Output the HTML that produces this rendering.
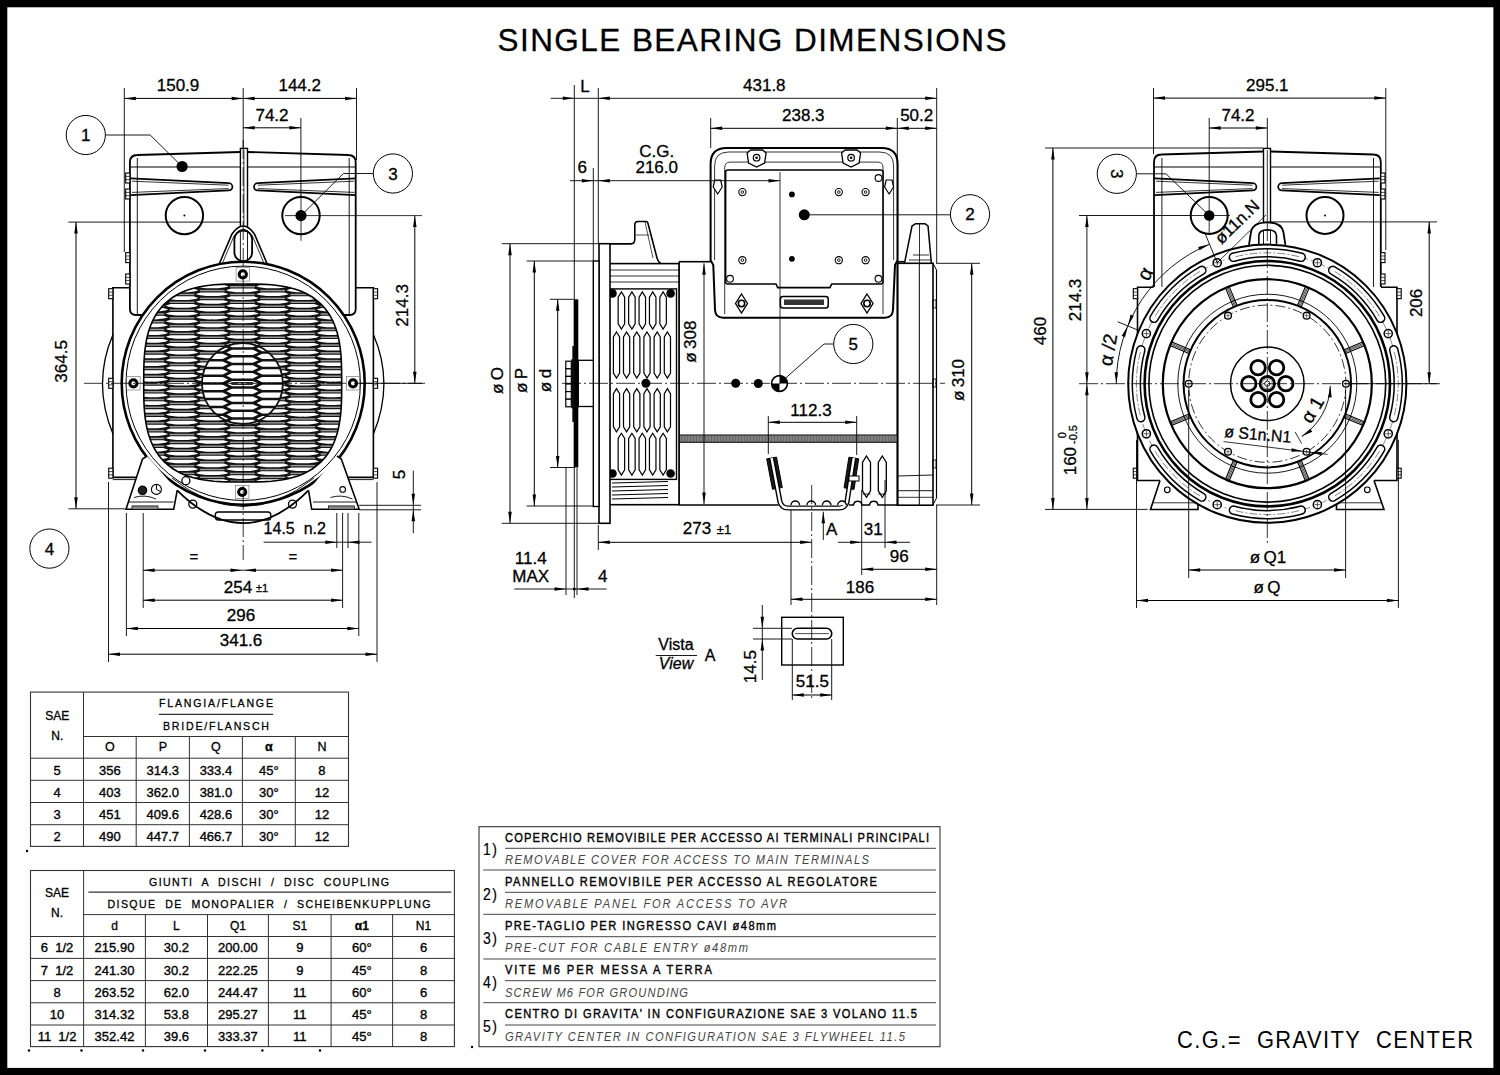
<!DOCTYPE html>
<html><head><meta charset="utf-8"><style>html,body{margin:0;padding:0;background:#000;}svg{display:block}</style></head>
<body><svg width="1500" height="1075" viewBox="0 0 1500 1075" stroke-linecap="butt">
<rect x="0" y="0" width="1500" height="1075" fill="#000"/>
<rect x="7.3" y="7.3" width="1486.1" height="1060.6" fill="#fff"/>
<rect x="30.5" y="692.1" width="318" height="154.3" stroke="#333" stroke-width="1.1" fill="none"/>
<line x1="83.5" y1="692.1" x2="83.5" y2="846.4" stroke="#333" stroke-width="1"/>
<line x1="136.2" y1="736.5" x2="136.2" y2="846.4" stroke="#333" stroke-width="1"/>
<line x1="189.4" y1="736.5" x2="189.4" y2="846.4" stroke="#333" stroke-width="1"/>
<line x1="242.4" y1="736.5" x2="242.4" y2="846.4" stroke="#333" stroke-width="1"/>
<line x1="295.3" y1="736.5" x2="295.3" y2="846.4" stroke="#333" stroke-width="1"/>
<line x1="83.5" y1="736.5" x2="348.5" y2="736.5" stroke="#333" stroke-width="1"/>
<line x1="30.5" y1="758.2" x2="348.5" y2="758.2" stroke="#333" stroke-width="1"/>
<line x1="30.5" y1="780.3" x2="348.5" y2="780.3" stroke="#333" stroke-width="1"/>
<line x1="30.5" y1="802.5" x2="348.5" y2="802.5" stroke="#333" stroke-width="1"/>
<line x1="30.5" y1="824.7" x2="348.5" y2="824.7" stroke="#333" stroke-width="1"/>
<g transform="translate(216,707.3) scale(0.9,1)"><text x="0" y="0" font-family="Liberation Sans" font-size="11.8" text-anchor="middle" fill="#000" stroke="#000" stroke-width="0.3" textLength="126.67" lengthAdjust="spacing" xml:space="preserve">FLANGIA/FLANGE</text></g>
<line x1="158.8" y1="714.3" x2="273.2" y2="714.3" stroke="#000" stroke-width="1"/>
<g transform="translate(216,730.2) scale(0.9,1)"><text x="0" y="0" font-family="Liberation Sans" font-size="11.8" text-anchor="middle" fill="#000" stroke="#000" stroke-width="0.3" textLength="117.78" lengthAdjust="spacing" xml:space="preserve">BRIDE/FLANSCH</text></g>
<text x="57.3" y="720" font-family="Liberation Sans" font-size="12" text-anchor="middle" fill="#000" stroke="#000" stroke-width="0.3">SAE</text>
<text x="57.3" y="739.5" font-family="Liberation Sans" font-size="12" text-anchor="middle" fill="#000" stroke="#000" stroke-width="0.3">N.</text>
<text x="109.85" y="751.2" font-family="Liberation Sans" font-size="12.5" text-anchor="middle" fill="#000" stroke="#000" stroke-width="0.3">O</text>
<text x="162.8" y="751.2" font-family="Liberation Sans" font-size="12.5" text-anchor="middle" fill="#000" stroke="#000" stroke-width="0.3">P</text>
<text x="215.9" y="751.2" font-family="Liberation Sans" font-size="12.5" text-anchor="middle" fill="#000" stroke="#000" stroke-width="0.3">Q</text>
<text x="268.85" y="751.2" font-family="Liberation Sans" font-size="12.5" text-anchor="middle" fill="#000" stroke="#000" stroke-width="0.3" font-weight="bold">α</text>
<text x="321.9" y="751.2" font-family="Liberation Sans" font-size="12.5" text-anchor="middle" fill="#000" stroke="#000" stroke-width="0.3">N</text>
<text x="57" y="774.5" font-family="Liberation Sans" font-size="13" text-anchor="middle" fill="#000" stroke="#000" stroke-width="0.35">5</text>
<text x="109.85" y="774.5" font-family="Liberation Sans" font-size="13" text-anchor="middle" fill="#000" stroke="#000" stroke-width="0.35">356</text>
<text x="162.8" y="774.5" font-family="Liberation Sans" font-size="13" text-anchor="middle" fill="#000" stroke="#000" stroke-width="0.35">314.3</text>
<text x="215.9" y="774.5" font-family="Liberation Sans" font-size="13" text-anchor="middle" fill="#000" stroke="#000" stroke-width="0.35">333.4</text>
<text x="268.85" y="774.5" font-family="Liberation Sans" font-size="13" text-anchor="middle" fill="#000" stroke="#000" stroke-width="0.35">45°</text>
<text x="321.9" y="774.5" font-family="Liberation Sans" font-size="13" text-anchor="middle" fill="#000" stroke="#000" stroke-width="0.35">8</text>
<text x="57" y="796.7" font-family="Liberation Sans" font-size="13" text-anchor="middle" fill="#000" stroke="#000" stroke-width="0.35">4</text>
<text x="109.85" y="796.7" font-family="Liberation Sans" font-size="13" text-anchor="middle" fill="#000" stroke="#000" stroke-width="0.35">403</text>
<text x="162.8" y="796.7" font-family="Liberation Sans" font-size="13" text-anchor="middle" fill="#000" stroke="#000" stroke-width="0.35">362.0</text>
<text x="215.9" y="796.7" font-family="Liberation Sans" font-size="13" text-anchor="middle" fill="#000" stroke="#000" stroke-width="0.35">381.0</text>
<text x="268.85" y="796.7" font-family="Liberation Sans" font-size="13" text-anchor="middle" fill="#000" stroke="#000" stroke-width="0.35">30°</text>
<text x="321.9" y="796.7" font-family="Liberation Sans" font-size="13" text-anchor="middle" fill="#000" stroke="#000" stroke-width="0.35">12</text>
<text x="57" y="818.8" font-family="Liberation Sans" font-size="13" text-anchor="middle" fill="#000" stroke="#000" stroke-width="0.35">3</text>
<text x="109.85" y="818.8" font-family="Liberation Sans" font-size="13" text-anchor="middle" fill="#000" stroke="#000" stroke-width="0.35">451</text>
<text x="162.8" y="818.8" font-family="Liberation Sans" font-size="13" text-anchor="middle" fill="#000" stroke="#000" stroke-width="0.35">409.6</text>
<text x="215.9" y="818.8" font-family="Liberation Sans" font-size="13" text-anchor="middle" fill="#000" stroke="#000" stroke-width="0.35">428.6</text>
<text x="268.85" y="818.8" font-family="Liberation Sans" font-size="13" text-anchor="middle" fill="#000" stroke="#000" stroke-width="0.35">30°</text>
<text x="321.9" y="818.8" font-family="Liberation Sans" font-size="13" text-anchor="middle" fill="#000" stroke="#000" stroke-width="0.35">12</text>
<text x="57" y="841" font-family="Liberation Sans" font-size="13" text-anchor="middle" fill="#000" stroke="#000" stroke-width="0.35">2</text>
<text x="109.85" y="841" font-family="Liberation Sans" font-size="13" text-anchor="middle" fill="#000" stroke="#000" stroke-width="0.35">490</text>
<text x="162.8" y="841" font-family="Liberation Sans" font-size="13" text-anchor="middle" fill="#000" stroke="#000" stroke-width="0.35">447.7</text>
<text x="215.9" y="841" font-family="Liberation Sans" font-size="13" text-anchor="middle" fill="#000" stroke="#000" stroke-width="0.35">466.7</text>
<text x="268.85" y="841" font-family="Liberation Sans" font-size="13" text-anchor="middle" fill="#000" stroke="#000" stroke-width="0.35">30°</text>
<text x="321.9" y="841" font-family="Liberation Sans" font-size="13" text-anchor="middle" fill="#000" stroke="#000" stroke-width="0.35">12</text>
<circle cx="27" cy="851" r="1.2" fill="#000"/>
<rect x="30.5" y="870.5" width="423.9" height="176.1" stroke="#333" stroke-width="1.1" fill="none"/>
<line x1="83.6" y1="870.5" x2="83.6" y2="1046.6" stroke="#333" stroke-width="1"/>
<line x1="145.4" y1="914.6" x2="145.4" y2="1046.6" stroke="#333" stroke-width="1"/>
<line x1="207.5" y1="914.6" x2="207.5" y2="1046.6" stroke="#333" stroke-width="1"/>
<line x1="268.4" y1="914.6" x2="268.4" y2="1046.6" stroke="#333" stroke-width="1"/>
<line x1="331.1" y1="914.6" x2="331.1" y2="1046.6" stroke="#333" stroke-width="1"/>
<line x1="392.6" y1="914.6" x2="392.6" y2="1046.6" stroke="#333" stroke-width="1"/>
<line x1="83.6" y1="914.6" x2="454.4" y2="914.6" stroke="#333" stroke-width="1"/>
<line x1="30.5" y1="936.5" x2="454.4" y2="936.5" stroke="#333" stroke-width="1"/>
<line x1="30.5" y1="958.4" x2="454.4" y2="958.4" stroke="#333" stroke-width="1"/>
<line x1="30.5" y1="980.6" x2="454.4" y2="980.6" stroke="#333" stroke-width="1"/>
<line x1="30.5" y1="1002.8" x2="454.4" y2="1002.8" stroke="#333" stroke-width="1"/>
<line x1="30.5" y1="1025" x2="454.4" y2="1025" stroke="#333" stroke-width="1"/>
<line x1="88.4" y1="892.1" x2="451.4" y2="892.1" stroke="#000" stroke-width="1"/>
<g transform="translate(269,886.1) scale(0.9,1)"><text x="0" y="0" font-family="Liberation Sans" font-size="11.8" text-anchor="middle" fill="#000" stroke="#000" stroke-width="0.3" textLength="266.67" lengthAdjust="spacing" xml:space="preserve">GIUNTI  A  DISCHI  /  DISC  COUPLING</text></g>
<g transform="translate(269,908) scale(0.9,1)"><text x="0" y="0" font-family="Liberation Sans" font-size="11.8" text-anchor="middle" fill="#000" stroke="#000" stroke-width="0.3" textLength="358.89" lengthAdjust="spacing" xml:space="preserve">DISQUE  DE  MONOPALIER  /  SCHEIBENKUPPLUNG</text></g>
<text x="57" y="897" font-family="Liberation Sans" font-size="12" text-anchor="middle" fill="#000" stroke="#000" stroke-width="0.3">SAE</text>
<text x="57" y="917" font-family="Liberation Sans" font-size="12" text-anchor="middle" fill="#000" stroke="#000" stroke-width="0.3">N.</text>
<text x="114.5" y="929.6" font-family="Liberation Sans" font-size="12" text-anchor="middle" fill="#000" stroke="#000" stroke-width="0.3">d</text>
<text x="176.45" y="929.6" font-family="Liberation Sans" font-size="12" text-anchor="middle" fill="#000" stroke="#000" stroke-width="0.3">L</text>
<text x="237.95" y="929.6" font-family="Liberation Sans" font-size="12" text-anchor="middle" fill="#000" stroke="#000" stroke-width="0.3">Q1</text>
<text x="299.75" y="929.6" font-family="Liberation Sans" font-size="12" text-anchor="middle" fill="#000" stroke="#000" stroke-width="0.3">S1</text>
<text x="361.85" y="929.6" font-family="Liberation Sans" font-size="12" text-anchor="middle" fill="#000" stroke="#000" stroke-width="0.3" font-weight="bold">α1</text>
<text x="423.5" y="929.6" font-family="Liberation Sans" font-size="12" text-anchor="middle" fill="#000" stroke="#000" stroke-width="0.3">N1</text>
<text x="57.05" y="952.1" font-family="Liberation Sans" font-size="13" text-anchor="middle" fill="#000" stroke="#000" stroke-width="0.35" xml:space="preserve">6  1/2</text>
<text x="114.5" y="952.1" font-family="Liberation Sans" font-size="13" text-anchor="middle" fill="#000" stroke="#000" stroke-width="0.35" xml:space="preserve">215.90</text>
<text x="176.45" y="952.1" font-family="Liberation Sans" font-size="13" text-anchor="middle" fill="#000" stroke="#000" stroke-width="0.35" xml:space="preserve">30.2</text>
<text x="237.95" y="952.1" font-family="Liberation Sans" font-size="13" text-anchor="middle" fill="#000" stroke="#000" stroke-width="0.35" xml:space="preserve">200.00</text>
<text x="299.75" y="952.1" font-family="Liberation Sans" font-size="13" text-anchor="middle" fill="#000" stroke="#000" stroke-width="0.35" xml:space="preserve">9</text>
<text x="361.85" y="952.1" font-family="Liberation Sans" font-size="13" text-anchor="middle" fill="#000" stroke="#000" stroke-width="0.35" xml:space="preserve">60°</text>
<text x="423.5" y="952.1" font-family="Liberation Sans" font-size="13" text-anchor="middle" fill="#000" stroke="#000" stroke-width="0.35" xml:space="preserve">6</text>
<text x="57.05" y="974.6" font-family="Liberation Sans" font-size="13" text-anchor="middle" fill="#000" stroke="#000" stroke-width="0.35" xml:space="preserve">7  1/2</text>
<text x="114.5" y="974.6" font-family="Liberation Sans" font-size="13" text-anchor="middle" fill="#000" stroke="#000" stroke-width="0.35" xml:space="preserve">241.30</text>
<text x="176.45" y="974.6" font-family="Liberation Sans" font-size="13" text-anchor="middle" fill="#000" stroke="#000" stroke-width="0.35" xml:space="preserve">30.2</text>
<text x="237.95" y="974.6" font-family="Liberation Sans" font-size="13" text-anchor="middle" fill="#000" stroke="#000" stroke-width="0.35" xml:space="preserve">222.25</text>
<text x="299.75" y="974.6" font-family="Liberation Sans" font-size="13" text-anchor="middle" fill="#000" stroke="#000" stroke-width="0.35" xml:space="preserve">9</text>
<text x="361.85" y="974.6" font-family="Liberation Sans" font-size="13" text-anchor="middle" fill="#000" stroke="#000" stroke-width="0.35" xml:space="preserve">45°</text>
<text x="423.5" y="974.6" font-family="Liberation Sans" font-size="13" text-anchor="middle" fill="#000" stroke="#000" stroke-width="0.35" xml:space="preserve">8</text>
<text x="57.05" y="996.5" font-family="Liberation Sans" font-size="13" text-anchor="middle" fill="#000" stroke="#000" stroke-width="0.35" xml:space="preserve">8</text>
<text x="114.5" y="996.5" font-family="Liberation Sans" font-size="13" text-anchor="middle" fill="#000" stroke="#000" stroke-width="0.35" xml:space="preserve">263.52</text>
<text x="176.45" y="996.5" font-family="Liberation Sans" font-size="13" text-anchor="middle" fill="#000" stroke="#000" stroke-width="0.35" xml:space="preserve">62.0</text>
<text x="237.95" y="996.5" font-family="Liberation Sans" font-size="13" text-anchor="middle" fill="#000" stroke="#000" stroke-width="0.35" xml:space="preserve">244.47</text>
<text x="299.75" y="996.5" font-family="Liberation Sans" font-size="13" text-anchor="middle" fill="#000" stroke="#000" stroke-width="0.35" xml:space="preserve">11</text>
<text x="361.85" y="996.5" font-family="Liberation Sans" font-size="13" text-anchor="middle" fill="#000" stroke="#000" stroke-width="0.35" xml:space="preserve">60°</text>
<text x="423.5" y="996.5" font-family="Liberation Sans" font-size="13" text-anchor="middle" fill="#000" stroke="#000" stroke-width="0.35" xml:space="preserve">6</text>
<text x="57.05" y="1019" font-family="Liberation Sans" font-size="13" text-anchor="middle" fill="#000" stroke="#000" stroke-width="0.35" xml:space="preserve">10</text>
<text x="114.5" y="1019" font-family="Liberation Sans" font-size="13" text-anchor="middle" fill="#000" stroke="#000" stroke-width="0.35" xml:space="preserve">314.32</text>
<text x="176.45" y="1019" font-family="Liberation Sans" font-size="13" text-anchor="middle" fill="#000" stroke="#000" stroke-width="0.35" xml:space="preserve">53.8</text>
<text x="237.95" y="1019" font-family="Liberation Sans" font-size="13" text-anchor="middle" fill="#000" stroke="#000" stroke-width="0.35" xml:space="preserve">295.27</text>
<text x="299.75" y="1019" font-family="Liberation Sans" font-size="13" text-anchor="middle" fill="#000" stroke="#000" stroke-width="0.35" xml:space="preserve">11</text>
<text x="361.85" y="1019" font-family="Liberation Sans" font-size="13" text-anchor="middle" fill="#000" stroke="#000" stroke-width="0.35" xml:space="preserve">45°</text>
<text x="423.5" y="1019" font-family="Liberation Sans" font-size="13" text-anchor="middle" fill="#000" stroke="#000" stroke-width="0.35" xml:space="preserve">8</text>
<text x="57.05" y="1040.6" font-family="Liberation Sans" font-size="13" text-anchor="middle" fill="#000" stroke="#000" stroke-width="0.35" xml:space="preserve">11  1/2</text>
<text x="114.5" y="1040.6" font-family="Liberation Sans" font-size="13" text-anchor="middle" fill="#000" stroke="#000" stroke-width="0.35" xml:space="preserve">352.42</text>
<text x="176.45" y="1040.6" font-family="Liberation Sans" font-size="13" text-anchor="middle" fill="#000" stroke="#000" stroke-width="0.35" xml:space="preserve">39.6</text>
<text x="237.95" y="1040.6" font-family="Liberation Sans" font-size="13" text-anchor="middle" fill="#000" stroke="#000" stroke-width="0.35" xml:space="preserve">333.37</text>
<text x="299.75" y="1040.6" font-family="Liberation Sans" font-size="13" text-anchor="middle" fill="#000" stroke="#000" stroke-width="0.35" xml:space="preserve">11</text>
<text x="361.85" y="1040.6" font-family="Liberation Sans" font-size="13" text-anchor="middle" fill="#000" stroke="#000" stroke-width="0.35" xml:space="preserve">45°</text>
<text x="423.5" y="1040.6" font-family="Liberation Sans" font-size="13" text-anchor="middle" fill="#000" stroke="#000" stroke-width="0.35" xml:space="preserve">8</text>
<circle cx="29" cy="1050.5" r="1.2" fill="#000"/>
<circle cx="81.5" cy="1050.5" r="1.2" fill="#000"/>
<circle cx="143" cy="1050.5" r="1.2" fill="#000"/>
<circle cx="205" cy="1050.5" r="1.2" fill="#000"/>
<circle cx="262.4" cy="1050.5" r="1.2" fill="#000"/>
<circle cx="320" cy="1050.5" r="1.2" fill="#000"/>
<rect x="479" y="826.7" width="461" height="220" stroke="#333" stroke-width="1.1" fill="none"/>
<line x1="483.3" y1="870" x2="936" y2="870" stroke="#444" stroke-width="1"/>
<line x1="483.3" y1="914.3" x2="936" y2="914.3" stroke="#444" stroke-width="1"/>
<line x1="483.3" y1="959" x2="936" y2="959" stroke="#444" stroke-width="1"/>
<line x1="483.3" y1="1002.7" x2="936" y2="1002.7" stroke="#444" stroke-width="1"/>
<line x1="505" y1="848.3" x2="936" y2="848.3" stroke="#444" stroke-width="1"/>
<line x1="505" y1="892.3" x2="936" y2="892.3" stroke="#444" stroke-width="1"/>
<line x1="505" y1="936.7" x2="936" y2="936.7" stroke="#444" stroke-width="1"/>
<line x1="505" y1="980.7" x2="936" y2="980.7" stroke="#444" stroke-width="1"/>
<line x1="505" y1="1025" x2="936" y2="1025" stroke="#444" stroke-width="1"/>
<g transform="translate(505,841.7) scale(0.85,1)"><text x="0" y="0" font-family="Liberation Sans" font-size="13.1" text-anchor="start" fill="#000" stroke="#000" stroke-width="0.4" textLength="498.82" lengthAdjust="spacing" xml:space="preserve">COPERCHIO REMOVIBILE PER ACCESSO AI TERMINALI PRINCIPALI</text></g>
<g transform="translate(505,864) scale(0.85,1)"><text x="0" y="0" font-family="Liberation Sans" font-size="13.1" text-anchor="start" fill="#444" font-style="italic" textLength="428.24" lengthAdjust="spacing" xml:space="preserve">REMOVABLE COVER FOR ACCESS TO MAIN TERMINALS</text></g>
<g transform="translate(483,855.2) scale(0.85,1)"><text x="0" y="0" font-family="Liberation Sans" font-size="16.5" text-anchor="start" fill="#000" stroke="#000" stroke-width="0.2" textLength="16.47" lengthAdjust="spacing" xml:space="preserve">1)</text></g>
<g transform="translate(505,886) scale(0.85,1)"><text x="0" y="0" font-family="Liberation Sans" font-size="13.1" text-anchor="start" fill="#000" stroke="#000" stroke-width="0.4" textLength="437.65" lengthAdjust="spacing" xml:space="preserve">PANNELLO REMOVIBILE PER ACCESSO AL REGOLATORE</text></g>
<g transform="translate(505,908.3) scale(0.85,1)"><text x="0" y="0" font-family="Liberation Sans" font-size="13.1" text-anchor="start" fill="#444" font-style="italic" textLength="331.76" lengthAdjust="spacing" xml:space="preserve">REMOVABLE PANEL FOR ACCESS TO AVR</text></g>
<g transform="translate(483,899.5) scale(0.85,1)"><text x="0" y="0" font-family="Liberation Sans" font-size="16.5" text-anchor="start" fill="#000" stroke="#000" stroke-width="0.2" textLength="16.47" lengthAdjust="spacing" xml:space="preserve">2)</text></g>
<g transform="translate(505,930) scale(0.85,1)"><text x="0" y="0" font-family="Liberation Sans" font-size="13.1" text-anchor="start" fill="#000" stroke="#000" stroke-width="0.4" textLength="318.82" lengthAdjust="spacing" xml:space="preserve">PRE-TAGLIO PER INGRESSO CAVI ø48mm</text></g>
<g transform="translate(505,952.3) scale(0.85,1)"><text x="0" y="0" font-family="Liberation Sans" font-size="13.1" text-anchor="start" fill="#444" font-style="italic" textLength="285.88" lengthAdjust="spacing" xml:space="preserve">PRE-CUT FOR CABLE ENTRY ø48mm</text></g>
<g transform="translate(483,943.5) scale(0.85,1)"><text x="0" y="0" font-family="Liberation Sans" font-size="16.5" text-anchor="start" fill="#000" stroke="#000" stroke-width="0.2" textLength="16.47" lengthAdjust="spacing" xml:space="preserve">3)</text></g>
<g transform="translate(505,974.3) scale(0.85,1)"><text x="0" y="0" font-family="Liberation Sans" font-size="13.1" text-anchor="start" fill="#000" stroke="#000" stroke-width="0.4" textLength="243.53" lengthAdjust="spacing" xml:space="preserve">VITE M6 PER MESSA A TERRA</text></g>
<g transform="translate(505,996.7) scale(0.85,1)"><text x="0" y="0" font-family="Liberation Sans" font-size="13.1" text-anchor="start" fill="#444" font-style="italic" textLength="215.29" lengthAdjust="spacing" xml:space="preserve">SCREW M6 FOR GROUNDING</text></g>
<g transform="translate(483,987.8) scale(0.85,1)"><text x="0" y="0" font-family="Liberation Sans" font-size="16.5" text-anchor="start" fill="#000" stroke="#000" stroke-width="0.2" textLength="16.47" lengthAdjust="spacing" xml:space="preserve">4)</text></g>
<g transform="translate(505,1018.3) scale(0.85,1)"><text x="0" y="0" font-family="Liberation Sans" font-size="13.1" text-anchor="start" fill="#000" stroke="#000" stroke-width="0.4" textLength="484.71" lengthAdjust="spacing" xml:space="preserve">CENTRO DI GRAVITA' IN CONFIGURAZIONE SAE 3 VOLANO 11.5</text></g>
<g transform="translate(505,1040.7) scale(0.85,1)"><text x="0" y="0" font-family="Liberation Sans" font-size="13.1" text-anchor="start" fill="#444" font-style="italic" textLength="470.59" lengthAdjust="spacing" xml:space="preserve">GRAVITY CENTER IN CONFIGURATION SAE 3 FLYWHEEL 11.5</text></g>
<g transform="translate(483,1031.8) scale(0.85,1)"><text x="0" y="0" font-family="Liberation Sans" font-size="16.5" text-anchor="start" fill="#000" stroke="#000" stroke-width="0.2" textLength="16.47" lengthAdjust="spacing" xml:space="preserve">5)</text></g>
<circle cx="472" cy="1047" r="1.2" fill="#000"/>
<g transform="translate(1177,1048) scale(0.9,1)"><text x="0" y="0" font-family="Liberation Sans" font-size="24.3" text-anchor="start" fill="#000" textLength="328.89" lengthAdjust="spacing" xml:space="preserve">C.G.=  GRAVITY  CENTER</text></g>
<clipPath id="grL"><path d="M341.7,383 L341.61,396.85 L341.34,404.97 L340.89,411.74 L340.25,417.74 L339.44,423.21 L338.44,428.25 L337.27,432.95 L335.91,437.35 L334.37,441.48 L332.65,445.37 L330.74,449.02 L328.66,452.47 L326.38,455.7 L323.92,458.74 L321.28,461.58 L318.44,464.22 L315.4,466.68 L312.17,468.96 L308.72,471.04 L305.07,472.95 L301.18,474.67 L297.05,476.21 L292.65,477.57 L287.95,478.74 L282.91,479.74 L277.44,480.55 L271.44,481.19 L264.67,481.64 L256.55,481.91 L242.7,482 L228.85,481.91 L220.73,481.64 L213.96,481.19 L207.96,480.55 L202.49,479.74 L197.45,478.74 L192.75,477.57 L188.35,476.21 L184.22,474.67 L180.33,472.95 L176.68,471.04 L173.23,468.96 L170,466.68 L166.96,464.22 L164.12,461.58 L161.48,458.74 L159.02,455.7 L156.74,452.47 L154.66,449.02 L152.75,445.37 L151.03,441.48 L149.49,437.35 L148.13,432.95 L146.96,428.25 L145.96,423.21 L145.15,417.74 L144.51,411.74 L144.06,404.97 L143.79,396.85 L143.7,383 L143.79,369.15 L144.06,361.03 L144.51,354.26 L145.15,348.26 L145.96,342.79 L146.96,337.75 L148.13,333.05 L149.49,328.65 L151.03,324.52 L152.75,320.63 L154.66,316.98 L156.74,313.53 L159.02,310.3 L161.48,307.26 L164.12,304.42 L166.96,301.78 L170,299.32 L173.23,297.04 L176.68,294.96 L180.33,293.05 L184.22,291.33 L188.35,289.79 L192.75,288.43 L197.45,287.26 L202.49,286.26 L207.96,285.45 L213.96,284.81 L220.73,284.36 L228.85,284.09 L242.7,284 L256.55,284.09 L264.67,284.36 L271.44,284.81 L277.44,285.45 L282.91,286.26 L287.95,287.26 L292.65,288.43 L297.05,289.79 L301.18,291.33 L305.07,293.05 L308.72,294.96 L312.17,297.04 L315.4,299.32 L318.44,301.78 L321.28,304.42 L323.92,307.26 L326.38,310.3 L328.66,313.53 L330.74,316.98 L332.65,320.63 L334.37,324.52 L335.91,328.65 L337.27,333.05 L338.44,337.75 L339.44,342.79 L340.25,348.26 L340.89,354.26 L341.34,361.03 L341.61,369.15Z"/></clipPath>
<g clip-path="url(#grL)">
<rect x="143.2" y="283.3" width="200" height="200" stroke="#000" stroke-width="0" fill="#111"/>
<path d="M105.2,266.8 L110.2,265.2 L133,265.2 L138,266.8 Q132,269 121.6,268.8 Q111.2,269 105.2,266.8 Z" stroke="#000" stroke-width="0" fill="#fff" stroke="none"/>
<rect x="109.2" y="270.39" width="24.8" height="1.5" stroke="#000" stroke-width="0" fill="#9a9a9a" stroke="none"/>
<path d="M105.2,274.58 L110.2,272.98 L133,272.98 L138,274.58 Q132,276.78 121.6,276.58 Q111.2,276.78 105.2,274.58 Z" stroke="#000" stroke-width="0" fill="#fff" stroke="none"/>
<rect x="109.2" y="278.17" width="24.8" height="1.5" stroke="#000" stroke-width="0" fill="#9a9a9a" stroke="none"/>
<path d="M105.2,282.36 L110.2,280.76 L133,280.76 L138,282.36 Q132,284.56 121.6,284.36 Q111.2,284.56 105.2,282.36 Z" stroke="#000" stroke-width="0" fill="#fff" stroke="none"/>
<rect x="109.2" y="285.95" width="24.8" height="1.5" stroke="#000" stroke-width="0" fill="#9a9a9a" stroke="none"/>
<path d="M105.2,290.14 L110.2,288.54 L133,288.54 L138,290.14 Q132,292.34 121.6,292.14 Q111.2,292.34 105.2,290.14 Z" stroke="#000" stroke-width="0" fill="#fff" stroke="none"/>
<rect x="109.2" y="293.73" width="24.8" height="1.5" stroke="#000" stroke-width="0" fill="#9a9a9a" stroke="none"/>
<path d="M105.2,297.92 L110.2,296.32 L133,296.32 L138,297.92 Q132,300.12 121.6,299.92 Q111.2,300.12 105.2,297.92 Z" stroke="#000" stroke-width="0" fill="#fff" stroke="none"/>
<rect x="109.2" y="301.51" width="24.8" height="1.5" stroke="#000" stroke-width="0" fill="#9a9a9a" stroke="none"/>
<path d="M105.2,305.7 L110.2,304.1 L133,304.1 L138,305.7 Q132,307.9 121.6,307.7 Q111.2,307.9 105.2,305.7 Z" stroke="#000" stroke-width="0" fill="#fff" stroke="none"/>
<rect x="109.2" y="309.29" width="24.8" height="1.5" stroke="#000" stroke-width="0" fill="#9a9a9a" stroke="none"/>
<path d="M105.2,313.48 L110.2,311.88 L133,311.88 L138,313.48 Q132,315.68 121.6,315.48 Q111.2,315.68 105.2,313.48 Z" stroke="#000" stroke-width="0" fill="#fff" stroke="none"/>
<rect x="109.2" y="317.07" width="24.8" height="1.5" stroke="#000" stroke-width="0" fill="#9a9a9a" stroke="none"/>
<path d="M105.2,321.26 L110.2,319.66 L133,319.66 L138,321.26 Q132,323.46 121.6,323.26 Q111.2,323.46 105.2,321.26 Z" stroke="#000" stroke-width="0" fill="#fff" stroke="none"/>
<rect x="109.2" y="324.85" width="24.8" height="1.5" stroke="#000" stroke-width="0" fill="#9a9a9a" stroke="none"/>
<path d="M105.2,329.04 L110.2,327.44 L133,327.44 L138,329.04 Q132,331.24 121.6,331.04 Q111.2,331.24 105.2,329.04 Z" stroke="#000" stroke-width="0" fill="#fff" stroke="none"/>
<rect x="109.2" y="332.63" width="24.8" height="1.5" stroke="#000" stroke-width="0" fill="#9a9a9a" stroke="none"/>
<path d="M105.2,336.82 L110.2,335.22 L133,335.22 L138,336.82 Q132,339.02 121.6,338.82 Q111.2,339.02 105.2,336.82 Z" stroke="#000" stroke-width="0" fill="#fff" stroke="none"/>
<rect x="109.2" y="340.41" width="24.8" height="1.5" stroke="#000" stroke-width="0" fill="#9a9a9a" stroke="none"/>
<path d="M105.2,344.6 L110.2,343 L133,343 L138,344.6 Q132,346.8 121.6,346.6 Q111.2,346.8 105.2,344.6 Z" stroke="#000" stroke-width="0" fill="#fff" stroke="none"/>
<rect x="109.2" y="348.19" width="24.8" height="1.5" stroke="#000" stroke-width="0" fill="#9a9a9a" stroke="none"/>
<path d="M105.2,352.38 L110.2,350.78 L133,350.78 L138,352.38 Q132,354.58 121.6,354.38 Q111.2,354.58 105.2,352.38 Z" stroke="#000" stroke-width="0" fill="#fff" stroke="none"/>
<rect x="109.2" y="355.97" width="24.8" height="1.5" stroke="#000" stroke-width="0" fill="#9a9a9a" stroke="none"/>
<path d="M105.2,360.16 L110.2,358.56 L133,358.56 L138,360.16 Q132,362.36 121.6,362.16 Q111.2,362.36 105.2,360.16 Z" stroke="#000" stroke-width="0" fill="#fff" stroke="none"/>
<rect x="109.2" y="363.75" width="24.8" height="1.5" stroke="#000" stroke-width="0" fill="#9a9a9a" stroke="none"/>
<path d="M105.2,367.94 L110.2,366.34 L133,366.34 L138,367.94 Q132,370.14 121.6,369.94 Q111.2,370.14 105.2,367.94 Z" stroke="#000" stroke-width="0" fill="#fff" stroke="none"/>
<rect x="109.2" y="371.53" width="24.8" height="1.5" stroke="#000" stroke-width="0" fill="#9a9a9a" stroke="none"/>
<path d="M105.2,375.72 L110.2,374.12 L133,374.12 L138,375.72 Q132,377.92 121.6,377.72 Q111.2,377.92 105.2,375.72 Z" stroke="#000" stroke-width="0" fill="#fff" stroke="none"/>
<rect x="109.2" y="379.31" width="24.8" height="1.5" stroke="#000" stroke-width="0" fill="#9a9a9a" stroke="none"/>
<path d="M105.2,383.5 L110.2,381.9 L133,381.9 L138,383.5 Q132,385.7 121.6,385.5 Q111.2,385.7 105.2,383.5 Z" stroke="#000" stroke-width="0" fill="#fff" stroke="none"/>
<rect x="109.2" y="387.09" width="24.8" height="1.5" stroke="#000" stroke-width="0" fill="#9a9a9a" stroke="none"/>
<path d="M105.2,391.28 L110.2,389.68 L133,389.68 L138,391.28 Q132,393.48 121.6,393.28 Q111.2,393.48 105.2,391.28 Z" stroke="#000" stroke-width="0" fill="#fff" stroke="none"/>
<rect x="109.2" y="394.87" width="24.8" height="1.5" stroke="#000" stroke-width="0" fill="#9a9a9a" stroke="none"/>
<path d="M105.2,399.06 L110.2,397.46 L133,397.46 L138,399.06 Q132,401.26 121.6,401.06 Q111.2,401.26 105.2,399.06 Z" stroke="#000" stroke-width="0" fill="#fff" stroke="none"/>
<rect x="109.2" y="402.65" width="24.8" height="1.5" stroke="#000" stroke-width="0" fill="#9a9a9a" stroke="none"/>
<path d="M105.2,406.84 L110.2,405.24 L133,405.24 L138,406.84 Q132,409.04 121.6,408.84 Q111.2,409.04 105.2,406.84 Z" stroke="#000" stroke-width="0" fill="#fff" stroke="none"/>
<rect x="109.2" y="410.43" width="24.8" height="1.5" stroke="#000" stroke-width="0" fill="#9a9a9a" stroke="none"/>
<path d="M105.2,414.62 L110.2,413.02 L133,413.02 L138,414.62 Q132,416.82 121.6,416.62 Q111.2,416.82 105.2,414.62 Z" stroke="#000" stroke-width="0" fill="#fff" stroke="none"/>
<rect x="109.2" y="418.21" width="24.8" height="1.5" stroke="#000" stroke-width="0" fill="#9a9a9a" stroke="none"/>
<path d="M105.2,422.4 L110.2,420.8 L133,420.8 L138,422.4 Q132,424.6 121.6,424.4 Q111.2,424.6 105.2,422.4 Z" stroke="#000" stroke-width="0" fill="#fff" stroke="none"/>
<rect x="109.2" y="425.99" width="24.8" height="1.5" stroke="#000" stroke-width="0" fill="#9a9a9a" stroke="none"/>
<path d="M105.2,430.18 L110.2,428.58 L133,428.58 L138,430.18 Q132,432.38 121.6,432.18 Q111.2,432.38 105.2,430.18 Z" stroke="#000" stroke-width="0" fill="#fff" stroke="none"/>
<rect x="109.2" y="433.77" width="24.8" height="1.5" stroke="#000" stroke-width="0" fill="#9a9a9a" stroke="none"/>
<path d="M105.2,437.96 L110.2,436.36 L133,436.36 L138,437.96 Q132,440.16 121.6,439.96 Q111.2,440.16 105.2,437.96 Z" stroke="#000" stroke-width="0" fill="#fff" stroke="none"/>
<rect x="109.2" y="441.55" width="24.8" height="1.5" stroke="#000" stroke-width="0" fill="#9a9a9a" stroke="none"/>
<path d="M105.2,445.74 L110.2,444.14 L133,444.14 L138,445.74 Q132,447.94 121.6,447.74 Q111.2,447.94 105.2,445.74 Z" stroke="#000" stroke-width="0" fill="#fff" stroke="none"/>
<rect x="109.2" y="449.33" width="24.8" height="1.5" stroke="#000" stroke-width="0" fill="#9a9a9a" stroke="none"/>
<path d="M105.2,453.52 L110.2,451.92 L133,451.92 L138,453.52 Q132,455.72 121.6,455.52 Q111.2,455.72 105.2,453.52 Z" stroke="#000" stroke-width="0" fill="#fff" stroke="none"/>
<rect x="109.2" y="457.11" width="24.8" height="1.5" stroke="#000" stroke-width="0" fill="#9a9a9a" stroke="none"/>
<path d="M105.2,461.3 L110.2,459.7 L133,459.7 L138,461.3 Q132,463.5 121.6,463.3 Q111.2,463.5 105.2,461.3 Z" stroke="#000" stroke-width="0" fill="#fff" stroke="none"/>
<rect x="109.2" y="464.89" width="24.8" height="1.5" stroke="#000" stroke-width="0" fill="#9a9a9a" stroke="none"/>
<path d="M105.2,469.08 L110.2,467.48 L133,467.48 L138,469.08 Q132,471.28 121.6,471.08 Q111.2,471.28 105.2,469.08 Z" stroke="#000" stroke-width="0" fill="#fff" stroke="none"/>
<rect x="109.2" y="472.67" width="24.8" height="1.5" stroke="#000" stroke-width="0" fill="#9a9a9a" stroke="none"/>
<path d="M105.2,476.86 L110.2,475.26 L133,475.26 L138,476.86 Q132,479.06 121.6,478.86 Q111.2,479.06 105.2,476.86 Z" stroke="#000" stroke-width="0" fill="#fff" stroke="none"/>
<rect x="109.2" y="480.45" width="24.8" height="1.5" stroke="#000" stroke-width="0" fill="#9a9a9a" stroke="none"/>
<path d="M105.2,484.64 L110.2,483.04 L133,483.04 L138,484.64 Q132,486.84 121.6,486.64 Q111.2,486.84 105.2,484.64 Z" stroke="#000" stroke-width="0" fill="#fff" stroke="none"/>
<rect x="109.2" y="488.23" width="24.8" height="1.5" stroke="#000" stroke-width="0" fill="#9a9a9a" stroke="none"/>
<path d="M105.2,492.42 L110.2,490.82 L133,490.82 L138,492.42 Q132,494.62 121.6,494.42 Q111.2,494.62 105.2,492.42 Z" stroke="#000" stroke-width="0" fill="#fff" stroke="none"/>
<rect x="109.2" y="496.01" width="24.8" height="1.5" stroke="#000" stroke-width="0" fill="#9a9a9a" stroke="none"/>
<path d="M105.2,500.2 L110.2,498.6 L133,498.6 L138,500.2 Q132,502.4 121.6,502.2 Q111.2,502.4 105.2,500.2 Z" stroke="#000" stroke-width="0" fill="#fff" stroke="none"/>
<rect x="109.2" y="503.79" width="24.8" height="1.5" stroke="#000" stroke-width="0" fill="#9a9a9a" stroke="none"/>
<path d="M135.4,270.69 L140.4,269.09 L163.2,269.09 L168.2,270.69 Q162.2,272.89 151.8,272.69 Q141.4,272.89 135.4,270.69 Z" stroke="#000" stroke-width="0" fill="#fff" stroke="none"/>
<rect x="139.4" y="274.28" width="24.8" height="1.5" stroke="#000" stroke-width="0" fill="#9a9a9a" stroke="none"/>
<path d="M135.4,278.47 L140.4,276.87 L163.2,276.87 L168.2,278.47 Q162.2,280.67 151.8,280.47 Q141.4,280.67 135.4,278.47 Z" stroke="#000" stroke-width="0" fill="#fff" stroke="none"/>
<rect x="139.4" y="282.06" width="24.8" height="1.5" stroke="#000" stroke-width="0" fill="#9a9a9a" stroke="none"/>
<path d="M135.4,286.25 L140.4,284.65 L163.2,284.65 L168.2,286.25 Q162.2,288.45 151.8,288.25 Q141.4,288.45 135.4,286.25 Z" stroke="#000" stroke-width="0" fill="#fff" stroke="none"/>
<rect x="139.4" y="289.84" width="24.8" height="1.5" stroke="#000" stroke-width="0" fill="#9a9a9a" stroke="none"/>
<path d="M135.4,294.03 L140.4,292.43 L163.2,292.43 L168.2,294.03 Q162.2,296.23 151.8,296.03 Q141.4,296.23 135.4,294.03 Z" stroke="#000" stroke-width="0" fill="#fff" stroke="none"/>
<rect x="139.4" y="297.62" width="24.8" height="1.5" stroke="#000" stroke-width="0" fill="#9a9a9a" stroke="none"/>
<path d="M135.4,301.81 L140.4,300.21 L163.2,300.21 L168.2,301.81 Q162.2,304.01 151.8,303.81 Q141.4,304.01 135.4,301.81 Z" stroke="#000" stroke-width="0" fill="#fff" stroke="none"/>
<rect x="139.4" y="305.4" width="24.8" height="1.5" stroke="#000" stroke-width="0" fill="#9a9a9a" stroke="none"/>
<path d="M135.4,309.59 L140.4,307.99 L163.2,307.99 L168.2,309.59 Q162.2,311.79 151.8,311.59 Q141.4,311.79 135.4,309.59 Z" stroke="#000" stroke-width="0" fill="#fff" stroke="none"/>
<rect x="139.4" y="313.18" width="24.8" height="1.5" stroke="#000" stroke-width="0" fill="#9a9a9a" stroke="none"/>
<path d="M135.4,317.37 L140.4,315.77 L163.2,315.77 L168.2,317.37 Q162.2,319.57 151.8,319.37 Q141.4,319.57 135.4,317.37 Z" stroke="#000" stroke-width="0" fill="#fff" stroke="none"/>
<rect x="139.4" y="320.96" width="24.8" height="1.5" stroke="#000" stroke-width="0" fill="#9a9a9a" stroke="none"/>
<path d="M135.4,325.15 L140.4,323.55 L163.2,323.55 L168.2,325.15 Q162.2,327.35 151.8,327.15 Q141.4,327.35 135.4,325.15 Z" stroke="#000" stroke-width="0" fill="#fff" stroke="none"/>
<rect x="139.4" y="328.74" width="24.8" height="1.5" stroke="#000" stroke-width="0" fill="#9a9a9a" stroke="none"/>
<path d="M135.4,332.93 L140.4,331.33 L163.2,331.33 L168.2,332.93 Q162.2,335.13 151.8,334.93 Q141.4,335.13 135.4,332.93 Z" stroke="#000" stroke-width="0" fill="#fff" stroke="none"/>
<rect x="139.4" y="336.52" width="24.8" height="1.5" stroke="#000" stroke-width="0" fill="#9a9a9a" stroke="none"/>
<path d="M135.4,340.71 L140.4,339.11 L163.2,339.11 L168.2,340.71 Q162.2,342.91 151.8,342.71 Q141.4,342.91 135.4,340.71 Z" stroke="#000" stroke-width="0" fill="#fff" stroke="none"/>
<rect x="139.4" y="344.3" width="24.8" height="1.5" stroke="#000" stroke-width="0" fill="#9a9a9a" stroke="none"/>
<path d="M135.4,348.49 L140.4,346.89 L163.2,346.89 L168.2,348.49 Q162.2,350.69 151.8,350.49 Q141.4,350.69 135.4,348.49 Z" stroke="#000" stroke-width="0" fill="#fff" stroke="none"/>
<rect x="139.4" y="352.08" width="24.8" height="1.5" stroke="#000" stroke-width="0" fill="#9a9a9a" stroke="none"/>
<path d="M135.4,356.27 L140.4,354.67 L163.2,354.67 L168.2,356.27 Q162.2,358.47 151.8,358.27 Q141.4,358.47 135.4,356.27 Z" stroke="#000" stroke-width="0" fill="#fff" stroke="none"/>
<rect x="139.4" y="359.86" width="24.8" height="1.5" stroke="#000" stroke-width="0" fill="#9a9a9a" stroke="none"/>
<path d="M135.4,364.05 L140.4,362.45 L163.2,362.45 L168.2,364.05 Q162.2,366.25 151.8,366.05 Q141.4,366.25 135.4,364.05 Z" stroke="#000" stroke-width="0" fill="#fff" stroke="none"/>
<rect x="139.4" y="367.64" width="24.8" height="1.5" stroke="#000" stroke-width="0" fill="#9a9a9a" stroke="none"/>
<path d="M135.4,371.83 L140.4,370.23 L163.2,370.23 L168.2,371.83 Q162.2,374.03 151.8,373.83 Q141.4,374.03 135.4,371.83 Z" stroke="#000" stroke-width="0" fill="#fff" stroke="none"/>
<rect x="139.4" y="375.42" width="24.8" height="1.5" stroke="#000" stroke-width="0" fill="#9a9a9a" stroke="none"/>
<path d="M135.4,379.61 L140.4,378.01 L163.2,378.01 L168.2,379.61 Q162.2,381.81 151.8,381.61 Q141.4,381.81 135.4,379.61 Z" stroke="#000" stroke-width="0" fill="#fff" stroke="none"/>
<rect x="139.4" y="383.2" width="24.8" height="1.5" stroke="#000" stroke-width="0" fill="#9a9a9a" stroke="none"/>
<path d="M135.4,387.39 L140.4,385.79 L163.2,385.79 L168.2,387.39 Q162.2,389.59 151.8,389.39 Q141.4,389.59 135.4,387.39 Z" stroke="#000" stroke-width="0" fill="#fff" stroke="none"/>
<rect x="139.4" y="390.98" width="24.8" height="1.5" stroke="#000" stroke-width="0" fill="#9a9a9a" stroke="none"/>
<path d="M135.4,395.17 L140.4,393.57 L163.2,393.57 L168.2,395.17 Q162.2,397.37 151.8,397.17 Q141.4,397.37 135.4,395.17 Z" stroke="#000" stroke-width="0" fill="#fff" stroke="none"/>
<rect x="139.4" y="398.76" width="24.8" height="1.5" stroke="#000" stroke-width="0" fill="#9a9a9a" stroke="none"/>
<path d="M135.4,402.95 L140.4,401.35 L163.2,401.35 L168.2,402.95 Q162.2,405.15 151.8,404.95 Q141.4,405.15 135.4,402.95 Z" stroke="#000" stroke-width="0" fill="#fff" stroke="none"/>
<rect x="139.4" y="406.54" width="24.8" height="1.5" stroke="#000" stroke-width="0" fill="#9a9a9a" stroke="none"/>
<path d="M135.4,410.73 L140.4,409.13 L163.2,409.13 L168.2,410.73 Q162.2,412.93 151.8,412.73 Q141.4,412.93 135.4,410.73 Z" stroke="#000" stroke-width="0" fill="#fff" stroke="none"/>
<rect x="139.4" y="414.32" width="24.8" height="1.5" stroke="#000" stroke-width="0" fill="#9a9a9a" stroke="none"/>
<path d="M135.4,418.51 L140.4,416.91 L163.2,416.91 L168.2,418.51 Q162.2,420.71 151.8,420.51 Q141.4,420.71 135.4,418.51 Z" stroke="#000" stroke-width="0" fill="#fff" stroke="none"/>
<rect x="139.4" y="422.1" width="24.8" height="1.5" stroke="#000" stroke-width="0" fill="#9a9a9a" stroke="none"/>
<path d="M135.4,426.29 L140.4,424.69 L163.2,424.69 L168.2,426.29 Q162.2,428.49 151.8,428.29 Q141.4,428.49 135.4,426.29 Z" stroke="#000" stroke-width="0" fill="#fff" stroke="none"/>
<rect x="139.4" y="429.88" width="24.8" height="1.5" stroke="#000" stroke-width="0" fill="#9a9a9a" stroke="none"/>
<path d="M135.4,434.07 L140.4,432.47 L163.2,432.47 L168.2,434.07 Q162.2,436.27 151.8,436.07 Q141.4,436.27 135.4,434.07 Z" stroke="#000" stroke-width="0" fill="#fff" stroke="none"/>
<rect x="139.4" y="437.66" width="24.8" height="1.5" stroke="#000" stroke-width="0" fill="#9a9a9a" stroke="none"/>
<path d="M135.4,441.85 L140.4,440.25 L163.2,440.25 L168.2,441.85 Q162.2,444.05 151.8,443.85 Q141.4,444.05 135.4,441.85 Z" stroke="#000" stroke-width="0" fill="#fff" stroke="none"/>
<rect x="139.4" y="445.44" width="24.8" height="1.5" stroke="#000" stroke-width="0" fill="#9a9a9a" stroke="none"/>
<path d="M135.4,449.63 L140.4,448.03 L163.2,448.03 L168.2,449.63 Q162.2,451.83 151.8,451.63 Q141.4,451.83 135.4,449.63 Z" stroke="#000" stroke-width="0" fill="#fff" stroke="none"/>
<rect x="139.4" y="453.22" width="24.8" height="1.5" stroke="#000" stroke-width="0" fill="#9a9a9a" stroke="none"/>
<path d="M135.4,457.41 L140.4,455.81 L163.2,455.81 L168.2,457.41 Q162.2,459.61 151.8,459.41 Q141.4,459.61 135.4,457.41 Z" stroke="#000" stroke-width="0" fill="#fff" stroke="none"/>
<rect x="139.4" y="461" width="24.8" height="1.5" stroke="#000" stroke-width="0" fill="#9a9a9a" stroke="none"/>
<path d="M135.4,465.19 L140.4,463.59 L163.2,463.59 L168.2,465.19 Q162.2,467.39 151.8,467.19 Q141.4,467.39 135.4,465.19 Z" stroke="#000" stroke-width="0" fill="#fff" stroke="none"/>
<rect x="139.4" y="468.78" width="24.8" height="1.5" stroke="#000" stroke-width="0" fill="#9a9a9a" stroke="none"/>
<path d="M135.4,472.97 L140.4,471.37 L163.2,471.37 L168.2,472.97 Q162.2,475.17 151.8,474.97 Q141.4,475.17 135.4,472.97 Z" stroke="#000" stroke-width="0" fill="#fff" stroke="none"/>
<rect x="139.4" y="476.56" width="24.8" height="1.5" stroke="#000" stroke-width="0" fill="#9a9a9a" stroke="none"/>
<path d="M135.4,480.75 L140.4,479.15 L163.2,479.15 L168.2,480.75 Q162.2,482.95 151.8,482.75 Q141.4,482.95 135.4,480.75 Z" stroke="#000" stroke-width="0" fill="#fff" stroke="none"/>
<rect x="139.4" y="484.34" width="24.8" height="1.5" stroke="#000" stroke-width="0" fill="#9a9a9a" stroke="none"/>
<path d="M135.4,488.53 L140.4,486.93 L163.2,486.93 L168.2,488.53 Q162.2,490.73 151.8,490.53 Q141.4,490.73 135.4,488.53 Z" stroke="#000" stroke-width="0" fill="#fff" stroke="none"/>
<rect x="139.4" y="492.12" width="24.8" height="1.5" stroke="#000" stroke-width="0" fill="#9a9a9a" stroke="none"/>
<path d="M135.4,496.31 L140.4,494.71 L163.2,494.71 L168.2,496.31 Q162.2,498.51 151.8,498.31 Q141.4,498.51 135.4,496.31 Z" stroke="#000" stroke-width="0" fill="#fff" stroke="none"/>
<rect x="139.4" y="499.9" width="24.8" height="1.5" stroke="#000" stroke-width="0" fill="#9a9a9a" stroke="none"/>
<path d="M135.4,504.09 L140.4,502.49 L163.2,502.49 L168.2,504.09 Q162.2,506.29 151.8,506.09 Q141.4,506.29 135.4,504.09 Z" stroke="#000" stroke-width="0" fill="#fff" stroke="none"/>
<rect x="139.4" y="507.68" width="24.8" height="1.5" stroke="#000" stroke-width="0" fill="#9a9a9a" stroke="none"/>
<path d="M165.6,266.8 L170.6,265.2 L193.4,265.2 L198.4,266.8 Q192.4,269 182,268.8 Q171.6,269 165.6,266.8 Z" stroke="#000" stroke-width="0" fill="#fff" stroke="none"/>
<rect x="169.6" y="270.39" width="24.8" height="1.5" stroke="#000" stroke-width="0" fill="#9a9a9a" stroke="none"/>
<path d="M165.6,274.58 L170.6,272.98 L193.4,272.98 L198.4,274.58 Q192.4,276.78 182,276.58 Q171.6,276.78 165.6,274.58 Z" stroke="#000" stroke-width="0" fill="#fff" stroke="none"/>
<rect x="169.6" y="278.17" width="24.8" height="1.5" stroke="#000" stroke-width="0" fill="#9a9a9a" stroke="none"/>
<path d="M165.6,282.36 L170.6,280.76 L193.4,280.76 L198.4,282.36 Q192.4,284.56 182,284.36 Q171.6,284.56 165.6,282.36 Z" stroke="#000" stroke-width="0" fill="#fff" stroke="none"/>
<rect x="169.6" y="285.95" width="24.8" height="1.5" stroke="#000" stroke-width="0" fill="#9a9a9a" stroke="none"/>
<path d="M165.6,290.14 L170.6,288.54 L193.4,288.54 L198.4,290.14 Q192.4,292.34 182,292.14 Q171.6,292.34 165.6,290.14 Z" stroke="#000" stroke-width="0" fill="#fff" stroke="none"/>
<rect x="169.6" y="293.73" width="24.8" height="1.5" stroke="#000" stroke-width="0" fill="#9a9a9a" stroke="none"/>
<path d="M165.6,297.92 L170.6,296.32 L193.4,296.32 L198.4,297.92 Q192.4,300.12 182,299.92 Q171.6,300.12 165.6,297.92 Z" stroke="#000" stroke-width="0" fill="#fff" stroke="none"/>
<rect x="169.6" y="301.51" width="24.8" height="1.5" stroke="#000" stroke-width="0" fill="#9a9a9a" stroke="none"/>
<path d="M165.6,305.7 L170.6,304.1 L193.4,304.1 L198.4,305.7 Q192.4,307.9 182,307.7 Q171.6,307.9 165.6,305.7 Z" stroke="#000" stroke-width="0" fill="#fff" stroke="none"/>
<rect x="169.6" y="309.29" width="24.8" height="1.5" stroke="#000" stroke-width="0" fill="#9a9a9a" stroke="none"/>
<path d="M165.6,313.48 L170.6,311.88 L193.4,311.88 L198.4,313.48 Q192.4,315.68 182,315.48 Q171.6,315.68 165.6,313.48 Z" stroke="#000" stroke-width="0" fill="#fff" stroke="none"/>
<rect x="169.6" y="317.07" width="24.8" height="1.5" stroke="#000" stroke-width="0" fill="#9a9a9a" stroke="none"/>
<path d="M165.6,321.26 L170.6,319.66 L193.4,319.66 L198.4,321.26 Q192.4,323.46 182,323.26 Q171.6,323.46 165.6,321.26 Z" stroke="#000" stroke-width="0" fill="#fff" stroke="none"/>
<rect x="169.6" y="324.85" width="24.8" height="1.5" stroke="#000" stroke-width="0" fill="#9a9a9a" stroke="none"/>
<path d="M165.6,329.04 L170.6,327.44 L193.4,327.44 L198.4,329.04 Q192.4,331.24 182,331.04 Q171.6,331.24 165.6,329.04 Z" stroke="#000" stroke-width="0" fill="#fff" stroke="none"/>
<rect x="169.6" y="332.63" width="24.8" height="1.5" stroke="#000" stroke-width="0" fill="#9a9a9a" stroke="none"/>
<path d="M165.6,336.82 L170.6,335.22 L193.4,335.22 L198.4,336.82 Q192.4,339.02 182,338.82 Q171.6,339.02 165.6,336.82 Z" stroke="#000" stroke-width="0" fill="#fff" stroke="none"/>
<rect x="169.6" y="340.41" width="24.8" height="1.5" stroke="#000" stroke-width="0" fill="#9a9a9a" stroke="none"/>
<path d="M165.6,344.6 L170.6,343 L193.4,343 L198.4,344.6 Q192.4,346.8 182,346.6 Q171.6,346.8 165.6,344.6 Z" stroke="#000" stroke-width="0" fill="#fff" stroke="none"/>
<rect x="169.6" y="348.19" width="24.8" height="1.5" stroke="#000" stroke-width="0" fill="#9a9a9a" stroke="none"/>
<path d="M165.6,352.38 L170.6,350.78 L193.4,350.78 L198.4,352.38 Q192.4,354.58 182,354.38 Q171.6,354.58 165.6,352.38 Z" stroke="#000" stroke-width="0" fill="#fff" stroke="none"/>
<rect x="169.6" y="355.97" width="24.8" height="1.5" stroke="#000" stroke-width="0" fill="#9a9a9a" stroke="none"/>
<path d="M165.6,360.16 L170.6,358.56 L193.4,358.56 L198.4,360.16 Q192.4,362.36 182,362.16 Q171.6,362.36 165.6,360.16 Z" stroke="#000" stroke-width="0" fill="#fff" stroke="none"/>
<rect x="169.6" y="363.75" width="24.8" height="1.5" stroke="#000" stroke-width="0" fill="#9a9a9a" stroke="none"/>
<path d="M165.6,367.94 L170.6,366.34 L193.4,366.34 L198.4,367.94 Q192.4,370.14 182,369.94 Q171.6,370.14 165.6,367.94 Z" stroke="#000" stroke-width="0" fill="#fff" stroke="none"/>
<rect x="169.6" y="371.53" width="24.8" height="1.5" stroke="#000" stroke-width="0" fill="#9a9a9a" stroke="none"/>
<path d="M165.6,375.72 L170.6,374.12 L193.4,374.12 L198.4,375.72 Q192.4,377.92 182,377.72 Q171.6,377.92 165.6,375.72 Z" stroke="#000" stroke-width="0" fill="#fff" stroke="none"/>
<rect x="169.6" y="379.31" width="24.8" height="1.5" stroke="#000" stroke-width="0" fill="#9a9a9a" stroke="none"/>
<path d="M165.6,383.5 L170.6,381.9 L193.4,381.9 L198.4,383.5 Q192.4,385.7 182,385.5 Q171.6,385.7 165.6,383.5 Z" stroke="#000" stroke-width="0" fill="#fff" stroke="none"/>
<rect x="169.6" y="387.09" width="24.8" height="1.5" stroke="#000" stroke-width="0" fill="#9a9a9a" stroke="none"/>
<path d="M165.6,391.28 L170.6,389.68 L193.4,389.68 L198.4,391.28 Q192.4,393.48 182,393.28 Q171.6,393.48 165.6,391.28 Z" stroke="#000" stroke-width="0" fill="#fff" stroke="none"/>
<rect x="169.6" y="394.87" width="24.8" height="1.5" stroke="#000" stroke-width="0" fill="#9a9a9a" stroke="none"/>
<path d="M165.6,399.06 L170.6,397.46 L193.4,397.46 L198.4,399.06 Q192.4,401.26 182,401.06 Q171.6,401.26 165.6,399.06 Z" stroke="#000" stroke-width="0" fill="#fff" stroke="none"/>
<rect x="169.6" y="402.65" width="24.8" height="1.5" stroke="#000" stroke-width="0" fill="#9a9a9a" stroke="none"/>
<path d="M165.6,406.84 L170.6,405.24 L193.4,405.24 L198.4,406.84 Q192.4,409.04 182,408.84 Q171.6,409.04 165.6,406.84 Z" stroke="#000" stroke-width="0" fill="#fff" stroke="none"/>
<rect x="169.6" y="410.43" width="24.8" height="1.5" stroke="#000" stroke-width="0" fill="#9a9a9a" stroke="none"/>
<path d="M165.6,414.62 L170.6,413.02 L193.4,413.02 L198.4,414.62 Q192.4,416.82 182,416.62 Q171.6,416.82 165.6,414.62 Z" stroke="#000" stroke-width="0" fill="#fff" stroke="none"/>
<rect x="169.6" y="418.21" width="24.8" height="1.5" stroke="#000" stroke-width="0" fill="#9a9a9a" stroke="none"/>
<path d="M165.6,422.4 L170.6,420.8 L193.4,420.8 L198.4,422.4 Q192.4,424.6 182,424.4 Q171.6,424.6 165.6,422.4 Z" stroke="#000" stroke-width="0" fill="#fff" stroke="none"/>
<rect x="169.6" y="425.99" width="24.8" height="1.5" stroke="#000" stroke-width="0" fill="#9a9a9a" stroke="none"/>
<path d="M165.6,430.18 L170.6,428.58 L193.4,428.58 L198.4,430.18 Q192.4,432.38 182,432.18 Q171.6,432.38 165.6,430.18 Z" stroke="#000" stroke-width="0" fill="#fff" stroke="none"/>
<rect x="169.6" y="433.77" width="24.8" height="1.5" stroke="#000" stroke-width="0" fill="#9a9a9a" stroke="none"/>
<path d="M165.6,437.96 L170.6,436.36 L193.4,436.36 L198.4,437.96 Q192.4,440.16 182,439.96 Q171.6,440.16 165.6,437.96 Z" stroke="#000" stroke-width="0" fill="#fff" stroke="none"/>
<rect x="169.6" y="441.55" width="24.8" height="1.5" stroke="#000" stroke-width="0" fill="#9a9a9a" stroke="none"/>
<path d="M165.6,445.74 L170.6,444.14 L193.4,444.14 L198.4,445.74 Q192.4,447.94 182,447.74 Q171.6,447.94 165.6,445.74 Z" stroke="#000" stroke-width="0" fill="#fff" stroke="none"/>
<rect x="169.6" y="449.33" width="24.8" height="1.5" stroke="#000" stroke-width="0" fill="#9a9a9a" stroke="none"/>
<path d="M165.6,453.52 L170.6,451.92 L193.4,451.92 L198.4,453.52 Q192.4,455.72 182,455.52 Q171.6,455.72 165.6,453.52 Z" stroke="#000" stroke-width="0" fill="#fff" stroke="none"/>
<rect x="169.6" y="457.11" width="24.8" height="1.5" stroke="#000" stroke-width="0" fill="#9a9a9a" stroke="none"/>
<path d="M165.6,461.3 L170.6,459.7 L193.4,459.7 L198.4,461.3 Q192.4,463.5 182,463.3 Q171.6,463.5 165.6,461.3 Z" stroke="#000" stroke-width="0" fill="#fff" stroke="none"/>
<rect x="169.6" y="464.89" width="24.8" height="1.5" stroke="#000" stroke-width="0" fill="#9a9a9a" stroke="none"/>
<path d="M165.6,469.08 L170.6,467.48 L193.4,467.48 L198.4,469.08 Q192.4,471.28 182,471.08 Q171.6,471.28 165.6,469.08 Z" stroke="#000" stroke-width="0" fill="#fff" stroke="none"/>
<rect x="169.6" y="472.67" width="24.8" height="1.5" stroke="#000" stroke-width="0" fill="#9a9a9a" stroke="none"/>
<path d="M165.6,476.86 L170.6,475.26 L193.4,475.26 L198.4,476.86 Q192.4,479.06 182,478.86 Q171.6,479.06 165.6,476.86 Z" stroke="#000" stroke-width="0" fill="#fff" stroke="none"/>
<rect x="169.6" y="480.45" width="24.8" height="1.5" stroke="#000" stroke-width="0" fill="#9a9a9a" stroke="none"/>
<path d="M165.6,484.64 L170.6,483.04 L193.4,483.04 L198.4,484.64 Q192.4,486.84 182,486.64 Q171.6,486.84 165.6,484.64 Z" stroke="#000" stroke-width="0" fill="#fff" stroke="none"/>
<rect x="169.6" y="488.23" width="24.8" height="1.5" stroke="#000" stroke-width="0" fill="#9a9a9a" stroke="none"/>
<path d="M165.6,492.42 L170.6,490.82 L193.4,490.82 L198.4,492.42 Q192.4,494.62 182,494.42 Q171.6,494.62 165.6,492.42 Z" stroke="#000" stroke-width="0" fill="#fff" stroke="none"/>
<rect x="169.6" y="496.01" width="24.8" height="1.5" stroke="#000" stroke-width="0" fill="#9a9a9a" stroke="none"/>
<path d="M165.6,500.2 L170.6,498.6 L193.4,498.6 L198.4,500.2 Q192.4,502.4 182,502.2 Q171.6,502.4 165.6,500.2 Z" stroke="#000" stroke-width="0" fill="#fff" stroke="none"/>
<rect x="169.6" y="503.79" width="24.8" height="1.5" stroke="#000" stroke-width="0" fill="#9a9a9a" stroke="none"/>
<path d="M195.8,270.69 L200.8,269.09 L223.6,269.09 L228.6,270.69 Q222.6,272.89 212.2,272.69 Q201.8,272.89 195.8,270.69 Z" stroke="#000" stroke-width="0" fill="#fff" stroke="none"/>
<rect x="199.8" y="274.28" width="24.8" height="1.5" stroke="#000" stroke-width="0" fill="#9a9a9a" stroke="none"/>
<path d="M195.8,278.47 L200.8,276.87 L223.6,276.87 L228.6,278.47 Q222.6,280.67 212.2,280.47 Q201.8,280.67 195.8,278.47 Z" stroke="#000" stroke-width="0" fill="#fff" stroke="none"/>
<rect x="199.8" y="282.06" width="24.8" height="1.5" stroke="#000" stroke-width="0" fill="#9a9a9a" stroke="none"/>
<path d="M195.8,286.25 L200.8,284.65 L223.6,284.65 L228.6,286.25 Q222.6,288.45 212.2,288.25 Q201.8,288.45 195.8,286.25 Z" stroke="#000" stroke-width="0" fill="#fff" stroke="none"/>
<rect x="199.8" y="289.84" width="24.8" height="1.5" stroke="#000" stroke-width="0" fill="#9a9a9a" stroke="none"/>
<path d="M195.8,294.03 L200.8,292.43 L223.6,292.43 L228.6,294.03 Q222.6,296.23 212.2,296.03 Q201.8,296.23 195.8,294.03 Z" stroke="#000" stroke-width="0" fill="#fff" stroke="none"/>
<rect x="199.8" y="297.62" width="24.8" height="1.5" stroke="#000" stroke-width="0" fill="#9a9a9a" stroke="none"/>
<path d="M195.8,301.81 L200.8,300.21 L223.6,300.21 L228.6,301.81 Q222.6,304.01 212.2,303.81 Q201.8,304.01 195.8,301.81 Z" stroke="#000" stroke-width="0" fill="#fff" stroke="none"/>
<rect x="199.8" y="305.4" width="24.8" height="1.5" stroke="#000" stroke-width="0" fill="#9a9a9a" stroke="none"/>
<path d="M195.8,309.59 L200.8,307.99 L223.6,307.99 L228.6,309.59 Q222.6,311.79 212.2,311.59 Q201.8,311.79 195.8,309.59 Z" stroke="#000" stroke-width="0" fill="#fff" stroke="none"/>
<rect x="199.8" y="313.18" width="24.8" height="1.5" stroke="#000" stroke-width="0" fill="#9a9a9a" stroke="none"/>
<path d="M195.8,317.37 L200.8,315.77 L223.6,315.77 L228.6,317.37 Q222.6,319.57 212.2,319.37 Q201.8,319.57 195.8,317.37 Z" stroke="#000" stroke-width="0" fill="#fff" stroke="none"/>
<rect x="199.8" y="320.96" width="24.8" height="1.5" stroke="#000" stroke-width="0" fill="#9a9a9a" stroke="none"/>
<path d="M195.8,325.15 L200.8,323.55 L223.6,323.55 L228.6,325.15 Q222.6,327.35 212.2,327.15 Q201.8,327.35 195.8,325.15 Z" stroke="#000" stroke-width="0" fill="#fff" stroke="none"/>
<rect x="199.8" y="328.74" width="24.8" height="1.5" stroke="#000" stroke-width="0" fill="#9a9a9a" stroke="none"/>
<path d="M195.8,332.93 L200.8,331.33 L223.6,331.33 L228.6,332.93 Q222.6,335.13 212.2,334.93 Q201.8,335.13 195.8,332.93 Z" stroke="#000" stroke-width="0" fill="#fff" stroke="none"/>
<rect x="199.8" y="336.52" width="24.8" height="1.5" stroke="#000" stroke-width="0" fill="#9a9a9a" stroke="none"/>
<path d="M195.8,340.71 L200.8,339.11 L223.6,339.11 L228.6,340.71 Q222.6,342.91 212.2,342.71 Q201.8,342.91 195.8,340.71 Z" stroke="#000" stroke-width="0" fill="#fff" stroke="none"/>
<rect x="199.8" y="344.3" width="24.8" height="1.5" stroke="#000" stroke-width="0" fill="#9a9a9a" stroke="none"/>
<path d="M195.8,348.49 L200.8,346.89 L223.6,346.89 L228.6,348.49 Q222.6,350.69 212.2,350.49 Q201.8,350.69 195.8,348.49 Z" stroke="#000" stroke-width="0" fill="#fff" stroke="none"/>
<rect x="199.8" y="352.08" width="24.8" height="1.5" stroke="#000" stroke-width="0" fill="#9a9a9a" stroke="none"/>
<path d="M195.8,356.27 L200.8,354.67 L223.6,354.67 L228.6,356.27 Q222.6,358.47 212.2,358.27 Q201.8,358.47 195.8,356.27 Z" stroke="#000" stroke-width="0" fill="#fff" stroke="none"/>
<rect x="199.8" y="359.86" width="24.8" height="1.5" stroke="#000" stroke-width="0" fill="#9a9a9a" stroke="none"/>
<path d="M195.8,364.05 L200.8,362.45 L223.6,362.45 L228.6,364.05 Q222.6,366.25 212.2,366.05 Q201.8,366.25 195.8,364.05 Z" stroke="#000" stroke-width="0" fill="#fff" stroke="none"/>
<rect x="199.8" y="367.64" width="24.8" height="1.5" stroke="#000" stroke-width="0" fill="#9a9a9a" stroke="none"/>
<path d="M195.8,371.83 L200.8,370.23 L223.6,370.23 L228.6,371.83 Q222.6,374.03 212.2,373.83 Q201.8,374.03 195.8,371.83 Z" stroke="#000" stroke-width="0" fill="#fff" stroke="none"/>
<rect x="199.8" y="375.42" width="24.8" height="1.5" stroke="#000" stroke-width="0" fill="#9a9a9a" stroke="none"/>
<path d="M195.8,379.61 L200.8,378.01 L223.6,378.01 L228.6,379.61 Q222.6,381.81 212.2,381.61 Q201.8,381.81 195.8,379.61 Z" stroke="#000" stroke-width="0" fill="#fff" stroke="none"/>
<rect x="199.8" y="383.2" width="24.8" height="1.5" stroke="#000" stroke-width="0" fill="#9a9a9a" stroke="none"/>
<path d="M195.8,387.39 L200.8,385.79 L223.6,385.79 L228.6,387.39 Q222.6,389.59 212.2,389.39 Q201.8,389.59 195.8,387.39 Z" stroke="#000" stroke-width="0" fill="#fff" stroke="none"/>
<rect x="199.8" y="390.98" width="24.8" height="1.5" stroke="#000" stroke-width="0" fill="#9a9a9a" stroke="none"/>
<path d="M195.8,395.17 L200.8,393.57 L223.6,393.57 L228.6,395.17 Q222.6,397.37 212.2,397.17 Q201.8,397.37 195.8,395.17 Z" stroke="#000" stroke-width="0" fill="#fff" stroke="none"/>
<rect x="199.8" y="398.76" width="24.8" height="1.5" stroke="#000" stroke-width="0" fill="#9a9a9a" stroke="none"/>
<path d="M195.8,402.95 L200.8,401.35 L223.6,401.35 L228.6,402.95 Q222.6,405.15 212.2,404.95 Q201.8,405.15 195.8,402.95 Z" stroke="#000" stroke-width="0" fill="#fff" stroke="none"/>
<rect x="199.8" y="406.54" width="24.8" height="1.5" stroke="#000" stroke-width="0" fill="#9a9a9a" stroke="none"/>
<path d="M195.8,410.73 L200.8,409.13 L223.6,409.13 L228.6,410.73 Q222.6,412.93 212.2,412.73 Q201.8,412.93 195.8,410.73 Z" stroke="#000" stroke-width="0" fill="#fff" stroke="none"/>
<rect x="199.8" y="414.32" width="24.8" height="1.5" stroke="#000" stroke-width="0" fill="#9a9a9a" stroke="none"/>
<path d="M195.8,418.51 L200.8,416.91 L223.6,416.91 L228.6,418.51 Q222.6,420.71 212.2,420.51 Q201.8,420.71 195.8,418.51 Z" stroke="#000" stroke-width="0" fill="#fff" stroke="none"/>
<rect x="199.8" y="422.1" width="24.8" height="1.5" stroke="#000" stroke-width="0" fill="#9a9a9a" stroke="none"/>
<path d="M195.8,426.29 L200.8,424.69 L223.6,424.69 L228.6,426.29 Q222.6,428.49 212.2,428.29 Q201.8,428.49 195.8,426.29 Z" stroke="#000" stroke-width="0" fill="#fff" stroke="none"/>
<rect x="199.8" y="429.88" width="24.8" height="1.5" stroke="#000" stroke-width="0" fill="#9a9a9a" stroke="none"/>
<path d="M195.8,434.07 L200.8,432.47 L223.6,432.47 L228.6,434.07 Q222.6,436.27 212.2,436.07 Q201.8,436.27 195.8,434.07 Z" stroke="#000" stroke-width="0" fill="#fff" stroke="none"/>
<rect x="199.8" y="437.66" width="24.8" height="1.5" stroke="#000" stroke-width="0" fill="#9a9a9a" stroke="none"/>
<path d="M195.8,441.85 L200.8,440.25 L223.6,440.25 L228.6,441.85 Q222.6,444.05 212.2,443.85 Q201.8,444.05 195.8,441.85 Z" stroke="#000" stroke-width="0" fill="#fff" stroke="none"/>
<rect x="199.8" y="445.44" width="24.8" height="1.5" stroke="#000" stroke-width="0" fill="#9a9a9a" stroke="none"/>
<path d="M195.8,449.63 L200.8,448.03 L223.6,448.03 L228.6,449.63 Q222.6,451.83 212.2,451.63 Q201.8,451.83 195.8,449.63 Z" stroke="#000" stroke-width="0" fill="#fff" stroke="none"/>
<rect x="199.8" y="453.22" width="24.8" height="1.5" stroke="#000" stroke-width="0" fill="#9a9a9a" stroke="none"/>
<path d="M195.8,457.41 L200.8,455.81 L223.6,455.81 L228.6,457.41 Q222.6,459.61 212.2,459.41 Q201.8,459.61 195.8,457.41 Z" stroke="#000" stroke-width="0" fill="#fff" stroke="none"/>
<rect x="199.8" y="461" width="24.8" height="1.5" stroke="#000" stroke-width="0" fill="#9a9a9a" stroke="none"/>
<path d="M195.8,465.19 L200.8,463.59 L223.6,463.59 L228.6,465.19 Q222.6,467.39 212.2,467.19 Q201.8,467.39 195.8,465.19 Z" stroke="#000" stroke-width="0" fill="#fff" stroke="none"/>
<rect x="199.8" y="468.78" width="24.8" height="1.5" stroke="#000" stroke-width="0" fill="#9a9a9a" stroke="none"/>
<path d="M195.8,472.97 L200.8,471.37 L223.6,471.37 L228.6,472.97 Q222.6,475.17 212.2,474.97 Q201.8,475.17 195.8,472.97 Z" stroke="#000" stroke-width="0" fill="#fff" stroke="none"/>
<rect x="199.8" y="476.56" width="24.8" height="1.5" stroke="#000" stroke-width="0" fill="#9a9a9a" stroke="none"/>
<path d="M195.8,480.75 L200.8,479.15 L223.6,479.15 L228.6,480.75 Q222.6,482.95 212.2,482.75 Q201.8,482.95 195.8,480.75 Z" stroke="#000" stroke-width="0" fill="#fff" stroke="none"/>
<rect x="199.8" y="484.34" width="24.8" height="1.5" stroke="#000" stroke-width="0" fill="#9a9a9a" stroke="none"/>
<path d="M195.8,488.53 L200.8,486.93 L223.6,486.93 L228.6,488.53 Q222.6,490.73 212.2,490.53 Q201.8,490.73 195.8,488.53 Z" stroke="#000" stroke-width="0" fill="#fff" stroke="none"/>
<rect x="199.8" y="492.12" width="24.8" height="1.5" stroke="#000" stroke-width="0" fill="#9a9a9a" stroke="none"/>
<path d="M195.8,496.31 L200.8,494.71 L223.6,494.71 L228.6,496.31 Q222.6,498.51 212.2,498.31 Q201.8,498.51 195.8,496.31 Z" stroke="#000" stroke-width="0" fill="#fff" stroke="none"/>
<rect x="199.8" y="499.9" width="24.8" height="1.5" stroke="#000" stroke-width="0" fill="#9a9a9a" stroke="none"/>
<path d="M195.8,504.09 L200.8,502.49 L223.6,502.49 L228.6,504.09 Q222.6,506.29 212.2,506.09 Q201.8,506.29 195.8,504.09 Z" stroke="#000" stroke-width="0" fill="#fff" stroke="none"/>
<rect x="199.8" y="507.68" width="24.8" height="1.5" stroke="#000" stroke-width="0" fill="#9a9a9a" stroke="none"/>
<path d="M226,266.8 L231,265.2 L253.8,265.2 L258.8,266.8 Q252.8,269 242.4,268.8 Q232,269 226,266.8 Z" stroke="#000" stroke-width="0" fill="#fff" stroke="none"/>
<rect x="230" y="270.39" width="24.8" height="1.5" stroke="#000" stroke-width="0" fill="#9a9a9a" stroke="none"/>
<path d="M226,274.58 L231,272.98 L253.8,272.98 L258.8,274.58 Q252.8,276.78 242.4,276.58 Q232,276.78 226,274.58 Z" stroke="#000" stroke-width="0" fill="#fff" stroke="none"/>
<rect x="230" y="278.17" width="24.8" height="1.5" stroke="#000" stroke-width="0" fill="#9a9a9a" stroke="none"/>
<path d="M226,282.36 L231,280.76 L253.8,280.76 L258.8,282.36 Q252.8,284.56 242.4,284.36 Q232,284.56 226,282.36 Z" stroke="#000" stroke-width="0" fill="#fff" stroke="none"/>
<rect x="230" y="285.95" width="24.8" height="1.5" stroke="#000" stroke-width="0" fill="#9a9a9a" stroke="none"/>
<path d="M226,290.14 L231,288.54 L253.8,288.54 L258.8,290.14 Q252.8,292.34 242.4,292.14 Q232,292.34 226,290.14 Z" stroke="#000" stroke-width="0" fill="#fff" stroke="none"/>
<rect x="230" y="293.73" width="24.8" height="1.5" stroke="#000" stroke-width="0" fill="#9a9a9a" stroke="none"/>
<path d="M226,297.92 L231,296.32 L253.8,296.32 L258.8,297.92 Q252.8,300.12 242.4,299.92 Q232,300.12 226,297.92 Z" stroke="#000" stroke-width="0" fill="#fff" stroke="none"/>
<rect x="230" y="301.51" width="24.8" height="1.5" stroke="#000" stroke-width="0" fill="#9a9a9a" stroke="none"/>
<path d="M226,305.7 L231,304.1 L253.8,304.1 L258.8,305.7 Q252.8,307.9 242.4,307.7 Q232,307.9 226,305.7 Z" stroke="#000" stroke-width="0" fill="#fff" stroke="none"/>
<rect x="230" y="309.29" width="24.8" height="1.5" stroke="#000" stroke-width="0" fill="#9a9a9a" stroke="none"/>
<path d="M226,313.48 L231,311.88 L253.8,311.88 L258.8,313.48 Q252.8,315.68 242.4,315.48 Q232,315.68 226,313.48 Z" stroke="#000" stroke-width="0" fill="#fff" stroke="none"/>
<rect x="230" y="317.07" width="24.8" height="1.5" stroke="#000" stroke-width="0" fill="#9a9a9a" stroke="none"/>
<path d="M226,321.26 L231,319.66 L253.8,319.66 L258.8,321.26 Q252.8,323.46 242.4,323.26 Q232,323.46 226,321.26 Z" stroke="#000" stroke-width="0" fill="#fff" stroke="none"/>
<rect x="230" y="324.85" width="24.8" height="1.5" stroke="#000" stroke-width="0" fill="#9a9a9a" stroke="none"/>
<path d="M226,329.04 L231,327.44 L253.8,327.44 L258.8,329.04 Q252.8,331.24 242.4,331.04 Q232,331.24 226,329.04 Z" stroke="#000" stroke-width="0" fill="#fff" stroke="none"/>
<rect x="230" y="332.63" width="24.8" height="1.5" stroke="#000" stroke-width="0" fill="#9a9a9a" stroke="none"/>
<path d="M226,336.82 L231,335.22 L253.8,335.22 L258.8,336.82 Q252.8,339.02 242.4,338.82 Q232,339.02 226,336.82 Z" stroke="#000" stroke-width="0" fill="#fff" stroke="none"/>
<rect x="230" y="340.41" width="24.8" height="1.5" stroke="#000" stroke-width="0" fill="#9a9a9a" stroke="none"/>
<path d="M226,344.6 L231,343 L253.8,343 L258.8,344.6 Q252.8,346.8 242.4,346.6 Q232,346.8 226,344.6 Z" stroke="#000" stroke-width="0" fill="#fff" stroke="none"/>
<rect x="230" y="348.19" width="24.8" height="1.5" stroke="#000" stroke-width="0" fill="#9a9a9a" stroke="none"/>
<path d="M226,352.38 L231,350.78 L253.8,350.78 L258.8,352.38 Q252.8,354.58 242.4,354.38 Q232,354.58 226,352.38 Z" stroke="#000" stroke-width="0" fill="#fff" stroke="none"/>
<rect x="230" y="355.97" width="24.8" height="1.5" stroke="#000" stroke-width="0" fill="#9a9a9a" stroke="none"/>
<path d="M226,360.16 L231,358.56 L253.8,358.56 L258.8,360.16 Q252.8,362.36 242.4,362.16 Q232,362.36 226,360.16 Z" stroke="#000" stroke-width="0" fill="#fff" stroke="none"/>
<rect x="230" y="363.75" width="24.8" height="1.5" stroke="#000" stroke-width="0" fill="#9a9a9a" stroke="none"/>
<path d="M226,367.94 L231,366.34 L253.8,366.34 L258.8,367.94 Q252.8,370.14 242.4,369.94 Q232,370.14 226,367.94 Z" stroke="#000" stroke-width="0" fill="#fff" stroke="none"/>
<rect x="230" y="371.53" width="24.8" height="1.5" stroke="#000" stroke-width="0" fill="#9a9a9a" stroke="none"/>
<path d="M226,375.72 L231,374.12 L253.8,374.12 L258.8,375.72 Q252.8,377.92 242.4,377.72 Q232,377.92 226,375.72 Z" stroke="#000" stroke-width="0" fill="#fff" stroke="none"/>
<rect x="230" y="379.31" width="24.8" height="1.5" stroke="#000" stroke-width="0" fill="#9a9a9a" stroke="none"/>
<path d="M226,383.5 L231,381.9 L253.8,381.9 L258.8,383.5 Q252.8,385.7 242.4,385.5 Q232,385.7 226,383.5 Z" stroke="#000" stroke-width="0" fill="#fff" stroke="none"/>
<rect x="230" y="387.09" width="24.8" height="1.5" stroke="#000" stroke-width="0" fill="#9a9a9a" stroke="none"/>
<path d="M226,391.28 L231,389.68 L253.8,389.68 L258.8,391.28 Q252.8,393.48 242.4,393.28 Q232,393.48 226,391.28 Z" stroke="#000" stroke-width="0" fill="#fff" stroke="none"/>
<rect x="230" y="394.87" width="24.8" height="1.5" stroke="#000" stroke-width="0" fill="#9a9a9a" stroke="none"/>
<path d="M226,399.06 L231,397.46 L253.8,397.46 L258.8,399.06 Q252.8,401.26 242.4,401.06 Q232,401.26 226,399.06 Z" stroke="#000" stroke-width="0" fill="#fff" stroke="none"/>
<rect x="230" y="402.65" width="24.8" height="1.5" stroke="#000" stroke-width="0" fill="#9a9a9a" stroke="none"/>
<path d="M226,406.84 L231,405.24 L253.8,405.24 L258.8,406.84 Q252.8,409.04 242.4,408.84 Q232,409.04 226,406.84 Z" stroke="#000" stroke-width="0" fill="#fff" stroke="none"/>
<rect x="230" y="410.43" width="24.8" height="1.5" stroke="#000" stroke-width="0" fill="#9a9a9a" stroke="none"/>
<path d="M226,414.62 L231,413.02 L253.8,413.02 L258.8,414.62 Q252.8,416.82 242.4,416.62 Q232,416.82 226,414.62 Z" stroke="#000" stroke-width="0" fill="#fff" stroke="none"/>
<rect x="230" y="418.21" width="24.8" height="1.5" stroke="#000" stroke-width="0" fill="#9a9a9a" stroke="none"/>
<path d="M226,422.4 L231,420.8 L253.8,420.8 L258.8,422.4 Q252.8,424.6 242.4,424.4 Q232,424.6 226,422.4 Z" stroke="#000" stroke-width="0" fill="#fff" stroke="none"/>
<rect x="230" y="425.99" width="24.8" height="1.5" stroke="#000" stroke-width="0" fill="#9a9a9a" stroke="none"/>
<path d="M226,430.18 L231,428.58 L253.8,428.58 L258.8,430.18 Q252.8,432.38 242.4,432.18 Q232,432.38 226,430.18 Z" stroke="#000" stroke-width="0" fill="#fff" stroke="none"/>
<rect x="230" y="433.77" width="24.8" height="1.5" stroke="#000" stroke-width="0" fill="#9a9a9a" stroke="none"/>
<path d="M226,437.96 L231,436.36 L253.8,436.36 L258.8,437.96 Q252.8,440.16 242.4,439.96 Q232,440.16 226,437.96 Z" stroke="#000" stroke-width="0" fill="#fff" stroke="none"/>
<rect x="230" y="441.55" width="24.8" height="1.5" stroke="#000" stroke-width="0" fill="#9a9a9a" stroke="none"/>
<path d="M226,445.74 L231,444.14 L253.8,444.14 L258.8,445.74 Q252.8,447.94 242.4,447.74 Q232,447.94 226,445.74 Z" stroke="#000" stroke-width="0" fill="#fff" stroke="none"/>
<rect x="230" y="449.33" width="24.8" height="1.5" stroke="#000" stroke-width="0" fill="#9a9a9a" stroke="none"/>
<path d="M226,453.52 L231,451.92 L253.8,451.92 L258.8,453.52 Q252.8,455.72 242.4,455.52 Q232,455.72 226,453.52 Z" stroke="#000" stroke-width="0" fill="#fff" stroke="none"/>
<rect x="230" y="457.11" width="24.8" height="1.5" stroke="#000" stroke-width="0" fill="#9a9a9a" stroke="none"/>
<path d="M226,461.3 L231,459.7 L253.8,459.7 L258.8,461.3 Q252.8,463.5 242.4,463.3 Q232,463.5 226,461.3 Z" stroke="#000" stroke-width="0" fill="#fff" stroke="none"/>
<rect x="230" y="464.89" width="24.8" height="1.5" stroke="#000" stroke-width="0" fill="#9a9a9a" stroke="none"/>
<path d="M226,469.08 L231,467.48 L253.8,467.48 L258.8,469.08 Q252.8,471.28 242.4,471.08 Q232,471.28 226,469.08 Z" stroke="#000" stroke-width="0" fill="#fff" stroke="none"/>
<rect x="230" y="472.67" width="24.8" height="1.5" stroke="#000" stroke-width="0" fill="#9a9a9a" stroke="none"/>
<path d="M226,476.86 L231,475.26 L253.8,475.26 L258.8,476.86 Q252.8,479.06 242.4,478.86 Q232,479.06 226,476.86 Z" stroke="#000" stroke-width="0" fill="#fff" stroke="none"/>
<rect x="230" y="480.45" width="24.8" height="1.5" stroke="#000" stroke-width="0" fill="#9a9a9a" stroke="none"/>
<path d="M226,484.64 L231,483.04 L253.8,483.04 L258.8,484.64 Q252.8,486.84 242.4,486.64 Q232,486.84 226,484.64 Z" stroke="#000" stroke-width="0" fill="#fff" stroke="none"/>
<rect x="230" y="488.23" width="24.8" height="1.5" stroke="#000" stroke-width="0" fill="#9a9a9a" stroke="none"/>
<path d="M226,492.42 L231,490.82 L253.8,490.82 L258.8,492.42 Q252.8,494.62 242.4,494.42 Q232,494.62 226,492.42 Z" stroke="#000" stroke-width="0" fill="#fff" stroke="none"/>
<rect x="230" y="496.01" width="24.8" height="1.5" stroke="#000" stroke-width="0" fill="#9a9a9a" stroke="none"/>
<path d="M226,500.2 L231,498.6 L253.8,498.6 L258.8,500.2 Q252.8,502.4 242.4,502.2 Q232,502.4 226,500.2 Z" stroke="#000" stroke-width="0" fill="#fff" stroke="none"/>
<rect x="230" y="503.79" width="24.8" height="1.5" stroke="#000" stroke-width="0" fill="#9a9a9a" stroke="none"/>
<path d="M256.2,270.69 L261.2,269.09 L284,269.09 L289,270.69 Q283,272.89 272.6,272.69 Q262.2,272.89 256.2,270.69 Z" stroke="#000" stroke-width="0" fill="#fff" stroke="none"/>
<rect x="260.2" y="274.28" width="24.8" height="1.5" stroke="#000" stroke-width="0" fill="#9a9a9a" stroke="none"/>
<path d="M256.2,278.47 L261.2,276.87 L284,276.87 L289,278.47 Q283,280.67 272.6,280.47 Q262.2,280.67 256.2,278.47 Z" stroke="#000" stroke-width="0" fill="#fff" stroke="none"/>
<rect x="260.2" y="282.06" width="24.8" height="1.5" stroke="#000" stroke-width="0" fill="#9a9a9a" stroke="none"/>
<path d="M256.2,286.25 L261.2,284.65 L284,284.65 L289,286.25 Q283,288.45 272.6,288.25 Q262.2,288.45 256.2,286.25 Z" stroke="#000" stroke-width="0" fill="#fff" stroke="none"/>
<rect x="260.2" y="289.84" width="24.8" height="1.5" stroke="#000" stroke-width="0" fill="#9a9a9a" stroke="none"/>
<path d="M256.2,294.03 L261.2,292.43 L284,292.43 L289,294.03 Q283,296.23 272.6,296.03 Q262.2,296.23 256.2,294.03 Z" stroke="#000" stroke-width="0" fill="#fff" stroke="none"/>
<rect x="260.2" y="297.62" width="24.8" height="1.5" stroke="#000" stroke-width="0" fill="#9a9a9a" stroke="none"/>
<path d="M256.2,301.81 L261.2,300.21 L284,300.21 L289,301.81 Q283,304.01 272.6,303.81 Q262.2,304.01 256.2,301.81 Z" stroke="#000" stroke-width="0" fill="#fff" stroke="none"/>
<rect x="260.2" y="305.4" width="24.8" height="1.5" stroke="#000" stroke-width="0" fill="#9a9a9a" stroke="none"/>
<path d="M256.2,309.59 L261.2,307.99 L284,307.99 L289,309.59 Q283,311.79 272.6,311.59 Q262.2,311.79 256.2,309.59 Z" stroke="#000" stroke-width="0" fill="#fff" stroke="none"/>
<rect x="260.2" y="313.18" width="24.8" height="1.5" stroke="#000" stroke-width="0" fill="#9a9a9a" stroke="none"/>
<path d="M256.2,317.37 L261.2,315.77 L284,315.77 L289,317.37 Q283,319.57 272.6,319.37 Q262.2,319.57 256.2,317.37 Z" stroke="#000" stroke-width="0" fill="#fff" stroke="none"/>
<rect x="260.2" y="320.96" width="24.8" height="1.5" stroke="#000" stroke-width="0" fill="#9a9a9a" stroke="none"/>
<path d="M256.2,325.15 L261.2,323.55 L284,323.55 L289,325.15 Q283,327.35 272.6,327.15 Q262.2,327.35 256.2,325.15 Z" stroke="#000" stroke-width="0" fill="#fff" stroke="none"/>
<rect x="260.2" y="328.74" width="24.8" height="1.5" stroke="#000" stroke-width="0" fill="#9a9a9a" stroke="none"/>
<path d="M256.2,332.93 L261.2,331.33 L284,331.33 L289,332.93 Q283,335.13 272.6,334.93 Q262.2,335.13 256.2,332.93 Z" stroke="#000" stroke-width="0" fill="#fff" stroke="none"/>
<rect x="260.2" y="336.52" width="24.8" height="1.5" stroke="#000" stroke-width="0" fill="#9a9a9a" stroke="none"/>
<path d="M256.2,340.71 L261.2,339.11 L284,339.11 L289,340.71 Q283,342.91 272.6,342.71 Q262.2,342.91 256.2,340.71 Z" stroke="#000" stroke-width="0" fill="#fff" stroke="none"/>
<rect x="260.2" y="344.3" width="24.8" height="1.5" stroke="#000" stroke-width="0" fill="#9a9a9a" stroke="none"/>
<path d="M256.2,348.49 L261.2,346.89 L284,346.89 L289,348.49 Q283,350.69 272.6,350.49 Q262.2,350.69 256.2,348.49 Z" stroke="#000" stroke-width="0" fill="#fff" stroke="none"/>
<rect x="260.2" y="352.08" width="24.8" height="1.5" stroke="#000" stroke-width="0" fill="#9a9a9a" stroke="none"/>
<path d="M256.2,356.27 L261.2,354.67 L284,354.67 L289,356.27 Q283,358.47 272.6,358.27 Q262.2,358.47 256.2,356.27 Z" stroke="#000" stroke-width="0" fill="#fff" stroke="none"/>
<rect x="260.2" y="359.86" width="24.8" height="1.5" stroke="#000" stroke-width="0" fill="#9a9a9a" stroke="none"/>
<path d="M256.2,364.05 L261.2,362.45 L284,362.45 L289,364.05 Q283,366.25 272.6,366.05 Q262.2,366.25 256.2,364.05 Z" stroke="#000" stroke-width="0" fill="#fff" stroke="none"/>
<rect x="260.2" y="367.64" width="24.8" height="1.5" stroke="#000" stroke-width="0" fill="#9a9a9a" stroke="none"/>
<path d="M256.2,371.83 L261.2,370.23 L284,370.23 L289,371.83 Q283,374.03 272.6,373.83 Q262.2,374.03 256.2,371.83 Z" stroke="#000" stroke-width="0" fill="#fff" stroke="none"/>
<rect x="260.2" y="375.42" width="24.8" height="1.5" stroke="#000" stroke-width="0" fill="#9a9a9a" stroke="none"/>
<path d="M256.2,379.61 L261.2,378.01 L284,378.01 L289,379.61 Q283,381.81 272.6,381.61 Q262.2,381.81 256.2,379.61 Z" stroke="#000" stroke-width="0" fill="#fff" stroke="none"/>
<rect x="260.2" y="383.2" width="24.8" height="1.5" stroke="#000" stroke-width="0" fill="#9a9a9a" stroke="none"/>
<path d="M256.2,387.39 L261.2,385.79 L284,385.79 L289,387.39 Q283,389.59 272.6,389.39 Q262.2,389.59 256.2,387.39 Z" stroke="#000" stroke-width="0" fill="#fff" stroke="none"/>
<rect x="260.2" y="390.98" width="24.8" height="1.5" stroke="#000" stroke-width="0" fill="#9a9a9a" stroke="none"/>
<path d="M256.2,395.17 L261.2,393.57 L284,393.57 L289,395.17 Q283,397.37 272.6,397.17 Q262.2,397.37 256.2,395.17 Z" stroke="#000" stroke-width="0" fill="#fff" stroke="none"/>
<rect x="260.2" y="398.76" width="24.8" height="1.5" stroke="#000" stroke-width="0" fill="#9a9a9a" stroke="none"/>
<path d="M256.2,402.95 L261.2,401.35 L284,401.35 L289,402.95 Q283,405.15 272.6,404.95 Q262.2,405.15 256.2,402.95 Z" stroke="#000" stroke-width="0" fill="#fff" stroke="none"/>
<rect x="260.2" y="406.54" width="24.8" height="1.5" stroke="#000" stroke-width="0" fill="#9a9a9a" stroke="none"/>
<path d="M256.2,410.73 L261.2,409.13 L284,409.13 L289,410.73 Q283,412.93 272.6,412.73 Q262.2,412.93 256.2,410.73 Z" stroke="#000" stroke-width="0" fill="#fff" stroke="none"/>
<rect x="260.2" y="414.32" width="24.8" height="1.5" stroke="#000" stroke-width="0" fill="#9a9a9a" stroke="none"/>
<path d="M256.2,418.51 L261.2,416.91 L284,416.91 L289,418.51 Q283,420.71 272.6,420.51 Q262.2,420.71 256.2,418.51 Z" stroke="#000" stroke-width="0" fill="#fff" stroke="none"/>
<rect x="260.2" y="422.1" width="24.8" height="1.5" stroke="#000" stroke-width="0" fill="#9a9a9a" stroke="none"/>
<path d="M256.2,426.29 L261.2,424.69 L284,424.69 L289,426.29 Q283,428.49 272.6,428.29 Q262.2,428.49 256.2,426.29 Z" stroke="#000" stroke-width="0" fill="#fff" stroke="none"/>
<rect x="260.2" y="429.88" width="24.8" height="1.5" stroke="#000" stroke-width="0" fill="#9a9a9a" stroke="none"/>
<path d="M256.2,434.07 L261.2,432.47 L284,432.47 L289,434.07 Q283,436.27 272.6,436.07 Q262.2,436.27 256.2,434.07 Z" stroke="#000" stroke-width="0" fill="#fff" stroke="none"/>
<rect x="260.2" y="437.66" width="24.8" height="1.5" stroke="#000" stroke-width="0" fill="#9a9a9a" stroke="none"/>
<path d="M256.2,441.85 L261.2,440.25 L284,440.25 L289,441.85 Q283,444.05 272.6,443.85 Q262.2,444.05 256.2,441.85 Z" stroke="#000" stroke-width="0" fill="#fff" stroke="none"/>
<rect x="260.2" y="445.44" width="24.8" height="1.5" stroke="#000" stroke-width="0" fill="#9a9a9a" stroke="none"/>
<path d="M256.2,449.63 L261.2,448.03 L284,448.03 L289,449.63 Q283,451.83 272.6,451.63 Q262.2,451.83 256.2,449.63 Z" stroke="#000" stroke-width="0" fill="#fff" stroke="none"/>
<rect x="260.2" y="453.22" width="24.8" height="1.5" stroke="#000" stroke-width="0" fill="#9a9a9a" stroke="none"/>
<path d="M256.2,457.41 L261.2,455.81 L284,455.81 L289,457.41 Q283,459.61 272.6,459.41 Q262.2,459.61 256.2,457.41 Z" stroke="#000" stroke-width="0" fill="#fff" stroke="none"/>
<rect x="260.2" y="461" width="24.8" height="1.5" stroke="#000" stroke-width="0" fill="#9a9a9a" stroke="none"/>
<path d="M256.2,465.19 L261.2,463.59 L284,463.59 L289,465.19 Q283,467.39 272.6,467.19 Q262.2,467.39 256.2,465.19 Z" stroke="#000" stroke-width="0" fill="#fff" stroke="none"/>
<rect x="260.2" y="468.78" width="24.8" height="1.5" stroke="#000" stroke-width="0" fill="#9a9a9a" stroke="none"/>
<path d="M256.2,472.97 L261.2,471.37 L284,471.37 L289,472.97 Q283,475.17 272.6,474.97 Q262.2,475.17 256.2,472.97 Z" stroke="#000" stroke-width="0" fill="#fff" stroke="none"/>
<rect x="260.2" y="476.56" width="24.8" height="1.5" stroke="#000" stroke-width="0" fill="#9a9a9a" stroke="none"/>
<path d="M256.2,480.75 L261.2,479.15 L284,479.15 L289,480.75 Q283,482.95 272.6,482.75 Q262.2,482.95 256.2,480.75 Z" stroke="#000" stroke-width="0" fill="#fff" stroke="none"/>
<rect x="260.2" y="484.34" width="24.8" height="1.5" stroke="#000" stroke-width="0" fill="#9a9a9a" stroke="none"/>
<path d="M256.2,488.53 L261.2,486.93 L284,486.93 L289,488.53 Q283,490.73 272.6,490.53 Q262.2,490.73 256.2,488.53 Z" stroke="#000" stroke-width="0" fill="#fff" stroke="none"/>
<rect x="260.2" y="492.12" width="24.8" height="1.5" stroke="#000" stroke-width="0" fill="#9a9a9a" stroke="none"/>
<path d="M256.2,496.31 L261.2,494.71 L284,494.71 L289,496.31 Q283,498.51 272.6,498.31 Q262.2,498.51 256.2,496.31 Z" stroke="#000" stroke-width="0" fill="#fff" stroke="none"/>
<rect x="260.2" y="499.9" width="24.8" height="1.5" stroke="#000" stroke-width="0" fill="#9a9a9a" stroke="none"/>
<path d="M256.2,504.09 L261.2,502.49 L284,502.49 L289,504.09 Q283,506.29 272.6,506.09 Q262.2,506.29 256.2,504.09 Z" stroke="#000" stroke-width="0" fill="#fff" stroke="none"/>
<rect x="260.2" y="507.68" width="24.8" height="1.5" stroke="#000" stroke-width="0" fill="#9a9a9a" stroke="none"/>
<path d="M286.4,266.8 L291.4,265.2 L314.2,265.2 L319.2,266.8 Q313.2,269 302.8,268.8 Q292.4,269 286.4,266.8 Z" stroke="#000" stroke-width="0" fill="#fff" stroke="none"/>
<rect x="290.4" y="270.39" width="24.8" height="1.5" stroke="#000" stroke-width="0" fill="#9a9a9a" stroke="none"/>
<path d="M286.4,274.58 L291.4,272.98 L314.2,272.98 L319.2,274.58 Q313.2,276.78 302.8,276.58 Q292.4,276.78 286.4,274.58 Z" stroke="#000" stroke-width="0" fill="#fff" stroke="none"/>
<rect x="290.4" y="278.17" width="24.8" height="1.5" stroke="#000" stroke-width="0" fill="#9a9a9a" stroke="none"/>
<path d="M286.4,282.36 L291.4,280.76 L314.2,280.76 L319.2,282.36 Q313.2,284.56 302.8,284.36 Q292.4,284.56 286.4,282.36 Z" stroke="#000" stroke-width="0" fill="#fff" stroke="none"/>
<rect x="290.4" y="285.95" width="24.8" height="1.5" stroke="#000" stroke-width="0" fill="#9a9a9a" stroke="none"/>
<path d="M286.4,290.14 L291.4,288.54 L314.2,288.54 L319.2,290.14 Q313.2,292.34 302.8,292.14 Q292.4,292.34 286.4,290.14 Z" stroke="#000" stroke-width="0" fill="#fff" stroke="none"/>
<rect x="290.4" y="293.73" width="24.8" height="1.5" stroke="#000" stroke-width="0" fill="#9a9a9a" stroke="none"/>
<path d="M286.4,297.92 L291.4,296.32 L314.2,296.32 L319.2,297.92 Q313.2,300.12 302.8,299.92 Q292.4,300.12 286.4,297.92 Z" stroke="#000" stroke-width="0" fill="#fff" stroke="none"/>
<rect x="290.4" y="301.51" width="24.8" height="1.5" stroke="#000" stroke-width="0" fill="#9a9a9a" stroke="none"/>
<path d="M286.4,305.7 L291.4,304.1 L314.2,304.1 L319.2,305.7 Q313.2,307.9 302.8,307.7 Q292.4,307.9 286.4,305.7 Z" stroke="#000" stroke-width="0" fill="#fff" stroke="none"/>
<rect x="290.4" y="309.29" width="24.8" height="1.5" stroke="#000" stroke-width="0" fill="#9a9a9a" stroke="none"/>
<path d="M286.4,313.48 L291.4,311.88 L314.2,311.88 L319.2,313.48 Q313.2,315.68 302.8,315.48 Q292.4,315.68 286.4,313.48 Z" stroke="#000" stroke-width="0" fill="#fff" stroke="none"/>
<rect x="290.4" y="317.07" width="24.8" height="1.5" stroke="#000" stroke-width="0" fill="#9a9a9a" stroke="none"/>
<path d="M286.4,321.26 L291.4,319.66 L314.2,319.66 L319.2,321.26 Q313.2,323.46 302.8,323.26 Q292.4,323.46 286.4,321.26 Z" stroke="#000" stroke-width="0" fill="#fff" stroke="none"/>
<rect x="290.4" y="324.85" width="24.8" height="1.5" stroke="#000" stroke-width="0" fill="#9a9a9a" stroke="none"/>
<path d="M286.4,329.04 L291.4,327.44 L314.2,327.44 L319.2,329.04 Q313.2,331.24 302.8,331.04 Q292.4,331.24 286.4,329.04 Z" stroke="#000" stroke-width="0" fill="#fff" stroke="none"/>
<rect x="290.4" y="332.63" width="24.8" height="1.5" stroke="#000" stroke-width="0" fill="#9a9a9a" stroke="none"/>
<path d="M286.4,336.82 L291.4,335.22 L314.2,335.22 L319.2,336.82 Q313.2,339.02 302.8,338.82 Q292.4,339.02 286.4,336.82 Z" stroke="#000" stroke-width="0" fill="#fff" stroke="none"/>
<rect x="290.4" y="340.41" width="24.8" height="1.5" stroke="#000" stroke-width="0" fill="#9a9a9a" stroke="none"/>
<path d="M286.4,344.6 L291.4,343 L314.2,343 L319.2,344.6 Q313.2,346.8 302.8,346.6 Q292.4,346.8 286.4,344.6 Z" stroke="#000" stroke-width="0" fill="#fff" stroke="none"/>
<rect x="290.4" y="348.19" width="24.8" height="1.5" stroke="#000" stroke-width="0" fill="#9a9a9a" stroke="none"/>
<path d="M286.4,352.38 L291.4,350.78 L314.2,350.78 L319.2,352.38 Q313.2,354.58 302.8,354.38 Q292.4,354.58 286.4,352.38 Z" stroke="#000" stroke-width="0" fill="#fff" stroke="none"/>
<rect x="290.4" y="355.97" width="24.8" height="1.5" stroke="#000" stroke-width="0" fill="#9a9a9a" stroke="none"/>
<path d="M286.4,360.16 L291.4,358.56 L314.2,358.56 L319.2,360.16 Q313.2,362.36 302.8,362.16 Q292.4,362.36 286.4,360.16 Z" stroke="#000" stroke-width="0" fill="#fff" stroke="none"/>
<rect x="290.4" y="363.75" width="24.8" height="1.5" stroke="#000" stroke-width="0" fill="#9a9a9a" stroke="none"/>
<path d="M286.4,367.94 L291.4,366.34 L314.2,366.34 L319.2,367.94 Q313.2,370.14 302.8,369.94 Q292.4,370.14 286.4,367.94 Z" stroke="#000" stroke-width="0" fill="#fff" stroke="none"/>
<rect x="290.4" y="371.53" width="24.8" height="1.5" stroke="#000" stroke-width="0" fill="#9a9a9a" stroke="none"/>
<path d="M286.4,375.72 L291.4,374.12 L314.2,374.12 L319.2,375.72 Q313.2,377.92 302.8,377.72 Q292.4,377.92 286.4,375.72 Z" stroke="#000" stroke-width="0" fill="#fff" stroke="none"/>
<rect x="290.4" y="379.31" width="24.8" height="1.5" stroke="#000" stroke-width="0" fill="#9a9a9a" stroke="none"/>
<path d="M286.4,383.5 L291.4,381.9 L314.2,381.9 L319.2,383.5 Q313.2,385.7 302.8,385.5 Q292.4,385.7 286.4,383.5 Z" stroke="#000" stroke-width="0" fill="#fff" stroke="none"/>
<rect x="290.4" y="387.09" width="24.8" height="1.5" stroke="#000" stroke-width="0" fill="#9a9a9a" stroke="none"/>
<path d="M286.4,391.28 L291.4,389.68 L314.2,389.68 L319.2,391.28 Q313.2,393.48 302.8,393.28 Q292.4,393.48 286.4,391.28 Z" stroke="#000" stroke-width="0" fill="#fff" stroke="none"/>
<rect x="290.4" y="394.87" width="24.8" height="1.5" stroke="#000" stroke-width="0" fill="#9a9a9a" stroke="none"/>
<path d="M286.4,399.06 L291.4,397.46 L314.2,397.46 L319.2,399.06 Q313.2,401.26 302.8,401.06 Q292.4,401.26 286.4,399.06 Z" stroke="#000" stroke-width="0" fill="#fff" stroke="none"/>
<rect x="290.4" y="402.65" width="24.8" height="1.5" stroke="#000" stroke-width="0" fill="#9a9a9a" stroke="none"/>
<path d="M286.4,406.84 L291.4,405.24 L314.2,405.24 L319.2,406.84 Q313.2,409.04 302.8,408.84 Q292.4,409.04 286.4,406.84 Z" stroke="#000" stroke-width="0" fill="#fff" stroke="none"/>
<rect x="290.4" y="410.43" width="24.8" height="1.5" stroke="#000" stroke-width="0" fill="#9a9a9a" stroke="none"/>
<path d="M286.4,414.62 L291.4,413.02 L314.2,413.02 L319.2,414.62 Q313.2,416.82 302.8,416.62 Q292.4,416.82 286.4,414.62 Z" stroke="#000" stroke-width="0" fill="#fff" stroke="none"/>
<rect x="290.4" y="418.21" width="24.8" height="1.5" stroke="#000" stroke-width="0" fill="#9a9a9a" stroke="none"/>
<path d="M286.4,422.4 L291.4,420.8 L314.2,420.8 L319.2,422.4 Q313.2,424.6 302.8,424.4 Q292.4,424.6 286.4,422.4 Z" stroke="#000" stroke-width="0" fill="#fff" stroke="none"/>
<rect x="290.4" y="425.99" width="24.8" height="1.5" stroke="#000" stroke-width="0" fill="#9a9a9a" stroke="none"/>
<path d="M286.4,430.18 L291.4,428.58 L314.2,428.58 L319.2,430.18 Q313.2,432.38 302.8,432.18 Q292.4,432.38 286.4,430.18 Z" stroke="#000" stroke-width="0" fill="#fff" stroke="none"/>
<rect x="290.4" y="433.77" width="24.8" height="1.5" stroke="#000" stroke-width="0" fill="#9a9a9a" stroke="none"/>
<path d="M286.4,437.96 L291.4,436.36 L314.2,436.36 L319.2,437.96 Q313.2,440.16 302.8,439.96 Q292.4,440.16 286.4,437.96 Z" stroke="#000" stroke-width="0" fill="#fff" stroke="none"/>
<rect x="290.4" y="441.55" width="24.8" height="1.5" stroke="#000" stroke-width="0" fill="#9a9a9a" stroke="none"/>
<path d="M286.4,445.74 L291.4,444.14 L314.2,444.14 L319.2,445.74 Q313.2,447.94 302.8,447.74 Q292.4,447.94 286.4,445.74 Z" stroke="#000" stroke-width="0" fill="#fff" stroke="none"/>
<rect x="290.4" y="449.33" width="24.8" height="1.5" stroke="#000" stroke-width="0" fill="#9a9a9a" stroke="none"/>
<path d="M286.4,453.52 L291.4,451.92 L314.2,451.92 L319.2,453.52 Q313.2,455.72 302.8,455.52 Q292.4,455.72 286.4,453.52 Z" stroke="#000" stroke-width="0" fill="#fff" stroke="none"/>
<rect x="290.4" y="457.11" width="24.8" height="1.5" stroke="#000" stroke-width="0" fill="#9a9a9a" stroke="none"/>
<path d="M286.4,461.3 L291.4,459.7 L314.2,459.7 L319.2,461.3 Q313.2,463.5 302.8,463.3 Q292.4,463.5 286.4,461.3 Z" stroke="#000" stroke-width="0" fill="#fff" stroke="none"/>
<rect x="290.4" y="464.89" width="24.8" height="1.5" stroke="#000" stroke-width="0" fill="#9a9a9a" stroke="none"/>
<path d="M286.4,469.08 L291.4,467.48 L314.2,467.48 L319.2,469.08 Q313.2,471.28 302.8,471.08 Q292.4,471.28 286.4,469.08 Z" stroke="#000" stroke-width="0" fill="#fff" stroke="none"/>
<rect x="290.4" y="472.67" width="24.8" height="1.5" stroke="#000" stroke-width="0" fill="#9a9a9a" stroke="none"/>
<path d="M286.4,476.86 L291.4,475.26 L314.2,475.26 L319.2,476.86 Q313.2,479.06 302.8,478.86 Q292.4,479.06 286.4,476.86 Z" stroke="#000" stroke-width="0" fill="#fff" stroke="none"/>
<rect x="290.4" y="480.45" width="24.8" height="1.5" stroke="#000" stroke-width="0" fill="#9a9a9a" stroke="none"/>
<path d="M286.4,484.64 L291.4,483.04 L314.2,483.04 L319.2,484.64 Q313.2,486.84 302.8,486.64 Q292.4,486.84 286.4,484.64 Z" stroke="#000" stroke-width="0" fill="#fff" stroke="none"/>
<rect x="290.4" y="488.23" width="24.8" height="1.5" stroke="#000" stroke-width="0" fill="#9a9a9a" stroke="none"/>
<path d="M286.4,492.42 L291.4,490.82 L314.2,490.82 L319.2,492.42 Q313.2,494.62 302.8,494.42 Q292.4,494.62 286.4,492.42 Z" stroke="#000" stroke-width="0" fill="#fff" stroke="none"/>
<rect x="290.4" y="496.01" width="24.8" height="1.5" stroke="#000" stroke-width="0" fill="#9a9a9a" stroke="none"/>
<path d="M286.4,500.2 L291.4,498.6 L314.2,498.6 L319.2,500.2 Q313.2,502.4 302.8,502.2 Q292.4,502.4 286.4,500.2 Z" stroke="#000" stroke-width="0" fill="#fff" stroke="none"/>
<rect x="290.4" y="503.79" width="24.8" height="1.5" stroke="#000" stroke-width="0" fill="#9a9a9a" stroke="none"/>
<path d="M316.6,270.69 L321.6,269.09 L344.4,269.09 L349.4,270.69 Q343.4,272.89 333,272.69 Q322.6,272.89 316.6,270.69 Z" stroke="#000" stroke-width="0" fill="#fff" stroke="none"/>
<rect x="320.6" y="274.28" width="24.8" height="1.5" stroke="#000" stroke-width="0" fill="#9a9a9a" stroke="none"/>
<path d="M316.6,278.47 L321.6,276.87 L344.4,276.87 L349.4,278.47 Q343.4,280.67 333,280.47 Q322.6,280.67 316.6,278.47 Z" stroke="#000" stroke-width="0" fill="#fff" stroke="none"/>
<rect x="320.6" y="282.06" width="24.8" height="1.5" stroke="#000" stroke-width="0" fill="#9a9a9a" stroke="none"/>
<path d="M316.6,286.25 L321.6,284.65 L344.4,284.65 L349.4,286.25 Q343.4,288.45 333,288.25 Q322.6,288.45 316.6,286.25 Z" stroke="#000" stroke-width="0" fill="#fff" stroke="none"/>
<rect x="320.6" y="289.84" width="24.8" height="1.5" stroke="#000" stroke-width="0" fill="#9a9a9a" stroke="none"/>
<path d="M316.6,294.03 L321.6,292.43 L344.4,292.43 L349.4,294.03 Q343.4,296.23 333,296.03 Q322.6,296.23 316.6,294.03 Z" stroke="#000" stroke-width="0" fill="#fff" stroke="none"/>
<rect x="320.6" y="297.62" width="24.8" height="1.5" stroke="#000" stroke-width="0" fill="#9a9a9a" stroke="none"/>
<path d="M316.6,301.81 L321.6,300.21 L344.4,300.21 L349.4,301.81 Q343.4,304.01 333,303.81 Q322.6,304.01 316.6,301.81 Z" stroke="#000" stroke-width="0" fill="#fff" stroke="none"/>
<rect x="320.6" y="305.4" width="24.8" height="1.5" stroke="#000" stroke-width="0" fill="#9a9a9a" stroke="none"/>
<path d="M316.6,309.59 L321.6,307.99 L344.4,307.99 L349.4,309.59 Q343.4,311.79 333,311.59 Q322.6,311.79 316.6,309.59 Z" stroke="#000" stroke-width="0" fill="#fff" stroke="none"/>
<rect x="320.6" y="313.18" width="24.8" height="1.5" stroke="#000" stroke-width="0" fill="#9a9a9a" stroke="none"/>
<path d="M316.6,317.37 L321.6,315.77 L344.4,315.77 L349.4,317.37 Q343.4,319.57 333,319.37 Q322.6,319.57 316.6,317.37 Z" stroke="#000" stroke-width="0" fill="#fff" stroke="none"/>
<rect x="320.6" y="320.96" width="24.8" height="1.5" stroke="#000" stroke-width="0" fill="#9a9a9a" stroke="none"/>
<path d="M316.6,325.15 L321.6,323.55 L344.4,323.55 L349.4,325.15 Q343.4,327.35 333,327.15 Q322.6,327.35 316.6,325.15 Z" stroke="#000" stroke-width="0" fill="#fff" stroke="none"/>
<rect x="320.6" y="328.74" width="24.8" height="1.5" stroke="#000" stroke-width="0" fill="#9a9a9a" stroke="none"/>
<path d="M316.6,332.93 L321.6,331.33 L344.4,331.33 L349.4,332.93 Q343.4,335.13 333,334.93 Q322.6,335.13 316.6,332.93 Z" stroke="#000" stroke-width="0" fill="#fff" stroke="none"/>
<rect x="320.6" y="336.52" width="24.8" height="1.5" stroke="#000" stroke-width="0" fill="#9a9a9a" stroke="none"/>
<path d="M316.6,340.71 L321.6,339.11 L344.4,339.11 L349.4,340.71 Q343.4,342.91 333,342.71 Q322.6,342.91 316.6,340.71 Z" stroke="#000" stroke-width="0" fill="#fff" stroke="none"/>
<rect x="320.6" y="344.3" width="24.8" height="1.5" stroke="#000" stroke-width="0" fill="#9a9a9a" stroke="none"/>
<path d="M316.6,348.49 L321.6,346.89 L344.4,346.89 L349.4,348.49 Q343.4,350.69 333,350.49 Q322.6,350.69 316.6,348.49 Z" stroke="#000" stroke-width="0" fill="#fff" stroke="none"/>
<rect x="320.6" y="352.08" width="24.8" height="1.5" stroke="#000" stroke-width="0" fill="#9a9a9a" stroke="none"/>
<path d="M316.6,356.27 L321.6,354.67 L344.4,354.67 L349.4,356.27 Q343.4,358.47 333,358.27 Q322.6,358.47 316.6,356.27 Z" stroke="#000" stroke-width="0" fill="#fff" stroke="none"/>
<rect x="320.6" y="359.86" width="24.8" height="1.5" stroke="#000" stroke-width="0" fill="#9a9a9a" stroke="none"/>
<path d="M316.6,364.05 L321.6,362.45 L344.4,362.45 L349.4,364.05 Q343.4,366.25 333,366.05 Q322.6,366.25 316.6,364.05 Z" stroke="#000" stroke-width="0" fill="#fff" stroke="none"/>
<rect x="320.6" y="367.64" width="24.8" height="1.5" stroke="#000" stroke-width="0" fill="#9a9a9a" stroke="none"/>
<path d="M316.6,371.83 L321.6,370.23 L344.4,370.23 L349.4,371.83 Q343.4,374.03 333,373.83 Q322.6,374.03 316.6,371.83 Z" stroke="#000" stroke-width="0" fill="#fff" stroke="none"/>
<rect x="320.6" y="375.42" width="24.8" height="1.5" stroke="#000" stroke-width="0" fill="#9a9a9a" stroke="none"/>
<path d="M316.6,379.61 L321.6,378.01 L344.4,378.01 L349.4,379.61 Q343.4,381.81 333,381.61 Q322.6,381.81 316.6,379.61 Z" stroke="#000" stroke-width="0" fill="#fff" stroke="none"/>
<rect x="320.6" y="383.2" width="24.8" height="1.5" stroke="#000" stroke-width="0" fill="#9a9a9a" stroke="none"/>
<path d="M316.6,387.39 L321.6,385.79 L344.4,385.79 L349.4,387.39 Q343.4,389.59 333,389.39 Q322.6,389.59 316.6,387.39 Z" stroke="#000" stroke-width="0" fill="#fff" stroke="none"/>
<rect x="320.6" y="390.98" width="24.8" height="1.5" stroke="#000" stroke-width="0" fill="#9a9a9a" stroke="none"/>
<path d="M316.6,395.17 L321.6,393.57 L344.4,393.57 L349.4,395.17 Q343.4,397.37 333,397.17 Q322.6,397.37 316.6,395.17 Z" stroke="#000" stroke-width="0" fill="#fff" stroke="none"/>
<rect x="320.6" y="398.76" width="24.8" height="1.5" stroke="#000" stroke-width="0" fill="#9a9a9a" stroke="none"/>
<path d="M316.6,402.95 L321.6,401.35 L344.4,401.35 L349.4,402.95 Q343.4,405.15 333,404.95 Q322.6,405.15 316.6,402.95 Z" stroke="#000" stroke-width="0" fill="#fff" stroke="none"/>
<rect x="320.6" y="406.54" width="24.8" height="1.5" stroke="#000" stroke-width="0" fill="#9a9a9a" stroke="none"/>
<path d="M316.6,410.73 L321.6,409.13 L344.4,409.13 L349.4,410.73 Q343.4,412.93 333,412.73 Q322.6,412.93 316.6,410.73 Z" stroke="#000" stroke-width="0" fill="#fff" stroke="none"/>
<rect x="320.6" y="414.32" width="24.8" height="1.5" stroke="#000" stroke-width="0" fill="#9a9a9a" stroke="none"/>
<path d="M316.6,418.51 L321.6,416.91 L344.4,416.91 L349.4,418.51 Q343.4,420.71 333,420.51 Q322.6,420.71 316.6,418.51 Z" stroke="#000" stroke-width="0" fill="#fff" stroke="none"/>
<rect x="320.6" y="422.1" width="24.8" height="1.5" stroke="#000" stroke-width="0" fill="#9a9a9a" stroke="none"/>
<path d="M316.6,426.29 L321.6,424.69 L344.4,424.69 L349.4,426.29 Q343.4,428.49 333,428.29 Q322.6,428.49 316.6,426.29 Z" stroke="#000" stroke-width="0" fill="#fff" stroke="none"/>
<rect x="320.6" y="429.88" width="24.8" height="1.5" stroke="#000" stroke-width="0" fill="#9a9a9a" stroke="none"/>
<path d="M316.6,434.07 L321.6,432.47 L344.4,432.47 L349.4,434.07 Q343.4,436.27 333,436.07 Q322.6,436.27 316.6,434.07 Z" stroke="#000" stroke-width="0" fill="#fff" stroke="none"/>
<rect x="320.6" y="437.66" width="24.8" height="1.5" stroke="#000" stroke-width="0" fill="#9a9a9a" stroke="none"/>
<path d="M316.6,441.85 L321.6,440.25 L344.4,440.25 L349.4,441.85 Q343.4,444.05 333,443.85 Q322.6,444.05 316.6,441.85 Z" stroke="#000" stroke-width="0" fill="#fff" stroke="none"/>
<rect x="320.6" y="445.44" width="24.8" height="1.5" stroke="#000" stroke-width="0" fill="#9a9a9a" stroke="none"/>
<path d="M316.6,449.63 L321.6,448.03 L344.4,448.03 L349.4,449.63 Q343.4,451.83 333,451.63 Q322.6,451.83 316.6,449.63 Z" stroke="#000" stroke-width="0" fill="#fff" stroke="none"/>
<rect x="320.6" y="453.22" width="24.8" height="1.5" stroke="#000" stroke-width="0" fill="#9a9a9a" stroke="none"/>
<path d="M316.6,457.41 L321.6,455.81 L344.4,455.81 L349.4,457.41 Q343.4,459.61 333,459.41 Q322.6,459.61 316.6,457.41 Z" stroke="#000" stroke-width="0" fill="#fff" stroke="none"/>
<rect x="320.6" y="461" width="24.8" height="1.5" stroke="#000" stroke-width="0" fill="#9a9a9a" stroke="none"/>
<path d="M316.6,465.19 L321.6,463.59 L344.4,463.59 L349.4,465.19 Q343.4,467.39 333,467.19 Q322.6,467.39 316.6,465.19 Z" stroke="#000" stroke-width="0" fill="#fff" stroke="none"/>
<rect x="320.6" y="468.78" width="24.8" height="1.5" stroke="#000" stroke-width="0" fill="#9a9a9a" stroke="none"/>
<path d="M316.6,472.97 L321.6,471.37 L344.4,471.37 L349.4,472.97 Q343.4,475.17 333,474.97 Q322.6,475.17 316.6,472.97 Z" stroke="#000" stroke-width="0" fill="#fff" stroke="none"/>
<rect x="320.6" y="476.56" width="24.8" height="1.5" stroke="#000" stroke-width="0" fill="#9a9a9a" stroke="none"/>
<path d="M316.6,480.75 L321.6,479.15 L344.4,479.15 L349.4,480.75 Q343.4,482.95 333,482.75 Q322.6,482.95 316.6,480.75 Z" stroke="#000" stroke-width="0" fill="#fff" stroke="none"/>
<rect x="320.6" y="484.34" width="24.8" height="1.5" stroke="#000" stroke-width="0" fill="#9a9a9a" stroke="none"/>
<path d="M316.6,488.53 L321.6,486.93 L344.4,486.93 L349.4,488.53 Q343.4,490.73 333,490.53 Q322.6,490.73 316.6,488.53 Z" stroke="#000" stroke-width="0" fill="#fff" stroke="none"/>
<rect x="320.6" y="492.12" width="24.8" height="1.5" stroke="#000" stroke-width="0" fill="#9a9a9a" stroke="none"/>
<path d="M316.6,496.31 L321.6,494.71 L344.4,494.71 L349.4,496.31 Q343.4,498.51 333,498.31 Q322.6,498.51 316.6,496.31 Z" stroke="#000" stroke-width="0" fill="#fff" stroke="none"/>
<rect x="320.6" y="499.9" width="24.8" height="1.5" stroke="#000" stroke-width="0" fill="#9a9a9a" stroke="none"/>
<path d="M316.6,504.09 L321.6,502.49 L344.4,502.49 L349.4,504.09 Q343.4,506.29 333,506.09 Q322.6,506.29 316.6,504.09 Z" stroke="#000" stroke-width="0" fill="#fff" stroke="none"/>
<rect x="320.6" y="507.68" width="24.8" height="1.5" stroke="#000" stroke-width="0" fill="#9a9a9a" stroke="none"/>
<path d="M346.8,266.8 L351.8,265.2 L374.6,265.2 L379.6,266.8 Q373.6,269 363.2,268.8 Q352.8,269 346.8,266.8 Z" stroke="#000" stroke-width="0" fill="#fff" stroke="none"/>
<rect x="350.8" y="270.39" width="24.8" height="1.5" stroke="#000" stroke-width="0" fill="#9a9a9a" stroke="none"/>
<path d="M346.8,274.58 L351.8,272.98 L374.6,272.98 L379.6,274.58 Q373.6,276.78 363.2,276.58 Q352.8,276.78 346.8,274.58 Z" stroke="#000" stroke-width="0" fill="#fff" stroke="none"/>
<rect x="350.8" y="278.17" width="24.8" height="1.5" stroke="#000" stroke-width="0" fill="#9a9a9a" stroke="none"/>
<path d="M346.8,282.36 L351.8,280.76 L374.6,280.76 L379.6,282.36 Q373.6,284.56 363.2,284.36 Q352.8,284.56 346.8,282.36 Z" stroke="#000" stroke-width="0" fill="#fff" stroke="none"/>
<rect x="350.8" y="285.95" width="24.8" height="1.5" stroke="#000" stroke-width="0" fill="#9a9a9a" stroke="none"/>
<path d="M346.8,290.14 L351.8,288.54 L374.6,288.54 L379.6,290.14 Q373.6,292.34 363.2,292.14 Q352.8,292.34 346.8,290.14 Z" stroke="#000" stroke-width="0" fill="#fff" stroke="none"/>
<rect x="350.8" y="293.73" width="24.8" height="1.5" stroke="#000" stroke-width="0" fill="#9a9a9a" stroke="none"/>
<path d="M346.8,297.92 L351.8,296.32 L374.6,296.32 L379.6,297.92 Q373.6,300.12 363.2,299.92 Q352.8,300.12 346.8,297.92 Z" stroke="#000" stroke-width="0" fill="#fff" stroke="none"/>
<rect x="350.8" y="301.51" width="24.8" height="1.5" stroke="#000" stroke-width="0" fill="#9a9a9a" stroke="none"/>
<path d="M346.8,305.7 L351.8,304.1 L374.6,304.1 L379.6,305.7 Q373.6,307.9 363.2,307.7 Q352.8,307.9 346.8,305.7 Z" stroke="#000" stroke-width="0" fill="#fff" stroke="none"/>
<rect x="350.8" y="309.29" width="24.8" height="1.5" stroke="#000" stroke-width="0" fill="#9a9a9a" stroke="none"/>
<path d="M346.8,313.48 L351.8,311.88 L374.6,311.88 L379.6,313.48 Q373.6,315.68 363.2,315.48 Q352.8,315.68 346.8,313.48 Z" stroke="#000" stroke-width="0" fill="#fff" stroke="none"/>
<rect x="350.8" y="317.07" width="24.8" height="1.5" stroke="#000" stroke-width="0" fill="#9a9a9a" stroke="none"/>
<path d="M346.8,321.26 L351.8,319.66 L374.6,319.66 L379.6,321.26 Q373.6,323.46 363.2,323.26 Q352.8,323.46 346.8,321.26 Z" stroke="#000" stroke-width="0" fill="#fff" stroke="none"/>
<rect x="350.8" y="324.85" width="24.8" height="1.5" stroke="#000" stroke-width="0" fill="#9a9a9a" stroke="none"/>
<path d="M346.8,329.04 L351.8,327.44 L374.6,327.44 L379.6,329.04 Q373.6,331.24 363.2,331.04 Q352.8,331.24 346.8,329.04 Z" stroke="#000" stroke-width="0" fill="#fff" stroke="none"/>
<rect x="350.8" y="332.63" width="24.8" height="1.5" stroke="#000" stroke-width="0" fill="#9a9a9a" stroke="none"/>
<path d="M346.8,336.82 L351.8,335.22 L374.6,335.22 L379.6,336.82 Q373.6,339.02 363.2,338.82 Q352.8,339.02 346.8,336.82 Z" stroke="#000" stroke-width="0" fill="#fff" stroke="none"/>
<rect x="350.8" y="340.41" width="24.8" height="1.5" stroke="#000" stroke-width="0" fill="#9a9a9a" stroke="none"/>
<path d="M346.8,344.6 L351.8,343 L374.6,343 L379.6,344.6 Q373.6,346.8 363.2,346.6 Q352.8,346.8 346.8,344.6 Z" stroke="#000" stroke-width="0" fill="#fff" stroke="none"/>
<rect x="350.8" y="348.19" width="24.8" height="1.5" stroke="#000" stroke-width="0" fill="#9a9a9a" stroke="none"/>
<path d="M346.8,352.38 L351.8,350.78 L374.6,350.78 L379.6,352.38 Q373.6,354.58 363.2,354.38 Q352.8,354.58 346.8,352.38 Z" stroke="#000" stroke-width="0" fill="#fff" stroke="none"/>
<rect x="350.8" y="355.97" width="24.8" height="1.5" stroke="#000" stroke-width="0" fill="#9a9a9a" stroke="none"/>
<path d="M346.8,360.16 L351.8,358.56 L374.6,358.56 L379.6,360.16 Q373.6,362.36 363.2,362.16 Q352.8,362.36 346.8,360.16 Z" stroke="#000" stroke-width="0" fill="#fff" stroke="none"/>
<rect x="350.8" y="363.75" width="24.8" height="1.5" stroke="#000" stroke-width="0" fill="#9a9a9a" stroke="none"/>
<path d="M346.8,367.94 L351.8,366.34 L374.6,366.34 L379.6,367.94 Q373.6,370.14 363.2,369.94 Q352.8,370.14 346.8,367.94 Z" stroke="#000" stroke-width="0" fill="#fff" stroke="none"/>
<rect x="350.8" y="371.53" width="24.8" height="1.5" stroke="#000" stroke-width="0" fill="#9a9a9a" stroke="none"/>
<path d="M346.8,375.72 L351.8,374.12 L374.6,374.12 L379.6,375.72 Q373.6,377.92 363.2,377.72 Q352.8,377.92 346.8,375.72 Z" stroke="#000" stroke-width="0" fill="#fff" stroke="none"/>
<rect x="350.8" y="379.31" width="24.8" height="1.5" stroke="#000" stroke-width="0" fill="#9a9a9a" stroke="none"/>
<path d="M346.8,383.5 L351.8,381.9 L374.6,381.9 L379.6,383.5 Q373.6,385.7 363.2,385.5 Q352.8,385.7 346.8,383.5 Z" stroke="#000" stroke-width="0" fill="#fff" stroke="none"/>
<rect x="350.8" y="387.09" width="24.8" height="1.5" stroke="#000" stroke-width="0" fill="#9a9a9a" stroke="none"/>
<path d="M346.8,391.28 L351.8,389.68 L374.6,389.68 L379.6,391.28 Q373.6,393.48 363.2,393.28 Q352.8,393.48 346.8,391.28 Z" stroke="#000" stroke-width="0" fill="#fff" stroke="none"/>
<rect x="350.8" y="394.87" width="24.8" height="1.5" stroke="#000" stroke-width="0" fill="#9a9a9a" stroke="none"/>
<path d="M346.8,399.06 L351.8,397.46 L374.6,397.46 L379.6,399.06 Q373.6,401.26 363.2,401.06 Q352.8,401.26 346.8,399.06 Z" stroke="#000" stroke-width="0" fill="#fff" stroke="none"/>
<rect x="350.8" y="402.65" width="24.8" height="1.5" stroke="#000" stroke-width="0" fill="#9a9a9a" stroke="none"/>
<path d="M346.8,406.84 L351.8,405.24 L374.6,405.24 L379.6,406.84 Q373.6,409.04 363.2,408.84 Q352.8,409.04 346.8,406.84 Z" stroke="#000" stroke-width="0" fill="#fff" stroke="none"/>
<rect x="350.8" y="410.43" width="24.8" height="1.5" stroke="#000" stroke-width="0" fill="#9a9a9a" stroke="none"/>
<path d="M346.8,414.62 L351.8,413.02 L374.6,413.02 L379.6,414.62 Q373.6,416.82 363.2,416.62 Q352.8,416.82 346.8,414.62 Z" stroke="#000" stroke-width="0" fill="#fff" stroke="none"/>
<rect x="350.8" y="418.21" width="24.8" height="1.5" stroke="#000" stroke-width="0" fill="#9a9a9a" stroke="none"/>
<path d="M346.8,422.4 L351.8,420.8 L374.6,420.8 L379.6,422.4 Q373.6,424.6 363.2,424.4 Q352.8,424.6 346.8,422.4 Z" stroke="#000" stroke-width="0" fill="#fff" stroke="none"/>
<rect x="350.8" y="425.99" width="24.8" height="1.5" stroke="#000" stroke-width="0" fill="#9a9a9a" stroke="none"/>
<path d="M346.8,430.18 L351.8,428.58 L374.6,428.58 L379.6,430.18 Q373.6,432.38 363.2,432.18 Q352.8,432.38 346.8,430.18 Z" stroke="#000" stroke-width="0" fill="#fff" stroke="none"/>
<rect x="350.8" y="433.77" width="24.8" height="1.5" stroke="#000" stroke-width="0" fill="#9a9a9a" stroke="none"/>
<path d="M346.8,437.96 L351.8,436.36 L374.6,436.36 L379.6,437.96 Q373.6,440.16 363.2,439.96 Q352.8,440.16 346.8,437.96 Z" stroke="#000" stroke-width="0" fill="#fff" stroke="none"/>
<rect x="350.8" y="441.55" width="24.8" height="1.5" stroke="#000" stroke-width="0" fill="#9a9a9a" stroke="none"/>
<path d="M346.8,445.74 L351.8,444.14 L374.6,444.14 L379.6,445.74 Q373.6,447.94 363.2,447.74 Q352.8,447.94 346.8,445.74 Z" stroke="#000" stroke-width="0" fill="#fff" stroke="none"/>
<rect x="350.8" y="449.33" width="24.8" height="1.5" stroke="#000" stroke-width="0" fill="#9a9a9a" stroke="none"/>
<path d="M346.8,453.52 L351.8,451.92 L374.6,451.92 L379.6,453.52 Q373.6,455.72 363.2,455.52 Q352.8,455.72 346.8,453.52 Z" stroke="#000" stroke-width="0" fill="#fff" stroke="none"/>
<rect x="350.8" y="457.11" width="24.8" height="1.5" stroke="#000" stroke-width="0" fill="#9a9a9a" stroke="none"/>
<path d="M346.8,461.3 L351.8,459.7 L374.6,459.7 L379.6,461.3 Q373.6,463.5 363.2,463.3 Q352.8,463.5 346.8,461.3 Z" stroke="#000" stroke-width="0" fill="#fff" stroke="none"/>
<rect x="350.8" y="464.89" width="24.8" height="1.5" stroke="#000" stroke-width="0" fill="#9a9a9a" stroke="none"/>
<path d="M346.8,469.08 L351.8,467.48 L374.6,467.48 L379.6,469.08 Q373.6,471.28 363.2,471.08 Q352.8,471.28 346.8,469.08 Z" stroke="#000" stroke-width="0" fill="#fff" stroke="none"/>
<rect x="350.8" y="472.67" width="24.8" height="1.5" stroke="#000" stroke-width="0" fill="#9a9a9a" stroke="none"/>
<path d="M346.8,476.86 L351.8,475.26 L374.6,475.26 L379.6,476.86 Q373.6,479.06 363.2,478.86 Q352.8,479.06 346.8,476.86 Z" stroke="#000" stroke-width="0" fill="#fff" stroke="none"/>
<rect x="350.8" y="480.45" width="24.8" height="1.5" stroke="#000" stroke-width="0" fill="#9a9a9a" stroke="none"/>
<path d="M346.8,484.64 L351.8,483.04 L374.6,483.04 L379.6,484.64 Q373.6,486.84 363.2,486.64 Q352.8,486.84 346.8,484.64 Z" stroke="#000" stroke-width="0" fill="#fff" stroke="none"/>
<rect x="350.8" y="488.23" width="24.8" height="1.5" stroke="#000" stroke-width="0" fill="#9a9a9a" stroke="none"/>
<path d="M346.8,492.42 L351.8,490.82 L374.6,490.82 L379.6,492.42 Q373.6,494.62 363.2,494.42 Q352.8,494.62 346.8,492.42 Z" stroke="#000" stroke-width="0" fill="#fff" stroke="none"/>
<rect x="350.8" y="496.01" width="24.8" height="1.5" stroke="#000" stroke-width="0" fill="#9a9a9a" stroke="none"/>
<path d="M346.8,500.2 L351.8,498.6 L374.6,498.6 L379.6,500.2 Q373.6,502.4 363.2,502.2 Q352.8,502.4 346.8,500.2 Z" stroke="#000" stroke-width="0" fill="#fff" stroke="none"/>
<rect x="350.8" y="503.79" width="24.8" height="1.5" stroke="#000" stroke-width="0" fill="#9a9a9a" stroke="none"/>
<clipPath id="hubL"><circle cx="242.4" cy="383.5" r="40.5"/></clipPath>
<g clip-path="url(#hubL)">
<rect x="201.2" y="341.3" width="84" height="84" stroke="#000" stroke-width="0" fill="#111"/>
<polygon points="166.1,329.04 171.6,326.44 192.4,326.44 197.9,329.04 192.4,331.74 171.6,331.74" stroke="#000" stroke-width="0" fill="#fff" stroke="none"/>
<polygon points="166.1,336.82 171.6,334.22 192.4,334.22 197.9,336.82 192.4,339.52 171.6,339.52" stroke="#000" stroke-width="0" fill="#fff" stroke="none"/>
<polygon points="166.1,344.6 171.6,342 192.4,342 197.9,344.6 192.4,347.3 171.6,347.3" stroke="#000" stroke-width="0" fill="#fff" stroke="none"/>
<polygon points="166.1,352.38 171.6,349.78 192.4,349.78 197.9,352.38 192.4,355.08 171.6,355.08" stroke="#000" stroke-width="0" fill="#fff" stroke="none"/>
<polygon points="166.1,360.16 171.6,357.56 192.4,357.56 197.9,360.16 192.4,362.86 171.6,362.86" stroke="#000" stroke-width="0" fill="#fff" stroke="none"/>
<polygon points="166.1,367.94 171.6,365.34 192.4,365.34 197.9,367.94 192.4,370.64 171.6,370.64" stroke="#000" stroke-width="0" fill="#fff" stroke="none"/>
<polygon points="166.1,375.72 171.6,373.12 192.4,373.12 197.9,375.72 192.4,378.42 171.6,378.42" stroke="#000" stroke-width="0" fill="#fff" stroke="none"/>
<polygon points="166.1,383.5 171.6,380.9 192.4,380.9 197.9,383.5 192.4,386.2 171.6,386.2" stroke="#000" stroke-width="0" fill="#fff" stroke="none"/>
<polygon points="166.1,391.28 171.6,388.68 192.4,388.68 197.9,391.28 192.4,393.98 171.6,393.98" stroke="#000" stroke-width="0" fill="#fff" stroke="none"/>
<polygon points="166.1,399.06 171.6,396.46 192.4,396.46 197.9,399.06 192.4,401.76 171.6,401.76" stroke="#000" stroke-width="0" fill="#fff" stroke="none"/>
<polygon points="166.1,406.84 171.6,404.24 192.4,404.24 197.9,406.84 192.4,409.54 171.6,409.54" stroke="#000" stroke-width="0" fill="#fff" stroke="none"/>
<polygon points="166.1,414.62 171.6,412.02 192.4,412.02 197.9,414.62 192.4,417.32 171.6,417.32" stroke="#000" stroke-width="0" fill="#fff" stroke="none"/>
<polygon points="166.1,422.4 171.6,419.8 192.4,419.8 197.9,422.4 192.4,425.1 171.6,425.1" stroke="#000" stroke-width="0" fill="#fff" stroke="none"/>
<polygon points="166.1,430.18 171.6,427.58 192.4,427.58 197.9,430.18 192.4,432.88 171.6,432.88" stroke="#000" stroke-width="0" fill="#fff" stroke="none"/>
<polygon points="166.1,437.96 171.6,435.36 192.4,435.36 197.9,437.96 192.4,440.66 171.6,440.66" stroke="#000" stroke-width="0" fill="#fff" stroke="none"/>
<polygon points="196.3,332.93 201.8,330.33 222.6,330.33 228.1,332.93 222.6,335.63 201.8,335.63" stroke="#000" stroke-width="0" fill="#fff" stroke="none"/>
<polygon points="196.3,340.71 201.8,338.11 222.6,338.11 228.1,340.71 222.6,343.41 201.8,343.41" stroke="#000" stroke-width="0" fill="#fff" stroke="none"/>
<polygon points="196.3,348.49 201.8,345.89 222.6,345.89 228.1,348.49 222.6,351.19 201.8,351.19" stroke="#000" stroke-width="0" fill="#fff" stroke="none"/>
<polygon points="196.3,356.27 201.8,353.67 222.6,353.67 228.1,356.27 222.6,358.97 201.8,358.97" stroke="#000" stroke-width="0" fill="#fff" stroke="none"/>
<polygon points="196.3,364.05 201.8,361.45 222.6,361.45 228.1,364.05 222.6,366.75 201.8,366.75" stroke="#000" stroke-width="0" fill="#fff" stroke="none"/>
<polygon points="196.3,371.83 201.8,369.23 222.6,369.23 228.1,371.83 222.6,374.53 201.8,374.53" stroke="#000" stroke-width="0" fill="#fff" stroke="none"/>
<polygon points="196.3,379.61 201.8,377.01 222.6,377.01 228.1,379.61 222.6,382.31 201.8,382.31" stroke="#000" stroke-width="0" fill="#fff" stroke="none"/>
<polygon points="196.3,387.39 201.8,384.79 222.6,384.79 228.1,387.39 222.6,390.09 201.8,390.09" stroke="#000" stroke-width="0" fill="#fff" stroke="none"/>
<polygon points="196.3,395.17 201.8,392.57 222.6,392.57 228.1,395.17 222.6,397.87 201.8,397.87" stroke="#000" stroke-width="0" fill="#fff" stroke="none"/>
<polygon points="196.3,402.95 201.8,400.35 222.6,400.35 228.1,402.95 222.6,405.65 201.8,405.65" stroke="#000" stroke-width="0" fill="#fff" stroke="none"/>
<polygon points="196.3,410.73 201.8,408.13 222.6,408.13 228.1,410.73 222.6,413.43 201.8,413.43" stroke="#000" stroke-width="0" fill="#fff" stroke="none"/>
<polygon points="196.3,418.51 201.8,415.91 222.6,415.91 228.1,418.51 222.6,421.21 201.8,421.21" stroke="#000" stroke-width="0" fill="#fff" stroke="none"/>
<polygon points="196.3,426.29 201.8,423.69 222.6,423.69 228.1,426.29 222.6,428.99 201.8,428.99" stroke="#000" stroke-width="0" fill="#fff" stroke="none"/>
<polygon points="196.3,434.07 201.8,431.47 222.6,431.47 228.1,434.07 222.6,436.77 201.8,436.77" stroke="#000" stroke-width="0" fill="#fff" stroke="none"/>
<polygon points="196.3,441.85 201.8,439.25 222.6,439.25 228.1,441.85 222.6,444.55 201.8,444.55" stroke="#000" stroke-width="0" fill="#fff" stroke="none"/>
<polygon points="226.5,329.04 232,326.44 252.8,326.44 258.3,329.04 252.8,331.74 232,331.74" stroke="#000" stroke-width="0" fill="#fff" stroke="none"/>
<polygon points="226.5,336.82 232,334.22 252.8,334.22 258.3,336.82 252.8,339.52 232,339.52" stroke="#000" stroke-width="0" fill="#fff" stroke="none"/>
<polygon points="226.5,344.6 232,342 252.8,342 258.3,344.6 252.8,347.3 232,347.3" stroke="#000" stroke-width="0" fill="#fff" stroke="none"/>
<polygon points="226.5,352.38 232,349.78 252.8,349.78 258.3,352.38 252.8,355.08 232,355.08" stroke="#000" stroke-width="0" fill="#fff" stroke="none"/>
<polygon points="226.5,360.16 232,357.56 252.8,357.56 258.3,360.16 252.8,362.86 232,362.86" stroke="#000" stroke-width="0" fill="#fff" stroke="none"/>
<polygon points="226.5,367.94 232,365.34 252.8,365.34 258.3,367.94 252.8,370.64 232,370.64" stroke="#000" stroke-width="0" fill="#fff" stroke="none"/>
<polygon points="226.5,375.72 232,373.12 252.8,373.12 258.3,375.72 252.8,378.42 232,378.42" stroke="#000" stroke-width="0" fill="#fff" stroke="none"/>
<polygon points="226.5,383.5 232,380.9 252.8,380.9 258.3,383.5 252.8,386.2 232,386.2" stroke="#000" stroke-width="0" fill="#fff" stroke="none"/>
<polygon points="226.5,391.28 232,388.68 252.8,388.68 258.3,391.28 252.8,393.98 232,393.98" stroke="#000" stroke-width="0" fill="#fff" stroke="none"/>
<polygon points="226.5,399.06 232,396.46 252.8,396.46 258.3,399.06 252.8,401.76 232,401.76" stroke="#000" stroke-width="0" fill="#fff" stroke="none"/>
<polygon points="226.5,406.84 232,404.24 252.8,404.24 258.3,406.84 252.8,409.54 232,409.54" stroke="#000" stroke-width="0" fill="#fff" stroke="none"/>
<polygon points="226.5,414.62 232,412.02 252.8,412.02 258.3,414.62 252.8,417.32 232,417.32" stroke="#000" stroke-width="0" fill="#fff" stroke="none"/>
<polygon points="226.5,422.4 232,419.8 252.8,419.8 258.3,422.4 252.8,425.1 232,425.1" stroke="#000" stroke-width="0" fill="#fff" stroke="none"/>
<polygon points="226.5,430.18 232,427.58 252.8,427.58 258.3,430.18 252.8,432.88 232,432.88" stroke="#000" stroke-width="0" fill="#fff" stroke="none"/>
<polygon points="226.5,437.96 232,435.36 252.8,435.36 258.3,437.96 252.8,440.66 232,440.66" stroke="#000" stroke-width="0" fill="#fff" stroke="none"/>
<polygon points="256.7,332.93 262.2,330.33 283,330.33 288.5,332.93 283,335.63 262.2,335.63" stroke="#000" stroke-width="0" fill="#fff" stroke="none"/>
<polygon points="256.7,340.71 262.2,338.11 283,338.11 288.5,340.71 283,343.41 262.2,343.41" stroke="#000" stroke-width="0" fill="#fff" stroke="none"/>
<polygon points="256.7,348.49 262.2,345.89 283,345.89 288.5,348.49 283,351.19 262.2,351.19" stroke="#000" stroke-width="0" fill="#fff" stroke="none"/>
<polygon points="256.7,356.27 262.2,353.67 283,353.67 288.5,356.27 283,358.97 262.2,358.97" stroke="#000" stroke-width="0" fill="#fff" stroke="none"/>
<polygon points="256.7,364.05 262.2,361.45 283,361.45 288.5,364.05 283,366.75 262.2,366.75" stroke="#000" stroke-width="0" fill="#fff" stroke="none"/>
<polygon points="256.7,371.83 262.2,369.23 283,369.23 288.5,371.83 283,374.53 262.2,374.53" stroke="#000" stroke-width="0" fill="#fff" stroke="none"/>
<polygon points="256.7,379.61 262.2,377.01 283,377.01 288.5,379.61 283,382.31 262.2,382.31" stroke="#000" stroke-width="0" fill="#fff" stroke="none"/>
<polygon points="256.7,387.39 262.2,384.79 283,384.79 288.5,387.39 283,390.09 262.2,390.09" stroke="#000" stroke-width="0" fill="#fff" stroke="none"/>
<polygon points="256.7,395.17 262.2,392.57 283,392.57 288.5,395.17 283,397.87 262.2,397.87" stroke="#000" stroke-width="0" fill="#fff" stroke="none"/>
<polygon points="256.7,402.95 262.2,400.35 283,400.35 288.5,402.95 283,405.65 262.2,405.65" stroke="#000" stroke-width="0" fill="#fff" stroke="none"/>
<polygon points="256.7,410.73 262.2,408.13 283,408.13 288.5,410.73 283,413.43 262.2,413.43" stroke="#000" stroke-width="0" fill="#fff" stroke="none"/>
<polygon points="256.7,418.51 262.2,415.91 283,415.91 288.5,418.51 283,421.21 262.2,421.21" stroke="#000" stroke-width="0" fill="#fff" stroke="none"/>
<polygon points="256.7,426.29 262.2,423.69 283,423.69 288.5,426.29 283,428.99 262.2,428.99" stroke="#000" stroke-width="0" fill="#fff" stroke="none"/>
<polygon points="256.7,434.07 262.2,431.47 283,431.47 288.5,434.07 283,436.77 262.2,436.77" stroke="#000" stroke-width="0" fill="#fff" stroke="none"/>
<polygon points="256.7,441.85 262.2,439.25 283,439.25 288.5,441.85 283,444.55 262.2,444.55" stroke="#000" stroke-width="0" fill="#fff" stroke="none"/>
<polygon points="286.9,329.04 292.4,326.44 313.2,326.44 318.7,329.04 313.2,331.74 292.4,331.74" stroke="#000" stroke-width="0" fill="#fff" stroke="none"/>
<polygon points="286.9,336.82 292.4,334.22 313.2,334.22 318.7,336.82 313.2,339.52 292.4,339.52" stroke="#000" stroke-width="0" fill="#fff" stroke="none"/>
<polygon points="286.9,344.6 292.4,342 313.2,342 318.7,344.6 313.2,347.3 292.4,347.3" stroke="#000" stroke-width="0" fill="#fff" stroke="none"/>
<polygon points="286.9,352.38 292.4,349.78 313.2,349.78 318.7,352.38 313.2,355.08 292.4,355.08" stroke="#000" stroke-width="0" fill="#fff" stroke="none"/>
<polygon points="286.9,360.16 292.4,357.56 313.2,357.56 318.7,360.16 313.2,362.86 292.4,362.86" stroke="#000" stroke-width="0" fill="#fff" stroke="none"/>
<polygon points="286.9,367.94 292.4,365.34 313.2,365.34 318.7,367.94 313.2,370.64 292.4,370.64" stroke="#000" stroke-width="0" fill="#fff" stroke="none"/>
<polygon points="286.9,375.72 292.4,373.12 313.2,373.12 318.7,375.72 313.2,378.42 292.4,378.42" stroke="#000" stroke-width="0" fill="#fff" stroke="none"/>
<polygon points="286.9,383.5 292.4,380.9 313.2,380.9 318.7,383.5 313.2,386.2 292.4,386.2" stroke="#000" stroke-width="0" fill="#fff" stroke="none"/>
<polygon points="286.9,391.28 292.4,388.68 313.2,388.68 318.7,391.28 313.2,393.98 292.4,393.98" stroke="#000" stroke-width="0" fill="#fff" stroke="none"/>
<polygon points="286.9,399.06 292.4,396.46 313.2,396.46 318.7,399.06 313.2,401.76 292.4,401.76" stroke="#000" stroke-width="0" fill="#fff" stroke="none"/>
<polygon points="286.9,406.84 292.4,404.24 313.2,404.24 318.7,406.84 313.2,409.54 292.4,409.54" stroke="#000" stroke-width="0" fill="#fff" stroke="none"/>
<polygon points="286.9,414.62 292.4,412.02 313.2,412.02 318.7,414.62 313.2,417.32 292.4,417.32" stroke="#000" stroke-width="0" fill="#fff" stroke="none"/>
<polygon points="286.9,422.4 292.4,419.8 313.2,419.8 318.7,422.4 313.2,425.1 292.4,425.1" stroke="#000" stroke-width="0" fill="#fff" stroke="none"/>
<polygon points="286.9,430.18 292.4,427.58 313.2,427.58 318.7,430.18 313.2,432.88 292.4,432.88" stroke="#000" stroke-width="0" fill="#fff" stroke="none"/>
<polygon points="286.9,437.96 292.4,435.36 313.2,435.36 318.7,437.96 313.2,440.66 292.4,440.66" stroke="#000" stroke-width="0" fill="#fff" stroke="none"/>
</g>
<rect x="231.2" y="382.5" width="22" height="2" rx="1" stroke="#000" stroke-width="0.8" fill="#888"/>
</g>
<path d="M341.7,383 L341.61,396.85 L341.34,404.97 L340.89,411.74 L340.25,417.74 L339.44,423.21 L338.44,428.25 L337.27,432.95 L335.91,437.35 L334.37,441.48 L332.65,445.37 L330.74,449.02 L328.66,452.47 L326.38,455.7 L323.92,458.74 L321.28,461.58 L318.44,464.22 L315.4,466.68 L312.17,468.96 L308.72,471.04 L305.07,472.95 L301.18,474.67 L297.05,476.21 L292.65,477.57 L287.95,478.74 L282.91,479.74 L277.44,480.55 L271.44,481.19 L264.67,481.64 L256.55,481.91 L242.7,482 L228.85,481.91 L220.73,481.64 L213.96,481.19 L207.96,480.55 L202.49,479.74 L197.45,478.74 L192.75,477.57 L188.35,476.21 L184.22,474.67 L180.33,472.95 L176.68,471.04 L173.23,468.96 L170,466.68 L166.96,464.22 L164.12,461.58 L161.48,458.74 L159.02,455.7 L156.74,452.47 L154.66,449.02 L152.75,445.37 L151.03,441.48 L149.49,437.35 L148.13,432.95 L146.96,428.25 L145.96,423.21 L145.15,417.74 L144.51,411.74 L144.06,404.97 L143.79,396.85 L143.7,383 L143.79,369.15 L144.06,361.03 L144.51,354.26 L145.15,348.26 L145.96,342.79 L146.96,337.75 L148.13,333.05 L149.49,328.65 L151.03,324.52 L152.75,320.63 L154.66,316.98 L156.74,313.53 L159.02,310.3 L161.48,307.26 L164.12,304.42 L166.96,301.78 L170,299.32 L173.23,297.04 L176.68,294.96 L180.33,293.05 L184.22,291.33 L188.35,289.79 L192.75,288.43 L197.45,287.26 L202.49,286.26 L207.96,285.45 L213.96,284.81 L220.73,284.36 L228.85,284.09 L242.7,284 L256.55,284.09 L264.67,284.36 L271.44,284.81 L277.44,285.45 L282.91,286.26 L287.95,287.26 L292.65,288.43 L297.05,289.79 L301.18,291.33 L305.07,293.05 L308.72,294.96 L312.17,297.04 L315.4,299.32 L318.44,301.78 L321.28,304.42 L323.92,307.26 L326.38,310.3 L328.66,313.53 L330.74,316.98 L332.65,320.63 L334.37,324.52 L335.91,328.65 L337.27,333.05 L338.44,337.75 L339.44,342.79 L340.25,348.26 L340.89,354.26 L341.34,361.03 L341.61,369.15Z" stroke="#000" stroke-width="1.6" fill="none"/>
<circle cx="242.4" cy="383.5" r="40.5" stroke="#111" stroke-width="1.8" fill="none"/>
<path d="M113,334.6 Q92,383.4 113,434.1" stroke="#000" stroke-width="1.3" fill="none"/>
<path d="M373.4,334.6 Q394.4,383.4 373.4,434.1" stroke="#000" stroke-width="1.3" fill="none"/>
<polyline points="129.9,287.8 112.9,287.8 112.9,477.4 140,477.4" stroke="#000" stroke-width="1.6" fill="none"/>
<line x1="112.9" y1="479.6" x2="138" y2="479.6" stroke="#000" stroke-width="0.9"/>
<polyline points="355.7,287.8 373.4,287.8 373.4,477.4 346,477.4" stroke="#000" stroke-width="1.6" fill="none"/>
<line x1="373.4" y1="479.6" x2="348" y2="479.6" stroke="#000" stroke-width="0.9"/>
<rect x="108.7" y="288.7" width="4.2" height="10" stroke="#000" stroke-width="1.1" fill="#fff"/>
<line x1="108.7" y1="292.1" x2="112.9" y2="292.1" stroke="#000" stroke-width="0.7"/>
<line x1="108.7" y1="295.3" x2="112.9" y2="295.3" stroke="#000" stroke-width="0.7"/>
<rect x="373.4" y="288.7" width="4.2" height="10" stroke="#000" stroke-width="1.1" fill="#fff"/>
<line x1="373.4" y1="292.1" x2="377.6" y2="292.1" stroke="#000" stroke-width="0.7"/>
<line x1="373.4" y1="295.3" x2="377.6" y2="295.3" stroke="#000" stroke-width="0.7"/>
<rect x="108.7" y="378.3" width="4.2" height="10" stroke="#000" stroke-width="1.1" fill="#fff"/>
<line x1="108.7" y1="381.7" x2="112.9" y2="381.7" stroke="#000" stroke-width="0.7"/>
<line x1="108.7" y1="384.9" x2="112.9" y2="384.9" stroke="#000" stroke-width="0.7"/>
<rect x="373.4" y="378.3" width="4.2" height="10" stroke="#000" stroke-width="1.1" fill="#fff"/>
<line x1="373.4" y1="381.7" x2="377.6" y2="381.7" stroke="#000" stroke-width="0.7"/>
<line x1="373.4" y1="384.9" x2="377.6" y2="384.9" stroke="#000" stroke-width="0.7"/>
<rect x="108.7" y="468.2" width="4.2" height="10" stroke="#000" stroke-width="1.1" fill="#fff"/>
<line x1="108.7" y1="471.6" x2="112.9" y2="471.6" stroke="#000" stroke-width="0.7"/>
<line x1="108.7" y1="474.8" x2="112.9" y2="474.8" stroke="#000" stroke-width="0.7"/>
<rect x="373.4" y="468.2" width="4.2" height="10" stroke="#000" stroke-width="1.1" fill="#fff"/>
<line x1="373.4" y1="471.6" x2="377.6" y2="471.6" stroke="#000" stroke-width="0.7"/>
<line x1="373.4" y1="474.8" x2="377.6" y2="474.8" stroke="#000" stroke-width="0.7"/>
<path d="M142,315 L136,315 Q129.9,315 129.9,309 L129.9,162.5 Q129.9,155 137.4,155 L240.4,152 M247.5,152 L348.2,155 Q355.7,155 355.7,162.5 L355.7,309 Q355.7,315 349.6,315 L344,315" stroke="#000" stroke-width="1.8" fill="none"/>
<line x1="137.3" y1="158" x2="137.3" y2="315" stroke="#000" stroke-width="0.9"/>
<line x1="349.2" y1="158" x2="349.2" y2="315" stroke="#000" stroke-width="0.9"/>
<line x1="129.9" y1="167" x2="355.7" y2="167" stroke="#000" stroke-width="1"/>
<path d="M130.8,178.3 L228.8,183.2 A3.6,3.6 0 0 1 228.8,190.4 L130.8,195.2" stroke="#000" stroke-width="1.7" fill="none"/>
<line x1="132" y1="181.2" x2="228.5" y2="185.2" stroke="#000" stroke-width="0.8"/>
<line x1="132" y1="192.4" x2="228.5" y2="188.6" stroke="#000" stroke-width="0.8"/>
<path d="M355.6,178.3 L257.6,183.2 A3.6,3.6 0 0 0 257.6,190.4 L355.6,195.2" stroke="#000" stroke-width="1.7" fill="none"/>
<line x1="354.4" y1="181.2" x2="257.9" y2="185.2" stroke="#000" stroke-width="0.8"/>
<line x1="354.4" y1="192.4" x2="257.9" y2="188.6" stroke="#000" stroke-width="0.8"/>
<rect x="125.7" y="173" width="4.2" height="10" stroke="#000" stroke-width="1.1" fill="#fff"/>
<line x1="125.7" y1="176.4" x2="129.9" y2="176.4" stroke="#000" stroke-width="0.7"/>
<line x1="125.7" y1="179.6" x2="129.9" y2="179.6" stroke="#000" stroke-width="0.7"/>
<rect x="125.7" y="189" width="4.2" height="10" stroke="#000" stroke-width="1.1" fill="#fff"/>
<line x1="125.7" y1="192.4" x2="129.9" y2="192.4" stroke="#000" stroke-width="0.7"/>
<line x1="125.7" y1="195.6" x2="129.9" y2="195.6" stroke="#000" stroke-width="0.7"/>
<rect x="125.7" y="252.6" width="4.2" height="10" stroke="#000" stroke-width="1.1" fill="#fff"/>
<line x1="125.7" y1="256" x2="129.9" y2="256" stroke="#000" stroke-width="0.7"/>
<line x1="125.7" y1="259.2" x2="129.9" y2="259.2" stroke="#000" stroke-width="0.7"/>
<rect x="125.7" y="274" width="4.2" height="10" stroke="#000" stroke-width="1.1" fill="#fff"/>
<line x1="125.7" y1="277.4" x2="129.9" y2="277.4" stroke="#000" stroke-width="0.7"/>
<line x1="125.7" y1="280.6" x2="129.9" y2="280.6" stroke="#000" stroke-width="0.7"/>
<rect x="240.4" y="148.4" width="7.1" height="113" stroke="#000" stroke-width="1.4" fill="#fff"/>
<line x1="243.9" y1="150" x2="243.9" y2="260" stroke="#000" stroke-width="0.8"/>
<circle cx="184.4" cy="215.6" r="18.7" stroke="#000" stroke-width="2" fill="none"/>
<circle cx="184.4" cy="215.6" r="1" fill="#000"/>
<circle cx="301" cy="215.6" r="18.7" stroke="#000" stroke-width="2" fill="none"/>
<circle cx="301" cy="215.6" r="5.6" fill="#000"/>
<circle cx="182.1" cy="166.5" r="5.6" fill="#000"/>
<path d="M219.5,263.2 L232,234 Q243.2,218 254.4,234 L266.9,263.2" stroke="#000" stroke-width="1.6" fill="#fff"/>
<path d="M222.5,263 L234,236 Q243.2,222 252.4,236 L263.9,263" stroke="#000" stroke-width="0.8" fill="none"/>
<rect x="234.4" y="230.5" width="17.7" height="30.8" rx="8.8" stroke="#000" stroke-width="1.8" fill="#fff"/>
<line x1="240.4" y1="232" x2="240.4" y2="260" stroke="#000" stroke-width="0.9"/>
<line x1="247.5" y1="232" x2="247.5" y2="260" stroke="#000" stroke-width="0.9"/>
<circle cx="243.2" cy="383.3" r="121.5" stroke="#000" stroke-width="2.6" fill="none"/>
<circle cx="243.2" cy="383.3" r="117.2" stroke="#000" stroke-width="1" fill="none"/>
<rect x="236.1" y="267.7" width="13.4" height="13.4" stroke="#666" stroke-width="0.6" fill="none"/>
<circle cx="242.8" cy="274.4" r="3.6" stroke="#000" stroke-width="3" fill="none"/>
<rect x="126.7" y="376.6" width="13.4" height="13.4" stroke="#666" stroke-width="0.6" fill="none"/>
<circle cx="133.4" cy="383.3" r="3.6" stroke="#000" stroke-width="3" fill="none"/>
<rect x="346.3" y="376.6" width="13.4" height="13.4" stroke="#666" stroke-width="0.6" fill="none"/>
<circle cx="353" cy="383.3" r="3.6" stroke="#000" stroke-width="3" fill="none"/>
<rect x="235.5" y="485.3" width="13.4" height="13.4" stroke="#666" stroke-width="0.6" fill="none"/>
<circle cx="242.2" cy="492" r="3.6" stroke="#000" stroke-width="3" fill="none"/>
<polyline points="177.2,490.3 173.7,509.3 126,509.3 142.5,459 147,456" stroke="#000" stroke-width="1.6" fill="#fff"/>
<polyline points="308.5,490.3 311.7,509.3 359.2,509.3 341.3,459 337,456" stroke="#000" stroke-width="1.6" fill="#fff"/>
<line x1="128" y1="502" x2="173.5" y2="502" stroke="#000" stroke-width="0.9"/>
<line x1="313" y1="502" x2="357" y2="502" stroke="#000" stroke-width="0.9"/>
<path d="M177.2,490.3 Q243.2,556 308.5,490.3" stroke="#000" stroke-width="1.8" fill="none"/>
<path d="M172,478 Q243.2,535 314,478" stroke="#000" stroke-width="0.9" fill="none"/>
<rect x="215.3" y="512" width="55.5" height="8" rx="3" stroke="#000" stroke-width="1.3" fill="none"/>
<circle cx="192.8" cy="504.1" r="4" stroke="#000" stroke-width="1.3" fill="none"/>
<circle cx="292.5" cy="504.1" r="4" stroke="#000" stroke-width="1.3" fill="none"/>
<rect x="132" y="505.9" width="26" height="3.5" stroke="#000" stroke-width="0.7" fill="#888"/>
<path d="M134,497.5 Q145,494 156,499" stroke="#000" stroke-width="0.9" fill="none"/>
<rect x="328.5" y="505.9" width="26" height="3.5" stroke="#000" stroke-width="0.7" fill="#888"/>
<path d="M330.5,497.5 Q341.5,494 352.5,499" stroke="#000" stroke-width="0.9" fill="none"/>
<circle cx="142.5" cy="490.3" r="4.2" stroke="#000" stroke-width="1.2" fill="#222"/>
<circle cx="156.4" cy="489.4" r="5" stroke="#000" stroke-width="1.1" fill="none"/>
<line x1="156.4" y1="484.5" x2="156.4" y2="489.4" stroke="#000" stroke-width="1"/>
<line x1="156.4" y1="489.4" x2="160.5" y2="491.5" stroke="#000" stroke-width="1"/>
<circle cx="342.7" cy="489.4" r="2.8" stroke="#000" stroke-width="1.1" fill="none"/>
<circle cx="185.9" cy="480.7" r="4" stroke="#000" stroke-width="1.3" fill="none"/>
<line x1="243.2" y1="140" x2="243.2" y2="560" stroke="#000" stroke-width="0.8" stroke-dasharray="19,3,2,3"/>
<line x1="84" y1="383.3" x2="425" y2="383.3" stroke="#000" stroke-width="0.8" stroke-dasharray="19,3,2,3"/>
<line x1="285" y1="215.6" x2="422" y2="215.6" stroke="#000" stroke-width="0.8"/>
<line x1="301" y1="195" x2="301" y2="240.8" stroke="#000" stroke-width="0.8"/>
<line x1="124.3" y1="88" x2="124.3" y2="252" stroke="#000" stroke-width="0.9"/>
<line x1="356.5" y1="88" x2="356.5" y2="160" stroke="#000" stroke-width="0.9"/>
<line x1="243.2" y1="88" x2="243.2" y2="148" stroke="#000" stroke-width="0.9"/>
<line x1="300.9" y1="118" x2="300.9" y2="196" stroke="#000" stroke-width="0.9"/>
<line x1="124.3" y1="98.4" x2="243.2" y2="98.4" stroke="#000" stroke-width="1"/>
<polygon points="124.3,98.4 135.8,96.65 135.8,100.15" fill="#000"/>
<polygon points="243.2,98.4 231.7,100.15 231.7,96.65" fill="#000"/>
<line x1="243.2" y1="98.4" x2="356.5" y2="98.4" stroke="#000" stroke-width="1"/>
<polygon points="243.2,98.4 254.7,96.65 254.7,100.15" fill="#000"/>
<polygon points="356.5,98.4 345,100.15 345,96.65" fill="#000"/>
<text x="178" y="90.8" font-family="Liberation Sans" font-size="17" text-anchor="middle" fill="#000" stroke="#000" stroke-width="0.3">150.9</text>
<text x="299.7" y="90.8" font-family="Liberation Sans" font-size="17" text-anchor="middle" fill="#000" stroke="#000" stroke-width="0.3">144.2</text>
<line x1="243.2" y1="127.8" x2="300.9" y2="127.8" stroke="#000" stroke-width="1"/>
<polygon points="243.2,127.8 254.7,126.05 254.7,129.55" fill="#000"/>
<polygon points="300.9,127.8 289.4,129.55 289.4,126.05" fill="#000"/>
<text x="272" y="121" font-family="Liberation Sans" font-size="17" text-anchor="middle" fill="#000" stroke="#000" stroke-width="0.3">74.2</text>
<line x1="68.4" y1="222.1" x2="240" y2="222.1" stroke="#000" stroke-width="0.9"/>
<line x1="68.4" y1="508.8" x2="125" y2="508.8" stroke="#000" stroke-width="0.9"/>
<line x1="76" y1="222.1" x2="76" y2="508.8" stroke="#000" stroke-width="1"/>
<polygon points="76,222.1 77.75,233.6 74.25,233.6" fill="#000"/>
<polygon points="76,508.8 74.25,497.3 77.75,497.3" fill="#000"/>
<text x="67.5" y="361.4" font-family="Liberation Sans" font-size="17" text-anchor="middle" fill="#000" stroke="#000" stroke-width="0.3" transform="rotate(-90 67.5 361.4)">364.5</text>
<line x1="360" y1="383.3" x2="422" y2="383.3" stroke="#000" stroke-width="0.9"/>
<line x1="414.8" y1="215.6" x2="414.8" y2="383.3" stroke="#000" stroke-width="1"/>
<polygon points="414.8,215.6 416.55,227.1 413.05,227.1" fill="#000"/>
<polygon points="414.8,383.3 413.05,371.8 416.55,371.8" fill="#000"/>
<text x="408" y="305.4" font-family="Liberation Sans" font-size="17" text-anchor="middle" fill="#000" stroke="#000" stroke-width="0.3" transform="rotate(-90 408 305.4)">214.3</text>
<line x1="359.2" y1="505.3" x2="421.1" y2="505.3" stroke="#000" stroke-width="0.9"/>
<line x1="359.2" y1="509.8" x2="421.1" y2="509.8" stroke="#000" stroke-width="0.9"/>
<line x1="413.3" y1="470.7" x2="413.3" y2="533.2" stroke="#000" stroke-width="0.9"/>
<polygon points="413.3,505.3 411.55,493.8 415.05,493.8" fill="#000"/>
<polygon points="413.3,509.8 415.05,521.3 411.55,521.3" fill="#000"/>
<text x="405.5" y="474.6" font-family="Liberation Sans" font-size="17" text-anchor="middle" fill="#000" stroke="#000" stroke-width="0.3" transform="rotate(-90 405.5 474.6)">5</text>
<line x1="108.5" y1="482" x2="108.5" y2="662" stroke="#000" stroke-width="0.9"/>
<line x1="126.4" y1="513" x2="126.4" y2="636" stroke="#000" stroke-width="0.9"/>
<line x1="143.2" y1="513" x2="143.2" y2="608" stroke="#000" stroke-width="0.9"/>
<line x1="342.6" y1="513" x2="342.6" y2="608" stroke="#000" stroke-width="0.9"/>
<line x1="358.8" y1="513" x2="358.8" y2="636" stroke="#000" stroke-width="0.9"/>
<line x1="377" y1="482" x2="377" y2="662" stroke="#000" stroke-width="0.9"/>
<line x1="336.8" y1="513" x2="336.8" y2="548" stroke="#000" stroke-width="0.9"/>
<line x1="348" y1="513" x2="348" y2="548" stroke="#000" stroke-width="0.9"/>
<line x1="143.2" y1="570.2" x2="342.6" y2="570.2" stroke="#000" stroke-width="0.9"/>
<polygon points="143.2,570.2 154.7,568.45 154.7,571.95" fill="#000"/>
<polygon points="242,570.2 230.5,571.95 230.5,568.45" fill="#000"/>
<polygon points="244.4,570.2 255.9,568.45 255.9,571.95" fill="#000"/>
<polygon points="342.6,570.2 331.1,571.95 331.1,568.45" fill="#000"/>
<text x="194" y="562" font-family="Liberation Sans" font-size="15" text-anchor="middle" fill="#000" stroke="#000" stroke-width="0.3">=</text>
<text x="293" y="562" font-family="Liberation Sans" font-size="15" text-anchor="middle" fill="#000" stroke="#000" stroke-width="0.3">=</text>
<line x1="143.2" y1="600.2" x2="342.6" y2="600.2" stroke="#000" stroke-width="1"/>
<polygon points="143.2,600.2 154.7,598.45 154.7,601.95" fill="#000"/>
<polygon points="342.6,600.2 331.1,601.95 331.1,598.45" fill="#000"/>
<text x="238" y="592.6" font-family="Liberation Sans" font-size="17" text-anchor="middle" fill="#000" stroke="#000" stroke-width="0.3">254</text>
<text x="262" y="592" font-family="Liberation Sans" font-size="11" text-anchor="middle" fill="#000" stroke="#000" stroke-width="0.3">±1</text>
<line x1="126.4" y1="628.5" x2="358.8" y2="628.5" stroke="#000" stroke-width="1"/>
<polygon points="126.4,628.5 137.9,626.75 137.9,630.25" fill="#000"/>
<polygon points="358.8,628.5 347.3,630.25 347.3,626.75" fill="#000"/>
<text x="241" y="620.6" font-family="Liberation Sans" font-size="17" text-anchor="middle" fill="#000" stroke="#000" stroke-width="0.3">296</text>
<line x1="108.5" y1="654.2" x2="377" y2="654.2" stroke="#000" stroke-width="1"/>
<polygon points="108.5,654.2 120,652.45 120,655.95" fill="#000"/>
<polygon points="377,654.2 365.5,655.95 365.5,652.45" fill="#000"/>
<text x="241" y="646" font-family="Liberation Sans" font-size="17" text-anchor="middle" fill="#000" stroke="#000" stroke-width="0.3">341.6</text>
<line x1="263.6" y1="542.2" x2="371.5" y2="542.2" stroke="#000" stroke-width="0.9"/>
<polygon points="336.8,542.2 325.3,543.95 325.3,540.45" fill="#000"/>
<polygon points="348,542.2 359.5,540.45 359.5,543.95" fill="#000"/>
<text x="263.6" y="534.4" font-family="Liberation Sans" font-size="16" text-anchor="start" fill="#000" stroke="#000" stroke-width="0.3" xml:space="preserve">14.5  n.2</text>
<polyline points="106,135 150.2,135 182.1,166.5" stroke="#000" stroke-width="0.9" fill="none"/>
<circle cx="85.8" cy="135" r="19.6" stroke="#000" stroke-width="1" fill="#fff"/>
<text x="85.8" y="141" font-family="Liberation Sans" font-size="17" text-anchor="middle" fill="#000" stroke="#000" stroke-width="0.3">1</text>
<polyline points="373,173.5 343.4,173.5 301,215.6" stroke="#000" stroke-width="0.9" fill="none"/>
<circle cx="392.9" cy="173.5" r="19.6" stroke="#000" stroke-width="1" fill="#fff"/>
<text x="392.9" y="179.5" font-family="Liberation Sans" font-size="17" text-anchor="middle" fill="#000" stroke="#000" stroke-width="0.3">3</text>
<circle cx="49.4" cy="548.6" r="19.6" stroke="#000" stroke-width="1" fill="#fff"/>
<text x="49.4" y="554.6" font-family="Liberation Sans" font-size="17" text-anchor="middle" fill="#000" stroke="#000" stroke-width="0.3">4</text>
<line x1="679" y1="261.7" x2="710.7" y2="261.7" stroke="#000" stroke-width="1.6"/>
<line x1="897.3" y1="261.7" x2="904.5" y2="261.7" stroke="#000" stroke-width="1.6"/>
<line x1="679" y1="505" x2="778.5" y2="505" stroke="#000" stroke-width="1.6"/>
<line x1="679" y1="261.7" x2="679" y2="505" stroke="#000" stroke-width="1.4"/>
<line x1="897.5" y1="261.7" x2="897.5" y2="505" stroke="#000" stroke-width="1.8"/>
<rect x="679" y="435" width="218.5" height="7.3" stroke="#000" stroke-width="1" fill="#9a9a9a"/>
<line x1="680" y1="435.5" x2="680" y2="442" stroke="#333" stroke-width="0.5"/>
<line x1="681.5" y1="435.5" x2="681.5" y2="442" stroke="#333" stroke-width="0.5"/>
<line x1="683" y1="435.5" x2="683" y2="442" stroke="#333" stroke-width="0.5"/>
<line x1="684.5" y1="435.5" x2="684.5" y2="442" stroke="#333" stroke-width="0.5"/>
<line x1="686" y1="435.5" x2="686" y2="442" stroke="#333" stroke-width="0.5"/>
<line x1="687.5" y1="435.5" x2="687.5" y2="442" stroke="#333" stroke-width="0.5"/>
<line x1="689" y1="435.5" x2="689" y2="442" stroke="#333" stroke-width="0.5"/>
<line x1="690.5" y1="435.5" x2="690.5" y2="442" stroke="#333" stroke-width="0.5"/>
<line x1="692" y1="435.5" x2="692" y2="442" stroke="#333" stroke-width="0.5"/>
<line x1="693.5" y1="435.5" x2="693.5" y2="442" stroke="#333" stroke-width="0.5"/>
<line x1="695" y1="435.5" x2="695" y2="442" stroke="#333" stroke-width="0.5"/>
<line x1="696.5" y1="435.5" x2="696.5" y2="442" stroke="#333" stroke-width="0.5"/>
<line x1="698" y1="435.5" x2="698" y2="442" stroke="#333" stroke-width="0.5"/>
<line x1="699.5" y1="435.5" x2="699.5" y2="442" stroke="#333" stroke-width="0.5"/>
<line x1="701" y1="435.5" x2="701" y2="442" stroke="#333" stroke-width="0.5"/>
<line x1="702.5" y1="435.5" x2="702.5" y2="442" stroke="#333" stroke-width="0.5"/>
<line x1="704" y1="435.5" x2="704" y2="442" stroke="#333" stroke-width="0.5"/>
<line x1="705.5" y1="435.5" x2="705.5" y2="442" stroke="#333" stroke-width="0.5"/>
<line x1="707" y1="435.5" x2="707" y2="442" stroke="#333" stroke-width="0.5"/>
<line x1="708.5" y1="435.5" x2="708.5" y2="442" stroke="#333" stroke-width="0.5"/>
<line x1="710" y1="435.5" x2="710" y2="442" stroke="#333" stroke-width="0.5"/>
<line x1="711.5" y1="435.5" x2="711.5" y2="442" stroke="#333" stroke-width="0.5"/>
<line x1="713" y1="435.5" x2="713" y2="442" stroke="#333" stroke-width="0.5"/>
<line x1="714.5" y1="435.5" x2="714.5" y2="442" stroke="#333" stroke-width="0.5"/>
<line x1="716" y1="435.5" x2="716" y2="442" stroke="#333" stroke-width="0.5"/>
<line x1="717.5" y1="435.5" x2="717.5" y2="442" stroke="#333" stroke-width="0.5"/>
<line x1="719" y1="435.5" x2="719" y2="442" stroke="#333" stroke-width="0.5"/>
<line x1="720.5" y1="435.5" x2="720.5" y2="442" stroke="#333" stroke-width="0.5"/>
<line x1="722" y1="435.5" x2="722" y2="442" stroke="#333" stroke-width="0.5"/>
<line x1="723.5" y1="435.5" x2="723.5" y2="442" stroke="#333" stroke-width="0.5"/>
<line x1="725" y1="435.5" x2="725" y2="442" stroke="#333" stroke-width="0.5"/>
<line x1="726.5" y1="435.5" x2="726.5" y2="442" stroke="#333" stroke-width="0.5"/>
<line x1="728" y1="435.5" x2="728" y2="442" stroke="#333" stroke-width="0.5"/>
<line x1="729.5" y1="435.5" x2="729.5" y2="442" stroke="#333" stroke-width="0.5"/>
<line x1="731" y1="435.5" x2="731" y2="442" stroke="#333" stroke-width="0.5"/>
<line x1="732.5" y1="435.5" x2="732.5" y2="442" stroke="#333" stroke-width="0.5"/>
<line x1="734" y1="435.5" x2="734" y2="442" stroke="#333" stroke-width="0.5"/>
<line x1="735.5" y1="435.5" x2="735.5" y2="442" stroke="#333" stroke-width="0.5"/>
<line x1="737" y1="435.5" x2="737" y2="442" stroke="#333" stroke-width="0.5"/>
<line x1="738.5" y1="435.5" x2="738.5" y2="442" stroke="#333" stroke-width="0.5"/>
<line x1="740" y1="435.5" x2="740" y2="442" stroke="#333" stroke-width="0.5"/>
<line x1="741.5" y1="435.5" x2="741.5" y2="442" stroke="#333" stroke-width="0.5"/>
<line x1="743" y1="435.5" x2="743" y2="442" stroke="#333" stroke-width="0.5"/>
<line x1="744.5" y1="435.5" x2="744.5" y2="442" stroke="#333" stroke-width="0.5"/>
<line x1="746" y1="435.5" x2="746" y2="442" stroke="#333" stroke-width="0.5"/>
<line x1="747.5" y1="435.5" x2="747.5" y2="442" stroke="#333" stroke-width="0.5"/>
<line x1="749" y1="435.5" x2="749" y2="442" stroke="#333" stroke-width="0.5"/>
<line x1="750.5" y1="435.5" x2="750.5" y2="442" stroke="#333" stroke-width="0.5"/>
<line x1="752" y1="435.5" x2="752" y2="442" stroke="#333" stroke-width="0.5"/>
<line x1="753.5" y1="435.5" x2="753.5" y2="442" stroke="#333" stroke-width="0.5"/>
<line x1="755" y1="435.5" x2="755" y2="442" stroke="#333" stroke-width="0.5"/>
<line x1="756.5" y1="435.5" x2="756.5" y2="442" stroke="#333" stroke-width="0.5"/>
<line x1="758" y1="435.5" x2="758" y2="442" stroke="#333" stroke-width="0.5"/>
<line x1="759.5" y1="435.5" x2="759.5" y2="442" stroke="#333" stroke-width="0.5"/>
<line x1="761" y1="435.5" x2="761" y2="442" stroke="#333" stroke-width="0.5"/>
<line x1="762.5" y1="435.5" x2="762.5" y2="442" stroke="#333" stroke-width="0.5"/>
<line x1="764" y1="435.5" x2="764" y2="442" stroke="#333" stroke-width="0.5"/>
<line x1="765.5" y1="435.5" x2="765.5" y2="442" stroke="#333" stroke-width="0.5"/>
<line x1="767" y1="435.5" x2="767" y2="442" stroke="#333" stroke-width="0.5"/>
<line x1="768.5" y1="435.5" x2="768.5" y2="442" stroke="#333" stroke-width="0.5"/>
<line x1="770" y1="435.5" x2="770" y2="442" stroke="#333" stroke-width="0.5"/>
<line x1="771.5" y1="435.5" x2="771.5" y2="442" stroke="#333" stroke-width="0.5"/>
<line x1="773" y1="435.5" x2="773" y2="442" stroke="#333" stroke-width="0.5"/>
<line x1="774.5" y1="435.5" x2="774.5" y2="442" stroke="#333" stroke-width="0.5"/>
<line x1="776" y1="435.5" x2="776" y2="442" stroke="#333" stroke-width="0.5"/>
<line x1="777.5" y1="435.5" x2="777.5" y2="442" stroke="#333" stroke-width="0.5"/>
<line x1="779" y1="435.5" x2="779" y2="442" stroke="#333" stroke-width="0.5"/>
<line x1="780.5" y1="435.5" x2="780.5" y2="442" stroke="#333" stroke-width="0.5"/>
<line x1="782" y1="435.5" x2="782" y2="442" stroke="#333" stroke-width="0.5"/>
<line x1="783.5" y1="435.5" x2="783.5" y2="442" stroke="#333" stroke-width="0.5"/>
<line x1="785" y1="435.5" x2="785" y2="442" stroke="#333" stroke-width="0.5"/>
<line x1="786.5" y1="435.5" x2="786.5" y2="442" stroke="#333" stroke-width="0.5"/>
<line x1="788" y1="435.5" x2="788" y2="442" stroke="#333" stroke-width="0.5"/>
<line x1="789.5" y1="435.5" x2="789.5" y2="442" stroke="#333" stroke-width="0.5"/>
<line x1="791" y1="435.5" x2="791" y2="442" stroke="#333" stroke-width="0.5"/>
<line x1="792.5" y1="435.5" x2="792.5" y2="442" stroke="#333" stroke-width="0.5"/>
<line x1="794" y1="435.5" x2="794" y2="442" stroke="#333" stroke-width="0.5"/>
<line x1="795.5" y1="435.5" x2="795.5" y2="442" stroke="#333" stroke-width="0.5"/>
<line x1="797" y1="435.5" x2="797" y2="442" stroke="#333" stroke-width="0.5"/>
<line x1="798.5" y1="435.5" x2="798.5" y2="442" stroke="#333" stroke-width="0.5"/>
<line x1="800" y1="435.5" x2="800" y2="442" stroke="#333" stroke-width="0.5"/>
<line x1="801.5" y1="435.5" x2="801.5" y2="442" stroke="#333" stroke-width="0.5"/>
<line x1="803" y1="435.5" x2="803" y2="442" stroke="#333" stroke-width="0.5"/>
<line x1="804.5" y1="435.5" x2="804.5" y2="442" stroke="#333" stroke-width="0.5"/>
<line x1="806" y1="435.5" x2="806" y2="442" stroke="#333" stroke-width="0.5"/>
<line x1="807.5" y1="435.5" x2="807.5" y2="442" stroke="#333" stroke-width="0.5"/>
<line x1="809" y1="435.5" x2="809" y2="442" stroke="#333" stroke-width="0.5"/>
<line x1="810.5" y1="435.5" x2="810.5" y2="442" stroke="#333" stroke-width="0.5"/>
<line x1="812" y1="435.5" x2="812" y2="442" stroke="#333" stroke-width="0.5"/>
<line x1="813.5" y1="435.5" x2="813.5" y2="442" stroke="#333" stroke-width="0.5"/>
<line x1="815" y1="435.5" x2="815" y2="442" stroke="#333" stroke-width="0.5"/>
<line x1="816.5" y1="435.5" x2="816.5" y2="442" stroke="#333" stroke-width="0.5"/>
<line x1="818" y1="435.5" x2="818" y2="442" stroke="#333" stroke-width="0.5"/>
<line x1="819.5" y1="435.5" x2="819.5" y2="442" stroke="#333" stroke-width="0.5"/>
<line x1="821" y1="435.5" x2="821" y2="442" stroke="#333" stroke-width="0.5"/>
<line x1="822.5" y1="435.5" x2="822.5" y2="442" stroke="#333" stroke-width="0.5"/>
<line x1="824" y1="435.5" x2="824" y2="442" stroke="#333" stroke-width="0.5"/>
<line x1="825.5" y1="435.5" x2="825.5" y2="442" stroke="#333" stroke-width="0.5"/>
<line x1="827" y1="435.5" x2="827" y2="442" stroke="#333" stroke-width="0.5"/>
<line x1="828.5" y1="435.5" x2="828.5" y2="442" stroke="#333" stroke-width="0.5"/>
<line x1="830" y1="435.5" x2="830" y2="442" stroke="#333" stroke-width="0.5"/>
<line x1="831.5" y1="435.5" x2="831.5" y2="442" stroke="#333" stroke-width="0.5"/>
<line x1="833" y1="435.5" x2="833" y2="442" stroke="#333" stroke-width="0.5"/>
<line x1="834.5" y1="435.5" x2="834.5" y2="442" stroke="#333" stroke-width="0.5"/>
<line x1="836" y1="435.5" x2="836" y2="442" stroke="#333" stroke-width="0.5"/>
<line x1="837.5" y1="435.5" x2="837.5" y2="442" stroke="#333" stroke-width="0.5"/>
<line x1="839" y1="435.5" x2="839" y2="442" stroke="#333" stroke-width="0.5"/>
<line x1="840.5" y1="435.5" x2="840.5" y2="442" stroke="#333" stroke-width="0.5"/>
<line x1="842" y1="435.5" x2="842" y2="442" stroke="#333" stroke-width="0.5"/>
<line x1="843.5" y1="435.5" x2="843.5" y2="442" stroke="#333" stroke-width="0.5"/>
<line x1="845" y1="435.5" x2="845" y2="442" stroke="#333" stroke-width="0.5"/>
<line x1="846.5" y1="435.5" x2="846.5" y2="442" stroke="#333" stroke-width="0.5"/>
<line x1="848" y1="435.5" x2="848" y2="442" stroke="#333" stroke-width="0.5"/>
<line x1="849.5" y1="435.5" x2="849.5" y2="442" stroke="#333" stroke-width="0.5"/>
<line x1="851" y1="435.5" x2="851" y2="442" stroke="#333" stroke-width="0.5"/>
<line x1="852.5" y1="435.5" x2="852.5" y2="442" stroke="#333" stroke-width="0.5"/>
<line x1="854" y1="435.5" x2="854" y2="442" stroke="#333" stroke-width="0.5"/>
<line x1="855.5" y1="435.5" x2="855.5" y2="442" stroke="#333" stroke-width="0.5"/>
<line x1="857" y1="435.5" x2="857" y2="442" stroke="#333" stroke-width="0.5"/>
<line x1="858.5" y1="435.5" x2="858.5" y2="442" stroke="#333" stroke-width="0.5"/>
<line x1="860" y1="435.5" x2="860" y2="442" stroke="#333" stroke-width="0.5"/>
<line x1="861.5" y1="435.5" x2="861.5" y2="442" stroke="#333" stroke-width="0.5"/>
<line x1="863" y1="435.5" x2="863" y2="442" stroke="#333" stroke-width="0.5"/>
<line x1="864.5" y1="435.5" x2="864.5" y2="442" stroke="#333" stroke-width="0.5"/>
<line x1="866" y1="435.5" x2="866" y2="442" stroke="#333" stroke-width="0.5"/>
<line x1="867.5" y1="435.5" x2="867.5" y2="442" stroke="#333" stroke-width="0.5"/>
<line x1="869" y1="435.5" x2="869" y2="442" stroke="#333" stroke-width="0.5"/>
<line x1="870.5" y1="435.5" x2="870.5" y2="442" stroke="#333" stroke-width="0.5"/>
<line x1="872" y1="435.5" x2="872" y2="442" stroke="#333" stroke-width="0.5"/>
<line x1="873.5" y1="435.5" x2="873.5" y2="442" stroke="#333" stroke-width="0.5"/>
<line x1="875" y1="435.5" x2="875" y2="442" stroke="#333" stroke-width="0.5"/>
<line x1="876.5" y1="435.5" x2="876.5" y2="442" stroke="#333" stroke-width="0.5"/>
<line x1="878" y1="435.5" x2="878" y2="442" stroke="#333" stroke-width="0.5"/>
<line x1="879.5" y1="435.5" x2="879.5" y2="442" stroke="#333" stroke-width="0.5"/>
<line x1="881" y1="435.5" x2="881" y2="442" stroke="#333" stroke-width="0.5"/>
<line x1="882.5" y1="435.5" x2="882.5" y2="442" stroke="#333" stroke-width="0.5"/>
<line x1="884" y1="435.5" x2="884" y2="442" stroke="#333" stroke-width="0.5"/>
<line x1="885.5" y1="435.5" x2="885.5" y2="442" stroke="#333" stroke-width="0.5"/>
<line x1="887" y1="435.5" x2="887" y2="442" stroke="#333" stroke-width="0.5"/>
<line x1="888.5" y1="435.5" x2="888.5" y2="442" stroke="#333" stroke-width="0.5"/>
<line x1="890" y1="435.5" x2="890" y2="442" stroke="#333" stroke-width="0.5"/>
<line x1="891.5" y1="435.5" x2="891.5" y2="442" stroke="#333" stroke-width="0.5"/>
<line x1="893" y1="435.5" x2="893" y2="442" stroke="#333" stroke-width="0.5"/>
<line x1="894.5" y1="435.5" x2="894.5" y2="442" stroke="#333" stroke-width="0.5"/>
<line x1="896" y1="435.5" x2="896" y2="442" stroke="#333" stroke-width="0.5"/>
<polyline points="904.5,263.3 912,226 915.5,223.7 925,223.7 928,226 931.4,263.3" stroke="#000" stroke-width="1.5" fill="#fff"/>
<line x1="913" y1="255" x2="929" y2="255" stroke="#000" stroke-width="0.8"/>
<line x1="909" y1="260" x2="931" y2="260" stroke="#000" stroke-width="0.8"/>
<line x1="919.5" y1="224" x2="919.5" y2="263" stroke="#000" stroke-width="0.8"/>
<rect x="897.5" y="263.3" width="35.5" height="241.9" stroke="#000" stroke-width="1.6" fill="none"/>
<line x1="919.3" y1="263.3" x2="919.3" y2="505" stroke="#000" stroke-width="1"/>
<line x1="933" y1="263.3" x2="936.5" y2="270" stroke="#000" stroke-width="1"/>
<line x1="936.5" y1="270" x2="936.5" y2="498" stroke="#000" stroke-width="1.2"/>
<line x1="936.5" y1="498" x2="933" y2="505" stroke="#000" stroke-width="1"/>
<line x1="897.5" y1="476" x2="933" y2="475" stroke="#000" stroke-width="0.9"/>
<line x1="897.5" y1="490.7" x2="933" y2="490.7" stroke="#000" stroke-width="0.9"/>
<line x1="897.5" y1="497.3" x2="933" y2="497.3" stroke="#000" stroke-width="0.8"/>
<rect x="933" y="300" width="3" height="8" stroke="#000" stroke-width="0.8" fill="none"/>
<rect x="933" y="379" width="3" height="8" stroke="#000" stroke-width="0.8" fill="none"/>
<rect x="933" y="460" width="3" height="8" stroke="#000" stroke-width="0.8" fill="none"/>
<rect x="608.3" y="263.6" width="70.7" height="241.1" stroke="#000" stroke-width="1.6" fill="#fff"/>
<rect x="609.5" y="288.9" width="67" height="190.5" stroke="#000" stroke-width="1.4" fill="none"/>
<line x1="610" y1="270" x2="679" y2="270" stroke="#000" stroke-width="0.8"/>
<line x1="610" y1="276" x2="679" y2="276" stroke="#000" stroke-width="0.8"/>
<line x1="610" y1="282" x2="679" y2="282" stroke="#000" stroke-width="0.8"/>
<circle cx="612.5" cy="293.4" r="4.3" fill="#000"/>
<circle cx="670.6" cy="293.4" r="4.3" fill="#000"/>
<circle cx="612.5" cy="473.5" r="4.3" fill="#000"/>
<circle cx="670.6" cy="473.5" r="4.3" fill="#000"/>
<polygon points="621.4,291.9 624.65,297.1 624.65,323.8 621.4,329 618.15,323.8 618.15,297.1" stroke="#000" stroke-width="1.2" fill="#fff"/>
<polygon points="621.4,433.3 624.65,438.5 624.65,469.8 621.4,475 618.15,469.8 618.15,438.5" stroke="#000" stroke-width="1.2" fill="#fff"/>
<polygon points="631.9,291.9 635.15,297.1 635.15,323.8 631.9,329 628.65,323.8 628.65,297.1" stroke="#000" stroke-width="1.2" fill="#fff"/>
<polygon points="631.9,433.3 635.15,438.5 635.15,469.8 631.9,475 628.65,469.8 628.65,438.5" stroke="#000" stroke-width="1.2" fill="#fff"/>
<polygon points="642.3,291.9 645.55,297.1 645.55,323.8 642.3,329 639.05,323.8 639.05,297.1" stroke="#000" stroke-width="1.2" fill="#fff"/>
<polygon points="642.3,433.3 645.55,438.5 645.55,469.8 642.3,475 639.05,469.8 639.05,438.5" stroke="#000" stroke-width="1.2" fill="#fff"/>
<polygon points="652.7,291.9 655.95,297.1 655.95,323.8 652.7,329 649.45,323.8 649.45,297.1" stroke="#000" stroke-width="1.2" fill="#fff"/>
<polygon points="652.7,433.3 655.95,438.5 655.95,469.8 652.7,475 649.45,469.8 649.45,438.5" stroke="#000" stroke-width="1.2" fill="#fff"/>
<polygon points="663.1,291.9 666.35,297.1 666.35,323.8 663.1,329 659.85,323.8 659.85,297.1" stroke="#000" stroke-width="1.2" fill="#fff"/>
<polygon points="663.1,433.3 666.35,438.5 666.35,469.8 663.1,475 659.85,469.8 659.85,438.5" stroke="#000" stroke-width="1.2" fill="#fff"/>
<polygon points="616.5,332 619.6,336.96 619.6,373.04 616.5,378 613.4,373.04 613.4,336.96" stroke="#000" stroke-width="1.2" fill="#fff"/>
<polygon points="616.5,388.6 619.6,393.56 619.6,426.84 616.5,431.8 613.4,426.84 613.4,393.56" stroke="#000" stroke-width="1.2" fill="#fff"/>
<polygon points="626.6,332 629.7,336.96 629.7,373.04 626.6,378 623.5,373.04 623.5,336.96" stroke="#000" stroke-width="1.2" fill="#fff"/>
<polygon points="626.6,388.6 629.7,393.56 629.7,426.84 626.6,431.8 623.5,426.84 623.5,393.56" stroke="#000" stroke-width="1.2" fill="#fff"/>
<polygon points="636.8,332 639.9,336.96 639.9,373.04 636.8,378 633.7,373.04 633.7,336.96" stroke="#000" stroke-width="1.2" fill="#fff"/>
<polygon points="636.8,388.6 639.9,393.56 639.9,426.84 636.8,431.8 633.7,426.84 633.7,393.56" stroke="#000" stroke-width="1.2" fill="#fff"/>
<polygon points="647,332 650.1,336.96 650.1,373.04 647,378 643.9,373.04 643.9,336.96" stroke="#000" stroke-width="1.2" fill="#fff"/>
<polygon points="647,388.6 650.1,393.56 650.1,426.84 647,431.8 643.9,426.84 643.9,393.56" stroke="#000" stroke-width="1.2" fill="#fff"/>
<polygon points="657.2,332 660.3,336.96 660.3,373.04 657.2,378 654.1,373.04 654.1,336.96" stroke="#000" stroke-width="1.2" fill="#fff"/>
<polygon points="657.2,388.6 660.3,393.56 660.3,426.84 657.2,431.8 654.1,426.84 654.1,393.56" stroke="#000" stroke-width="1.2" fill="#fff"/>
<polygon points="667.4,332 670.5,336.96 670.5,373.04 667.4,378 664.3,373.04 664.3,336.96" stroke="#000" stroke-width="1.2" fill="#fff"/>
<polygon points="667.4,388.6 670.5,393.56 670.5,426.84 667.4,431.8 664.3,426.84 664.3,393.56" stroke="#000" stroke-width="1.2" fill="#fff"/>
<line x1="612" y1="483" x2="668" y2="481.5" stroke="#000" stroke-width="1.2"/>
<line x1="612" y1="487" x2="668" y2="485.5" stroke="#000" stroke-width="1.2"/>
<line x1="612" y1="491" x2="668" y2="489.5" stroke="#000" stroke-width="1.2"/>
<line x1="612" y1="495" x2="668" y2="493.5" stroke="#000" stroke-width="1.2"/>
<line x1="612" y1="499" x2="668" y2="497.5" stroke="#000" stroke-width="1.2"/>
<circle cx="645.9" cy="383.3" r="4.5" fill="#000"/>
<path d="M599,243.9 L631,243.9 Q634.8,243.9 634.8,239 L634.8,225 Q634.8,221.5 638,221.5 L646,221.5 Q647.8,221.5 648.2,224.3 L657,258 Q658,262 661,263.6" stroke="#000" stroke-width="1.6" fill="none"/>
<line x1="636" y1="235" x2="649" y2="235" stroke="#000" stroke-width="0.7"/>
<line x1="645" y1="222" x2="653" y2="258" stroke="#000" stroke-width="0.7"/>
<rect x="599" y="243.7" width="11" height="279.6" stroke="#000" stroke-width="1.6" fill="#fff"/>
<rect x="593.3" y="261" width="5.7" height="245.5" stroke="#000" stroke-width="1.4" fill="#fff"/>
<rect x="573.8" y="299.3" width="4.5" height="168.2" stroke="#000" stroke-width="0" fill="#000" stroke="none"/>
<rect x="578.3" y="360.3" width="15" height="46.2" stroke="#000" stroke-width="1.3" fill="#fff"/>
<rect x="571.3" y="359.3" width="7.2" height="49" stroke="#000" stroke-width="0" fill="#000" stroke="none"/>
<rect x="572.3" y="346" width="2" height="76" stroke="#000" stroke-width="0" fill="#111" stroke="none"/>
<rect x="565.8" y="361.2" width="5.5" height="7.6" stroke="#000" stroke-width="1.2" fill="#fff"/>
<rect x="565.8" y="368.8" width="5.5" height="7.6" stroke="#000" stroke-width="1.2" fill="#fff"/>
<rect x="565.8" y="376.4" width="5.5" height="7.6" stroke="#000" stroke-width="1.2" fill="#fff"/>
<rect x="565.8" y="384" width="5.5" height="7.6" stroke="#000" stroke-width="1.2" fill="#fff"/>
<rect x="565.8" y="391.6" width="5.5" height="7.6" stroke="#000" stroke-width="1.2" fill="#fff"/>
<rect x="565.8" y="399.2" width="5.5" height="7.6" stroke="#000" stroke-width="1.2" fill="#fff"/>
<path d="M710.6,260.2 L710.6,164 Q710.6,148 726.6,148 L881.6,148 Q897.6,148 897.6,164 L897.6,260.2 L895,265 L893,310 Q892.5,317.7 885,317.7 L723,317.7 Q715.5,317.7 715,310 L713.3,265 Z" stroke="#000" stroke-width="2" fill="#fff"/>
<path d="M714.6,260 L714.6,166 Q714.6,152 728.6,152 L879.6,152 Q893.6,152 893.6,166 L893.6,260" stroke="#000" stroke-width="0.8" fill="none"/>
<path d="M724.7,314 L724.7,168 Q724.7,162.1 730,162.1 L878,162.1 Q883,162.1 883,168 L883,314" stroke="#000" stroke-width="0.8" fill="none"/>
<path d="M725.6,172 Q725.6,170 728,170 L880.5,170 Q883,170 883,172 L883,282 Q883,284 880.5,284 L831.7,284 L830,287.6 L777.7,287.6 L776,284 L728,284 Q725.6,284 725.6,282 Z" stroke="#000" stroke-width="1.6" fill="#fff"/>
<circle cx="730" cy="278.8" r="3.4" stroke="#000" stroke-width="1.1" fill="#fff"/>
<circle cx="878.5" cy="278.8" r="3.4" stroke="#000" stroke-width="1.1" fill="#fff"/>
<circle cx="878.5" cy="178" r="3.4" stroke="#000" stroke-width="1.1" fill="#fff"/>
<circle cx="742.4" cy="192.1" r="3.6" stroke="#000" stroke-width="1.1" fill="none"/>
<circle cx="742.4" cy="192.1" r="1.3" stroke="#000" stroke-width="0.9" fill="none"/>
<circle cx="742.4" cy="260.2" r="3.6" stroke="#000" stroke-width="1.1" fill="none"/>
<circle cx="742.4" cy="260.2" r="1.3" stroke="#000" stroke-width="0.9" fill="none"/>
<circle cx="838.8" cy="192.1" r="3.6" stroke="#000" stroke-width="1.1" fill="none"/>
<circle cx="838.8" cy="192.1" r="1.3" stroke="#000" stroke-width="0.9" fill="none"/>
<circle cx="838.8" cy="260.2" r="3.6" stroke="#000" stroke-width="1.1" fill="none"/>
<circle cx="838.8" cy="260.2" r="1.3" stroke="#000" stroke-width="0.9" fill="none"/>
<circle cx="865.6" cy="192.1" r="3.6" stroke="#000" stroke-width="1.1" fill="none"/>
<circle cx="865.6" cy="192.1" r="1.3" stroke="#000" stroke-width="0.9" fill="none"/>
<circle cx="865.6" cy="260.2" r="3.6" stroke="#000" stroke-width="1.1" fill="none"/>
<circle cx="865.6" cy="260.2" r="1.3" stroke="#000" stroke-width="0.9" fill="none"/>
<circle cx="791.9" cy="194.4" r="2.9" fill="#000"/>
<circle cx="791.9" cy="258.8" r="2.9" fill="#000"/>
<circle cx="804.3" cy="214.8" r="5.5" fill="#000"/>
<polygon points="747.1,153 750.6,150 762.6,150 766.1,153 764.6,163 756.6,167 748.6,163" stroke="#000" stroke-width="1.3" fill="#fff"/>
<circle cx="756.6" cy="157.7" r="3.3" stroke="#000" stroke-width="1.2" fill="none"/>
<circle cx="756.6" cy="157.7" r="1.3" fill="#000"/>
<polygon points="841.6,153 845.1,150 857.1,150 860.6,153 859.1,163 851.1,167 843.1,163" stroke="#000" stroke-width="1.3" fill="#fff"/>
<circle cx="851.1" cy="157.7" r="3.3" stroke="#000" stroke-width="1.2" fill="none"/>
<circle cx="851.1" cy="157.7" r="1.3" fill="#000"/>
<polygon points="714.7,180 720.7,180 722.2,187 717.7,194 713.2,187" stroke="#000" stroke-width="1.2" fill="#fff"/>
<polygon points="886.1,180 892.1,180 893.6,187 889.1,194 884.6,187" stroke="#000" stroke-width="1.2" fill="#fff"/>
<polygon points="741.5,294 747.5,303.5 741.5,313 735.5,303.5" stroke="#000" stroke-width="1.3" fill="#fff"/>
<circle cx="741.5" cy="303.5" r="3.2" stroke="#000" stroke-width="1.6" fill="none"/>
<polygon points="867,294 873,303.5 867,313 861,303.5" stroke="#000" stroke-width="1.3" fill="#fff"/>
<circle cx="867" cy="303.5" r="3.2" stroke="#000" stroke-width="1.6" fill="none"/>
<rect x="780.4" y="296.4" width="47.8" height="11.6" rx="2.5" stroke="#000" stroke-width="1.5" fill="none"/>
<rect x="784" y="299.5" width="40" height="5.5" stroke="#000" stroke-width="0" fill="#333" stroke="none"/>
<polygon points="776.5,457.1 766.7,458.9 772.5,489.3 782.3,487.5" stroke="#000" stroke-width="1" fill="#1a1a1a"/>
<polygon points="858.7,458.8 848.9,457.2 844.1,487.8 854,489.4" stroke="#000" stroke-width="1" fill="#1a1a1a"/>
<path d="M771.6,458 L780,502 Q782,508 788,508 L839,508 Q845,508 847,502 L853.8,458" stroke="#000" stroke-width="5.2" fill="none"/>
<path d="M771.6,458 L780,502 Q782,508 788,508 L839,508 Q845,508 847,502 L853.8,458" stroke="#fff" stroke-width="2.4" fill="none"/>
<path d="M791,505.3 A4.3,4.3 0 0 1 799.6,505.3" stroke="#000" stroke-width="1.3" fill="#fff"/>
<path d="M807,505.3 A4.3,4.3 0 0 1 815.6,505.3" stroke="#000" stroke-width="1.3" fill="#fff"/>
<path d="M822.4,505.3 A4.3,4.3 0 0 1 831,505.3" stroke="#000" stroke-width="1.3" fill="#fff"/>
<path d="M837.7,505.3 A4.3,4.3 0 0 1 846.3,505.3" stroke="#000" stroke-width="1.3" fill="#fff"/>
<polygon points="866.5,456 870.5,462.4 870.5,490.9 866.5,497.3 862.5,490.9 862.5,462.4" stroke="#000" stroke-width="1.3" fill="#fff"/>
<polygon points="882.3,456 886.3,462.4 886.3,490.9 882.3,497.3 878.3,490.9 878.3,462.4" stroke="#000" stroke-width="1.3" fill="#fff"/>
<line x1="862.5" y1="494" x2="870.5" y2="494" stroke="#000" stroke-width="0.8"/>
<line x1="878.3" y1="494" x2="886.3" y2="494" stroke="#000" stroke-width="0.8"/>
<path d="M849,505 L853.5,505 A4.3,4.3 0 0 1 862,505 L869.5,505 A4.3,4.3 0 0 1 878,505 L897.5,505" stroke="#000" stroke-width="1.5" fill="none"/>
<rect x="849" y="476" width="10" height="5" stroke="#000" stroke-width="1" fill="#fff"/>
<line x1="562" y1="383.3" x2="945" y2="383.3" stroke="#000" stroke-width="0.8" stroke-dasharray="19,3,2,3"/>
<line x1="780" y1="172" x2="780" y2="383.3" stroke="#000" stroke-width="0.8"/>
<line x1="811.7" y1="485" x2="811.7" y2="700" stroke="#000" stroke-width="0.8" stroke-dasharray="19,3,2,3"/>
<circle cx="779.5" cy="383.5" r="7.9" stroke="#000" stroke-width="1.6" fill="#fff"/>
<path d="M779.5,383.5 L779.5,375.6 A7.9,7.9 0 0 1 787.4,383.5 Z" stroke="#000" stroke-width="0" fill="#000" stroke="none"/>
<path d="M779.5,383.5 L779.5,391.4 A7.9,7.9 0 0 1 771.6,383.5 Z" stroke="#000" stroke-width="0" fill="#000" stroke="none"/>
<circle cx="758.3" cy="383.5" r="4.5" fill="#000"/>
<circle cx="735.7" cy="383.3" r="4.5" fill="#000"/>
<line x1="574.3" y1="85" x2="574.3" y2="598" stroke="#000" stroke-width="0.9"/>
<line x1="598.3" y1="88" x2="598.3" y2="243.7" stroke="#000" stroke-width="0.9"/>
<line x1="593.3" y1="168" x2="593.3" y2="261" stroke="#000" stroke-width="0.9"/>
<line x1="936.7" y1="88" x2="936.7" y2="263" stroke="#000" stroke-width="0.9"/>
<line x1="710.7" y1="118" x2="710.7" y2="148" stroke="#000" stroke-width="0.9"/>
<line x1="897.3" y1="118" x2="897.3" y2="261" stroke="#000" stroke-width="0.9"/>
<line x1="550.7" y1="98.3" x2="936.7" y2="98.3" stroke="#000" stroke-width="0.9"/>
<polygon points="574.3,98.3 562.8,100.05 562.8,96.55" fill="#000"/>
<polygon points="598.3,98.3 609.8,96.55 609.8,100.05" fill="#000"/>
<polygon points="936.7,98.3 925.2,100.05 925.2,96.55" fill="#000"/>
<text x="585" y="91.7" font-family="Liberation Sans" font-size="17" text-anchor="middle" fill="#000" stroke="#000" stroke-width="0.3">L</text>
<text x="764.3" y="90.7" font-family="Liberation Sans" font-size="17" text-anchor="middle" fill="#000" stroke="#000" stroke-width="0.3">431.8</text>
<line x1="710.7" y1="128.3" x2="897.3" y2="128.3" stroke="#000" stroke-width="1"/>
<polygon points="710.7,128.3 722.2,126.55 722.2,130.05" fill="#000"/>
<polygon points="897.3,128.3 885.8,130.05 885.8,126.55" fill="#000"/>
<line x1="897.3" y1="128.3" x2="936.7" y2="128.3" stroke="#000" stroke-width="1"/>
<polygon points="897.3,128.3 908.8,126.55 908.8,130.05" fill="#000"/>
<polygon points="936.7,128.3 925.2,130.05 925.2,126.55" fill="#000"/>
<text x="803.3" y="121" font-family="Liberation Sans" font-size="17" text-anchor="middle" fill="#000" stroke="#000" stroke-width="0.3">238.3</text>
<text x="916.7" y="121" font-family="Liberation Sans" font-size="17" text-anchor="middle" fill="#000" stroke="#000" stroke-width="0.3">50.2</text>
<text x="656.7" y="156.7" font-family="Liberation Sans" font-size="17" text-anchor="middle" fill="#000" stroke="#000" stroke-width="0.3">C.G.</text>
<text x="656.7" y="173.3" font-family="Liberation Sans" font-size="17" text-anchor="middle" fill="#000" stroke="#000" stroke-width="0.3">216.0</text>
<line x1="570" y1="180.7" x2="780" y2="180.7" stroke="#000" stroke-width="0.9"/>
<polygon points="593.3,180.7 581.8,182.45 581.8,178.95" fill="#000"/>
<polygon points="598.3,180.7 609.8,178.95 609.8,182.45" fill="#000"/>
<polygon points="780,180.7 768.5,182.45 768.5,178.95" fill="#000"/>
<text x="582.3" y="173.3" font-family="Liberation Sans" font-size="17" text-anchor="middle" fill="#000" stroke="#000" stroke-width="0.3">6</text>
<line x1="501.7" y1="243.7" x2="599" y2="243.7" stroke="#000" stroke-width="0.9"/>
<line x1="501.7" y1="523.3" x2="599" y2="523.3" stroke="#000" stroke-width="0.9"/>
<line x1="510" y1="243.7" x2="510" y2="523.3" stroke="#000" stroke-width="1"/>
<polygon points="510,243.7 511.75,255.2 508.25,255.2" fill="#000"/>
<polygon points="510,523.3 508.25,511.8 511.75,511.8" fill="#000"/>
<text x="502.5" y="380.5" font-family="Liberation Sans" font-size="17" text-anchor="middle" fill="#000" stroke="#000" stroke-width="0.3" transform="rotate(-90 502.5 380.5)">ø O</text>
<line x1="526.7" y1="261" x2="593.3" y2="261" stroke="#000" stroke-width="0.9"/>
<line x1="526.7" y1="506" x2="593.3" y2="506" stroke="#000" stroke-width="0.9"/>
<line x1="534.3" y1="261" x2="534.3" y2="506" stroke="#000" stroke-width="1"/>
<polygon points="534.3,261 536.05,272.5 532.55,272.5" fill="#000"/>
<polygon points="534.3,506 532.55,494.5 536.05,494.5" fill="#000"/>
<text x="527" y="380.5" font-family="Liberation Sans" font-size="17" text-anchor="middle" fill="#000" stroke="#000" stroke-width="0.3" transform="rotate(-90 527 380.5)">ø P</text>
<line x1="550" y1="299.3" x2="573.8" y2="299.3" stroke="#000" stroke-width="0.9"/>
<line x1="550" y1="467.5" x2="573.8" y2="467.5" stroke="#000" stroke-width="0.9"/>
<line x1="557.7" y1="299.3" x2="557.7" y2="467.5" stroke="#000" stroke-width="1"/>
<polygon points="557.7,299.3 559.45,310.8 555.95,310.8" fill="#000"/>
<polygon points="557.7,467.5 555.95,456 559.45,456" fill="#000"/>
<text x="550.5" y="380.5" font-family="Liberation Sans" font-size="17" text-anchor="middle" fill="#000" stroke="#000" stroke-width="0.3" transform="rotate(-90 550.5 380.5)">ø d</text>
<line x1="566" y1="468" x2="566" y2="595" stroke="#000" stroke-width="0.9"/>
<line x1="577" y1="468" x2="577" y2="595" stroke="#000" stroke-width="0.9"/>
<line x1="514.3" y1="589" x2="606.7" y2="589" stroke="#000" stroke-width="0.9"/>
<polygon points="566,589 554.5,590.75 554.5,587.25" fill="#000"/>
<polygon points="577,589 588.5,587.25 588.5,590.75" fill="#000"/>
<circle cx="574.3" cy="589" r="1.5" fill="#000"/>
<text x="530.7" y="564" font-family="Liberation Sans" font-size="17" text-anchor="middle" fill="#000" stroke="#000" stroke-width="0.3">11.4</text>
<text x="530.7" y="581.7" font-family="Liberation Sans" font-size="17" text-anchor="middle" fill="#000" stroke="#000" stroke-width="0.3">MAX</text>
<text x="602.7" y="581.7" font-family="Liberation Sans" font-size="17" text-anchor="middle" fill="#000" stroke="#000" stroke-width="0.3">4</text>
<line x1="704" y1="263.3" x2="704" y2="504" stroke="#000" stroke-width="0.9"/>
<polygon points="704,263.3 705.75,274.8 702.25,274.8" fill="#000"/>
<polygon points="704,504 702.25,492.5 705.75,492.5" fill="#000"/>
<text x="696" y="341.7" font-family="Liberation Sans" font-size="17" text-anchor="middle" fill="#000" stroke="#000" stroke-width="0.3" transform="rotate(-90 696 341.7)">ø 308</text>
<line x1="936" y1="263.3" x2="980" y2="263.3" stroke="#000" stroke-width="0.9"/>
<line x1="936" y1="505" x2="980" y2="505" stroke="#000" stroke-width="0.9"/>
<line x1="971.7" y1="263.3" x2="971.7" y2="505" stroke="#000" stroke-width="1"/>
<polygon points="971.7,263.3 973.45,274.8 969.95,274.8" fill="#000"/>
<polygon points="971.7,505 969.95,493.5 973.45,493.5" fill="#000"/>
<text x="964.3" y="380" font-family="Liberation Sans" font-size="17" text-anchor="middle" fill="#000" stroke="#000" stroke-width="0.3" transform="rotate(-90 964.3 380)">ø 310</text>
<line x1="768.3" y1="416" x2="768.3" y2="454" stroke="#000" stroke-width="0.9"/>
<line x1="856.7" y1="416" x2="856.7" y2="455" stroke="#000" stroke-width="0.9"/>
<line x1="768.3" y1="422.3" x2="856.7" y2="422.3" stroke="#000" stroke-width="1"/>
<polygon points="768.3,422.3 779.8,420.55 779.8,424.05" fill="#000"/>
<polygon points="856.7,422.3 845.2,424.05 845.2,420.55" fill="#000"/>
<text x="811" y="416" font-family="Liberation Sans" font-size="17" text-anchor="middle" fill="#000" stroke="#000" stroke-width="0.3">112.3</text>
<line x1="598.3" y1="525" x2="598.3" y2="550" stroke="#000" stroke-width="0.9"/>
<line x1="598.3" y1="542.3" x2="811.7" y2="542.3" stroke="#000" stroke-width="1"/>
<polygon points="598.3,542.3 609.8,540.55 609.8,544.05" fill="#000"/>
<polygon points="811.7,542.3 800.2,544.05 800.2,540.55" fill="#000"/>
<text x="697" y="534.3" font-family="Liberation Sans" font-size="17" text-anchor="middle" fill="#000" stroke="#000" stroke-width="0.3">273</text>
<text x="724" y="534.3" font-family="Liberation Sans" font-size="13" text-anchor="middle" fill="#000" stroke="#000" stroke-width="0.3">±1</text>
<line x1="823.3" y1="511.7" x2="823.3" y2="540" stroke="#000" stroke-width="0.9"/>
<polygon points="823.3,511.7 825.05,523.2 821.55,523.2" fill="#000"/>
<text x="831.7" y="535" font-family="Liberation Sans" font-size="17" text-anchor="middle" fill="#000" stroke="#000" stroke-width="0.3">A</text>
<line x1="861.7" y1="490" x2="861.7" y2="575" stroke="#000" stroke-width="0.9"/>
<line x1="885" y1="480" x2="885" y2="548" stroke="#000" stroke-width="0.9"/>
<line x1="791" y1="510" x2="791" y2="605" stroke="#000" stroke-width="0.9"/>
<line x1="838" y1="542.3" x2="910" y2="542.3" stroke="#000" stroke-width="0.9"/>
<polygon points="861.7,542.3 850.2,544.05 850.2,540.55" fill="#000"/>
<polygon points="885,542.3 896.5,540.55 896.5,544.05" fill="#000"/>
<text x="873.3" y="535" font-family="Liberation Sans" font-size="17" text-anchor="middle" fill="#000" stroke="#000" stroke-width="0.3">31</text>
<line x1="861.7" y1="569.3" x2="936.7" y2="569.3" stroke="#000" stroke-width="1"/>
<polygon points="861.7,569.3 873.2,567.55 873.2,571.05" fill="#000"/>
<polygon points="936.7,569.3 925.2,571.05 925.2,567.55" fill="#000"/>
<text x="899.3" y="561.7" font-family="Liberation Sans" font-size="17" text-anchor="middle" fill="#000" stroke="#000" stroke-width="0.3">96</text>
<line x1="936.7" y1="505" x2="936.7" y2="605" stroke="#000" stroke-width="0.9"/>
<line x1="791" y1="599.3" x2="936.7" y2="599.3" stroke="#000" stroke-width="1"/>
<polygon points="791,599.3 802.5,597.55 802.5,601.05" fill="#000"/>
<polygon points="936.7,599.3 925.2,601.05 925.2,597.55" fill="#000"/>
<text x="860" y="592.7" font-family="Liberation Sans" font-size="17" text-anchor="middle" fill="#000" stroke="#000" stroke-width="0.3">186</text>
<rect x="781.7" y="617.3" width="61.6" height="47.7" stroke="#000" stroke-width="1.4" fill="none"/>
<rect x="792.3" y="628.3" width="39.4" height="10.7" rx="5.3" stroke="#000" stroke-width="1.6" fill="none"/>
<line x1="795" y1="633.6" x2="829" y2="633.6" stroke="#000" stroke-width="0.7"/>
<line x1="753" y1="628.3" x2="792" y2="628.3" stroke="#000" stroke-width="0.9"/>
<line x1="753" y1="639" x2="792" y2="639" stroke="#000" stroke-width="0.9"/>
<line x1="762.3" y1="605" x2="762.3" y2="680" stroke="#000" stroke-width="0.9"/>
<polygon points="762.3,628.3 760.55,616.8 764.05,616.8" fill="#000"/>
<polygon points="762.3,639 764.05,650.5 760.55,650.5" fill="#000"/>
<text x="756" y="666.7" font-family="Liberation Sans" font-size="17" text-anchor="middle" fill="#000" stroke="#000" stroke-width="0.3" transform="rotate(-90 756 666.7)">14.5</text>
<line x1="792.3" y1="639" x2="792.3" y2="700" stroke="#000" stroke-width="0.9"/>
<line x1="831.7" y1="639" x2="831.7" y2="700" stroke="#000" stroke-width="0.9"/>
<line x1="792.3" y1="695" x2="831.7" y2="695" stroke="#000" stroke-width="1"/>
<polygon points="792.3,695 803.8,693.25 803.8,696.75" fill="#000"/>
<polygon points="831.7,695 820.2,696.75 820.2,693.25" fill="#000"/>
<text x="812.3" y="687.3" font-family="Liberation Sans" font-size="17" text-anchor="middle" fill="#000" stroke="#000" stroke-width="0.3">51.5</text>
<text x="676" y="650" font-family="Liberation Sans" font-size="16" text-anchor="middle" fill="#000" stroke="#000" stroke-width="0.3">Vista</text>
<line x1="655.7" y1="655.5" x2="697" y2="655.5" stroke="#000" stroke-width="0.9"/>
<text x="676" y="669.3" font-family="Liberation Sans" font-size="16" text-anchor="middle" fill="#000" stroke="#000" stroke-width="0.3" font-style="italic">View</text>
<text x="710" y="660.7" font-family="Liberation Sans" font-size="16" text-anchor="middle" fill="#000" stroke="#000" stroke-width="0.3">A</text>
<line x1="804.3" y1="214.8" x2="950.4" y2="214.8" stroke="#000" stroke-width="0.9"/>
<circle cx="970" cy="214.3" r="19.6" stroke="#000" stroke-width="1" fill="#fff"/>
<text x="970" y="220.3" font-family="Liberation Sans" font-size="17" text-anchor="middle" fill="#000" stroke="#000" stroke-width="0.3">2</text>
<polyline points="779.5,383.5 824,344 833.7,344" stroke="#000" stroke-width="0.9" fill="none"/>
<circle cx="853.3" cy="344" r="19.6" stroke="#000" stroke-width="1" fill="#fff"/>
<text x="853.3" y="350" font-family="Liberation Sans" font-size="17" text-anchor="middle" fill="#000" stroke="#000" stroke-width="0.3">5</text>
<polyline points="1153.5,287.2 1137.5,287.2 1137.5,480.5 1160,480.5" stroke="#000" stroke-width="1.6" fill="none"/>
<polyline points="1381,287.2 1397,287.2 1397,480.5 1374,480.5" stroke="#000" stroke-width="1.6" fill="none"/>
<rect x="1133.3" y="288.7" width="4.2" height="10" stroke="#000" stroke-width="1.1" fill="#fff"/>
<line x1="1133.3" y1="292.1" x2="1137.5" y2="292.1" stroke="#000" stroke-width="0.7"/>
<line x1="1133.3" y1="295.3" x2="1137.5" y2="295.3" stroke="#000" stroke-width="0.7"/>
<rect x="1397" y="288.7" width="4.2" height="10" stroke="#000" stroke-width="1.1" fill="#fff"/>
<line x1="1397" y1="292.1" x2="1401.2" y2="292.1" stroke="#000" stroke-width="0.7"/>
<line x1="1397" y1="295.3" x2="1401.2" y2="295.3" stroke="#000" stroke-width="0.7"/>
<rect x="1133.3" y="378.7" width="4.2" height="10" stroke="#000" stroke-width="1.1" fill="#fff"/>
<line x1="1133.3" y1="382.1" x2="1137.5" y2="382.1" stroke="#000" stroke-width="0.7"/>
<line x1="1133.3" y1="385.3" x2="1137.5" y2="385.3" stroke="#000" stroke-width="0.7"/>
<rect x="1397" y="378.7" width="4.2" height="10" stroke="#000" stroke-width="1.1" fill="#fff"/>
<line x1="1397" y1="382.1" x2="1401.2" y2="382.1" stroke="#000" stroke-width="0.7"/>
<line x1="1397" y1="385.3" x2="1401.2" y2="385.3" stroke="#000" stroke-width="0.7"/>
<rect x="1133.3" y="468.2" width="4.2" height="10" stroke="#000" stroke-width="1.1" fill="#fff"/>
<line x1="1133.3" y1="471.6" x2="1137.5" y2="471.6" stroke="#000" stroke-width="0.7"/>
<line x1="1133.3" y1="474.8" x2="1137.5" y2="474.8" stroke="#000" stroke-width="0.7"/>
<rect x="1397" y="468.2" width="4.2" height="10" stroke="#000" stroke-width="1.1" fill="#fff"/>
<line x1="1397" y1="471.6" x2="1401.2" y2="471.6" stroke="#000" stroke-width="0.7"/>
<line x1="1397" y1="474.8" x2="1401.2" y2="474.8" stroke="#000" stroke-width="0.7"/>
<polyline points="1160,480.5 1150.5,509.5 1198,509.5 1198,500" stroke="#000" stroke-width="1.6" fill="none"/>
<polyline points="1374,480.5 1384,509.5 1336.5,509.5 1336.5,500" stroke="#000" stroke-width="1.6" fill="none"/>
<circle cx="1167.3" cy="489.8" r="2.8" stroke="#000" stroke-width="1.2" fill="none"/>
<circle cx="1367.3" cy="489.8" r="2.8" stroke="#000" stroke-width="1.2" fill="none"/>
<line x1="1152" y1="502.8" x2="1198" y2="502.8" stroke="#000" stroke-width="0.8"/>
<line x1="1336.5" y1="502.8" x2="1382" y2="502.8" stroke="#000" stroke-width="0.8"/>
<path d="M1154,287 L1154,162 Q1154,154.5 1161.5,154.5 L1263.5,151.5 M1270.5,151.5 L1373.3,154.5 Q1380.8,154.5 1380.8,162 L1380.8,287" stroke="#000" stroke-width="1.8" fill="none"/>
<line x1="1161.9" y1="158" x2="1161.9" y2="287" stroke="#000" stroke-width="0.9"/>
<line x1="1373.5" y1="158" x2="1373.5" y2="287" stroke="#000" stroke-width="0.9"/>
<line x1="1154" y1="167" x2="1380.8" y2="167" stroke="#000" stroke-width="1"/>
<path d="M1154.8,178.3 L1252.8,183.2 A3.6,3.6 0 0 1 1252.8,190.4 L1154.8,195.2" stroke="#000" stroke-width="1.7" fill="none"/>
<line x1="1156" y1="181.2" x2="1252.5" y2="185.2" stroke="#000" stroke-width="0.8"/>
<line x1="1156" y1="192.4" x2="1252.5" y2="188.6" stroke="#000" stroke-width="0.8"/>
<path d="M1379.8,178.3 L1281.8,183.2 A3.6,3.6 0 0 0 1281.8,190.4 L1379.8,195.2" stroke="#000" stroke-width="1.7" fill="none"/>
<line x1="1378.6" y1="181.2" x2="1282.1" y2="185.2" stroke="#000" stroke-width="0.8"/>
<line x1="1378.6" y1="192.4" x2="1282.1" y2="188.6" stroke="#000" stroke-width="0.8"/>
<rect x="1380.8" y="173" width="4.2" height="10" stroke="#000" stroke-width="1.1" fill="#fff"/>
<line x1="1380.8" y1="176.4" x2="1385" y2="176.4" stroke="#000" stroke-width="0.7"/>
<line x1="1380.8" y1="179.6" x2="1385" y2="179.6" stroke="#000" stroke-width="0.7"/>
<rect x="1380.8" y="189" width="4.2" height="10" stroke="#000" stroke-width="1.1" fill="#fff"/>
<line x1="1380.8" y1="192.4" x2="1385" y2="192.4" stroke="#000" stroke-width="0.7"/>
<line x1="1380.8" y1="195.6" x2="1385" y2="195.6" stroke="#000" stroke-width="0.7"/>
<rect x="1380.8" y="252.6" width="4.2" height="10" stroke="#000" stroke-width="1.1" fill="#fff"/>
<line x1="1380.8" y1="256" x2="1385" y2="256" stroke="#000" stroke-width="0.7"/>
<line x1="1380.8" y1="259.2" x2="1385" y2="259.2" stroke="#000" stroke-width="0.7"/>
<rect x="1380.8" y="274" width="4.2" height="10" stroke="#000" stroke-width="1.1" fill="#fff"/>
<line x1="1380.8" y1="277.4" x2="1385" y2="277.4" stroke="#000" stroke-width="0.7"/>
<line x1="1380.8" y1="280.6" x2="1385" y2="280.6" stroke="#000" stroke-width="0.7"/>
<rect x="1263.5" y="148.4" width="7" height="74" stroke="#000" stroke-width="1.4" fill="#fff"/>
<line x1="1267.3" y1="150" x2="1267.3" y2="222" stroke="#000" stroke-width="0.8"/>
<circle cx="1209.2" cy="215.5" r="18.5" stroke="#000" stroke-width="2" fill="none"/>
<circle cx="1209.2" cy="215.5" r="5.3" fill="#000"/>
<circle cx="1325" cy="215.5" r="18.5" stroke="#000" stroke-width="2" fill="none"/>
<circle cx="1325" cy="215.5" r="1" fill="#000"/>
<path d="M1249,244.8 L1251,232 Q1253,222.4 1267.2,222.4 Q1281.4,222.4 1283.4,232 L1285.4,244.8" stroke="#000" stroke-width="1.8" fill="#fff"/>
<path d="M1258.8,244 L1258.8,236 Q1258.8,229.9 1267.3,229.9 Q1276.5,229.9 1276.5,236 L1276.5,244" stroke="#000" stroke-width="1.6" fill="none"/>
<line x1="1263.5" y1="230" x2="1263.5" y2="244" stroke="#000" stroke-width="0.9"/>
<line x1="1270.5" y1="230" x2="1270.5" y2="244" stroke="#000" stroke-width="0.9"/>
<circle cx="1267.3" cy="383.7" r="139.1" stroke="#000" stroke-width="2" fill="#fff"/>
<circle cx="1267.3" cy="383.7" r="122.7" stroke="#000" stroke-width="2.6" fill="none"/>
<circle cx="1267.3" cy="383.7" r="118.4" stroke="#000" stroke-width="1.6" fill="none"/>
<circle cx="1267.3" cy="383.7" r="104.5" stroke="#000" stroke-width="2.2" fill="none"/>
<circle cx="1267.3" cy="383.7" r="89.5" stroke="#000" stroke-width="0.9" fill="none"/>
<circle cx="1267.3" cy="383.7" r="83.7" stroke="#000" stroke-width="2" fill="none"/>
<circle cx="1267.3" cy="383.7" r="78.6" stroke="#000" stroke-width="0.8" fill="none" stroke-dasharray="10,3,2,3"/>
<circle cx="1267.3" cy="383.7" r="130.9" stroke="#555" stroke-width="0.7" fill="none" stroke-dasharray="10,3,2,3"/>
<path d="M1393.74,349.82 A130.9,130.9 0 0 1 1393.74,417.58" stroke="#000" stroke-width="9.6" fill="none" stroke-linecap="round"/>
<path d="M1393.74,349.82 A130.9,130.9 0 0 1 1393.74,417.58" stroke="#fff" stroke-width="6.6" fill="none" stroke-linecap="round"/>
<path d="M1394.31,352.03 A130.9,130.9 0 0 1 1394.31,415.37" stroke="#666" stroke-width="0.8" fill="none" stroke-dasharray="8,2,2,2"/>
<path d="M1380.66,449.15 A130.9,130.9 0 0 1 1332.75,497.06" stroke="#000" stroke-width="9.6" fill="none" stroke-linecap="round"/>
<path d="M1380.66,449.15 A130.9,130.9 0 0 1 1332.75,497.06" stroke="#fff" stroke-width="6.6" fill="none" stroke-linecap="round"/>
<path d="M1379.5,451.12 A130.9,130.9 0 0 1 1334.72,495.9" stroke="#666" stroke-width="0.8" fill="none" stroke-dasharray="8,2,2,2"/>
<path d="M1301.18,510.14 A130.9,130.9 0 0 1 1233.42,510.14" stroke="#000" stroke-width="9.6" fill="none" stroke-linecap="round"/>
<path d="M1301.18,510.14 A130.9,130.9 0 0 1 1233.42,510.14" stroke="#fff" stroke-width="6.6" fill="none" stroke-linecap="round"/>
<path d="M1298.97,510.71 A130.9,130.9 0 0 1 1235.63,510.71" stroke="#666" stroke-width="0.8" fill="none" stroke-dasharray="8,2,2,2"/>
<path d="M1201.85,497.06 A130.9,130.9 0 0 1 1153.94,449.15" stroke="#000" stroke-width="9.6" fill="none" stroke-linecap="round"/>
<path d="M1201.85,497.06 A130.9,130.9 0 0 1 1153.94,449.15" stroke="#fff" stroke-width="6.6" fill="none" stroke-linecap="round"/>
<path d="M1199.88,495.9 A130.9,130.9 0 0 1 1155.1,451.12" stroke="#666" stroke-width="0.8" fill="none" stroke-dasharray="8,2,2,2"/>
<path d="M1140.86,417.58 A130.9,130.9 0 0 1 1140.86,349.82" stroke="#000" stroke-width="9.6" fill="none" stroke-linecap="round"/>
<path d="M1140.86,417.58 A130.9,130.9 0 0 1 1140.86,349.82" stroke="#fff" stroke-width="6.6" fill="none" stroke-linecap="round"/>
<path d="M1140.29,415.37 A130.9,130.9 0 0 1 1140.29,352.03" stroke="#666" stroke-width="0.8" fill="none" stroke-dasharray="8,2,2,2"/>
<path d="M1153.94,318.25 A130.9,130.9 0 0 1 1201.85,270.34" stroke="#000" stroke-width="9.6" fill="none" stroke-linecap="round"/>
<path d="M1153.94,318.25 A130.9,130.9 0 0 1 1201.85,270.34" stroke="#fff" stroke-width="6.6" fill="none" stroke-linecap="round"/>
<path d="M1155.1,316.28 A130.9,130.9 0 0 1 1199.88,271.5" stroke="#666" stroke-width="0.8" fill="none" stroke-dasharray="8,2,2,2"/>
<path d="M1233.42,257.26 A130.9,130.9 0 0 1 1301.18,257.26" stroke="#000" stroke-width="9.6" fill="none" stroke-linecap="round"/>
<path d="M1233.42,257.26 A130.9,130.9 0 0 1 1301.18,257.26" stroke="#fff" stroke-width="6.6" fill="none" stroke-linecap="round"/>
<path d="M1235.63,256.69 A130.9,130.9 0 0 1 1298.97,256.69" stroke="#666" stroke-width="0.8" fill="none" stroke-dasharray="8,2,2,2"/>
<path d="M1332.75,270.34 A130.9,130.9 0 0 1 1380.66,318.25" stroke="#000" stroke-width="9.6" fill="none" stroke-linecap="round"/>
<path d="M1332.75,270.34 A130.9,130.9 0 0 1 1380.66,318.25" stroke="#fff" stroke-width="6.6" fill="none" stroke-linecap="round"/>
<path d="M1334.72,271.5 A130.9,130.9 0 0 1 1379.5,316.28" stroke="#666" stroke-width="0.8" fill="none" stroke-dasharray="8,2,2,2"/>
<circle cx="1388.24" cy="433.79" r="4.1" stroke="#000" stroke-width="1.5" fill="#fff"/>
<line x1="1385.24" y1="433.79" x2="1391.24" y2="433.79" stroke="#000" stroke-width="0.6"/>
<line x1="1388.24" y1="430.79" x2="1388.24" y2="436.79" stroke="#000" stroke-width="0.6"/>
<circle cx="1317.39" cy="504.64" r="4.1" stroke="#000" stroke-width="1.5" fill="#fff"/>
<line x1="1314.39" y1="504.64" x2="1320.39" y2="504.64" stroke="#000" stroke-width="0.6"/>
<line x1="1317.39" y1="501.64" x2="1317.39" y2="507.64" stroke="#000" stroke-width="0.6"/>
<circle cx="1217.21" cy="504.64" r="4.1" stroke="#000" stroke-width="1.5" fill="#fff"/>
<line x1="1214.21" y1="504.64" x2="1220.21" y2="504.64" stroke="#000" stroke-width="0.6"/>
<line x1="1217.21" y1="501.64" x2="1217.21" y2="507.64" stroke="#000" stroke-width="0.6"/>
<circle cx="1146.36" cy="433.79" r="4.1" stroke="#000" stroke-width="1.5" fill="#fff"/>
<line x1="1143.36" y1="433.79" x2="1149.36" y2="433.79" stroke="#000" stroke-width="0.6"/>
<line x1="1146.36" y1="430.79" x2="1146.36" y2="436.79" stroke="#000" stroke-width="0.6"/>
<circle cx="1146.36" cy="333.61" r="4.1" stroke="#000" stroke-width="1.5" fill="#fff"/>
<line x1="1143.36" y1="333.61" x2="1149.36" y2="333.61" stroke="#000" stroke-width="0.6"/>
<line x1="1146.36" y1="330.61" x2="1146.36" y2="336.61" stroke="#000" stroke-width="0.6"/>
<circle cx="1217.21" cy="262.76" r="4.1" stroke="#000" stroke-width="1.5" fill="#fff"/>
<line x1="1214.21" y1="262.76" x2="1220.21" y2="262.76" stroke="#000" stroke-width="0.6"/>
<line x1="1217.21" y1="259.76" x2="1217.21" y2="265.76" stroke="#000" stroke-width="0.6"/>
<circle cx="1317.39" cy="262.76" r="4.1" stroke="#000" stroke-width="1.5" fill="#fff"/>
<line x1="1314.39" y1="262.76" x2="1320.39" y2="262.76" stroke="#000" stroke-width="0.6"/>
<line x1="1317.39" y1="259.76" x2="1317.39" y2="265.76" stroke="#000" stroke-width="0.6"/>
<circle cx="1388.24" cy="333.61" r="4.1" stroke="#000" stroke-width="1.5" fill="#fff"/>
<line x1="1385.24" y1="333.61" x2="1391.24" y2="333.61" stroke="#000" stroke-width="0.6"/>
<line x1="1388.24" y1="330.61" x2="1388.24" y2="336.61" stroke="#000" stroke-width="0.6"/>
<line x1="1345.67" y1="414" x2="1364.15" y2="421.65" stroke="#000" stroke-width="1.1"/>
<line x1="1345.14" y1="415.29" x2="1363.61" y2="422.94" stroke="#000" stroke-width="0.7"/>
<line x1="1344.68" y1="416.4" x2="1363.15" y2="424.05" stroke="#000" stroke-width="0.7"/>
<line x1="1344.14" y1="417.69" x2="1362.62" y2="425.35" stroke="#000" stroke-width="1.1"/>
<line x1="1301.29" y1="460.54" x2="1308.95" y2="479.02" stroke="#000" stroke-width="1.1"/>
<line x1="1300" y1="461.08" x2="1307.65" y2="479.55" stroke="#000" stroke-width="0.7"/>
<line x1="1298.89" y1="461.54" x2="1306.54" y2="480.01" stroke="#000" stroke-width="0.7"/>
<line x1="1297.6" y1="462.07" x2="1305.25" y2="480.55" stroke="#000" stroke-width="1.1"/>
<line x1="1237" y1="462.07" x2="1229.35" y2="480.55" stroke="#000" stroke-width="1.1"/>
<line x1="1235.71" y1="461.54" x2="1228.06" y2="480.01" stroke="#000" stroke-width="0.7"/>
<line x1="1234.6" y1="461.08" x2="1226.95" y2="479.55" stroke="#000" stroke-width="0.7"/>
<line x1="1233.31" y1="460.54" x2="1225.65" y2="479.02" stroke="#000" stroke-width="1.1"/>
<line x1="1190.46" y1="417.69" x2="1171.98" y2="425.35" stroke="#000" stroke-width="1.1"/>
<line x1="1189.92" y1="416.4" x2="1171.45" y2="424.05" stroke="#000" stroke-width="0.7"/>
<line x1="1189.46" y1="415.29" x2="1170.99" y2="422.94" stroke="#000" stroke-width="0.7"/>
<line x1="1188.93" y1="414" x2="1170.45" y2="421.65" stroke="#000" stroke-width="1.1"/>
<line x1="1188.93" y1="353.4" x2="1170.45" y2="345.75" stroke="#000" stroke-width="1.1"/>
<line x1="1189.46" y1="352.11" x2="1170.99" y2="344.46" stroke="#000" stroke-width="0.7"/>
<line x1="1189.92" y1="351" x2="1171.45" y2="343.35" stroke="#000" stroke-width="0.7"/>
<line x1="1190.46" y1="349.71" x2="1171.98" y2="342.05" stroke="#000" stroke-width="1.1"/>
<line x1="1233.31" y1="306.86" x2="1225.65" y2="288.38" stroke="#000" stroke-width="1.1"/>
<line x1="1234.6" y1="306.32" x2="1226.95" y2="287.85" stroke="#000" stroke-width="0.7"/>
<line x1="1235.71" y1="305.86" x2="1228.06" y2="287.39" stroke="#000" stroke-width="0.7"/>
<line x1="1237" y1="305.33" x2="1229.35" y2="286.85" stroke="#000" stroke-width="1.1"/>
<line x1="1297.6" y1="305.33" x2="1305.25" y2="286.85" stroke="#000" stroke-width="1.1"/>
<line x1="1298.89" y1="305.86" x2="1306.54" y2="287.39" stroke="#000" stroke-width="0.7"/>
<line x1="1300" y1="306.32" x2="1307.65" y2="287.85" stroke="#000" stroke-width="0.7"/>
<line x1="1301.29" y1="306.86" x2="1308.95" y2="288.38" stroke="#000" stroke-width="1.1"/>
<line x1="1344.14" y1="349.71" x2="1362.62" y2="342.05" stroke="#000" stroke-width="1.1"/>
<line x1="1344.68" y1="351" x2="1363.15" y2="343.35" stroke="#000" stroke-width="0.7"/>
<line x1="1345.14" y1="352.11" x2="1363.61" y2="344.46" stroke="#000" stroke-width="0.7"/>
<line x1="1345.67" y1="353.4" x2="1364.15" y2="345.75" stroke="#000" stroke-width="1.1"/>
<circle cx="1345.9" cy="383.7" r="3.4" stroke="#000" stroke-width="1.3" fill="#fff"/>
<line x1="1343.5" y1="383.7" x2="1348.3" y2="383.7" stroke="#000" stroke-width="0.5"/>
<line x1="1345.9" y1="381.3" x2="1345.9" y2="386.1" stroke="#000" stroke-width="0.5"/>
<circle cx="1306.6" cy="451.77" r="3.4" stroke="#000" stroke-width="1.3" fill="#fff"/>
<line x1="1304.2" y1="451.77" x2="1309" y2="451.77" stroke="#000" stroke-width="0.5"/>
<line x1="1306.6" y1="449.37" x2="1306.6" y2="454.17" stroke="#000" stroke-width="0.5"/>
<circle cx="1228" cy="451.77" r="3.4" stroke="#000" stroke-width="1.3" fill="#fff"/>
<line x1="1225.6" y1="451.77" x2="1230.4" y2="451.77" stroke="#000" stroke-width="0.5"/>
<line x1="1228" y1="449.37" x2="1228" y2="454.17" stroke="#000" stroke-width="0.5"/>
<circle cx="1188.7" cy="383.7" r="3.4" stroke="#000" stroke-width="1.3" fill="#fff"/>
<line x1="1186.3" y1="383.7" x2="1191.1" y2="383.7" stroke="#000" stroke-width="0.5"/>
<line x1="1188.7" y1="381.3" x2="1188.7" y2="386.1" stroke="#000" stroke-width="0.5"/>
<circle cx="1228" cy="315.63" r="3.4" stroke="#000" stroke-width="1.3" fill="#fff"/>
<line x1="1225.6" y1="315.63" x2="1230.4" y2="315.63" stroke="#000" stroke-width="0.5"/>
<line x1="1228" y1="313.23" x2="1228" y2="318.03" stroke="#000" stroke-width="0.5"/>
<circle cx="1306.6" cy="315.63" r="3.4" stroke="#000" stroke-width="1.3" fill="#fff"/>
<line x1="1304.2" y1="315.63" x2="1309" y2="315.63" stroke="#000" stroke-width="0.5"/>
<line x1="1306.6" y1="313.23" x2="1306.6" y2="318.03" stroke="#000" stroke-width="0.5"/>
<circle cx="1267.3" cy="383.7" r="36.8" stroke="#000" stroke-width="1.5" fill="none"/>
<circle cx="1285.8" cy="383.7" r="7.25" stroke="#000" stroke-width="2.8" fill="none"/>
<circle cx="1276.55" cy="399.72" r="7.25" stroke="#000" stroke-width="2.8" fill="none"/>
<circle cx="1258.05" cy="399.72" r="7.25" stroke="#000" stroke-width="2.8" fill="none"/>
<circle cx="1248.8" cy="383.7" r="7.25" stroke="#000" stroke-width="2.8" fill="none"/>
<circle cx="1258.05" cy="367.68" r="7.25" stroke="#000" stroke-width="2.8" fill="none"/>
<circle cx="1276.55" cy="367.68" r="7.25" stroke="#000" stroke-width="2.8" fill="none"/>
<circle cx="1267.3" cy="383.7" r="7.2" stroke="#000" stroke-width="2.8" fill="none"/>
<circle cx="1267.3" cy="383.7" r="5" stroke="#666" stroke-width="0.7" fill="none"/>
<circle cx="1267.3" cy="383.7" r="2.6" stroke="#000" stroke-width="0.9" fill="none"/>
<line x1="1079" y1="383.7" x2="1440" y2="383.7" stroke="#000" stroke-width="0.8" stroke-dasharray="19,3,2,3"/>
<line x1="1267.3" y1="222" x2="1267.3" y2="545" stroke="#000" stroke-width="0.8" stroke-dasharray="19,3,2,3"/>
<line x1="1190" y1="215.5" x2="1230" y2="215.5" stroke="#000" stroke-width="0.8"/>
<line x1="1209.2" y1="196" x2="1209.2" y2="234" stroke="#000" stroke-width="0.8"/>
<line x1="1153.5" y1="88" x2="1153.5" y2="154" stroke="#000" stroke-width="0.9"/>
<line x1="1385.8" y1="88" x2="1385.8" y2="250" stroke="#000" stroke-width="0.9"/>
<line x1="1153.5" y1="98.1" x2="1385.8" y2="98.1" stroke="#000" stroke-width="1"/>
<polygon points="1153.5,98.1 1165,96.35 1165,99.85" fill="#000"/>
<polygon points="1385.8,98.1 1374.3,99.85 1374.3,96.35" fill="#000"/>
<text x="1267.3" y="91.4" font-family="Liberation Sans" font-size="17" text-anchor="middle" fill="#000" stroke="#000" stroke-width="0.3">295.1</text>
<line x1="1209.2" y1="118" x2="1209.2" y2="198" stroke="#000" stroke-width="0.9"/>
<line x1="1267.3" y1="118" x2="1267.3" y2="148" stroke="#000" stroke-width="0.9"/>
<line x1="1209.2" y1="128" x2="1267.3" y2="128" stroke="#000" stroke-width="1"/>
<polygon points="1209.2,128 1220.7,126.25 1220.7,129.75" fill="#000"/>
<polygon points="1267.3,128 1255.8,129.75 1255.8,126.25" fill="#000"/>
<text x="1238" y="120.7" font-family="Liberation Sans" font-size="17" text-anchor="middle" fill="#000" stroke="#000" stroke-width="0.3">74.2</text>
<line x1="1045" y1="148" x2="1263" y2="148" stroke="#000" stroke-width="0.9"/>
<line x1="1045" y1="509.4" x2="1147.6" y2="509.4" stroke="#000" stroke-width="0.9"/>
<line x1="1052.9" y1="148" x2="1052.9" y2="509.4" stroke="#000" stroke-width="1"/>
<polygon points="1052.9,148 1054.65,159.5 1051.15,159.5" fill="#000"/>
<polygon points="1052.9,509.4 1051.15,497.9 1054.65,497.9" fill="#000"/>
<text x="1045.5" y="331" font-family="Liberation Sans" font-size="17" text-anchor="middle" fill="#000" stroke="#000" stroke-width="0.3" transform="rotate(-90 1045.5 331)">460</text>
<line x1="1079" y1="215.5" x2="1190" y2="215.5" stroke="#000" stroke-width="0.9"/>
<line x1="1086.9" y1="215.5" x2="1086.9" y2="509.4" stroke="#000" stroke-width="0.9"/>
<polygon points="1086.9,215.5 1088.65,227 1085.15,227" fill="#000"/>
<polygon points="1086.9,383.7 1085.15,372.2 1088.65,372.2" fill="#000"/>
<polygon points="1086.9,383.7 1088.65,395.2 1085.15,395.2" fill="#000"/>
<polygon points="1086.9,509.4 1085.15,497.9 1088.65,497.9" fill="#000"/>
<text x="1080.5" y="300" font-family="Liberation Sans" font-size="17" text-anchor="middle" fill="#000" stroke="#000" stroke-width="0.3" transform="rotate(-90 1080.5 300)">214.3</text>
<text x="1076" y="475.3" font-family="Liberation Sans" font-size="17" text-anchor="start" fill="#000" stroke="#000" stroke-width="0.3" transform="rotate(-90 1076 475.3)">160</text>
<text x="1066.5" y="435.2" font-family="Liberation Sans" font-size="11" text-anchor="middle" fill="#000" stroke="#000" stroke-width="0.3" transform="rotate(-90 1066.5 435.2)">0</text>
<text x="1076.5" y="444" font-family="Liberation Sans" font-size="11" text-anchor="start" fill="#000" stroke="#000" stroke-width="0.3" transform="rotate(-90 1076.5 444)">-0.5</text>
<line x1="1270.5" y1="221.9" x2="1437" y2="221.9" stroke="#000" stroke-width="0.9"/>
<line x1="1345" y1="383.7" x2="1437" y2="383.7" stroke="#000" stroke-width="0.9"/>
<line x1="1429.2" y1="221.9" x2="1429.2" y2="383.7" stroke="#000" stroke-width="1"/>
<polygon points="1429.2,221.9 1430.95,233.4 1427.45,233.4" fill="#000"/>
<polygon points="1429.2,383.7 1427.45,372.2 1430.95,372.2" fill="#000"/>
<text x="1422" y="302.9" font-family="Liberation Sans" font-size="17" text-anchor="middle" fill="#000" stroke="#000" stroke-width="0.3" transform="rotate(-90 1422 302.9)">206</text>
<line x1="1188.7" y1="390" x2="1188.7" y2="578" stroke="#000" stroke-width="0.9"/>
<line x1="1345.6" y1="390" x2="1345.6" y2="578" stroke="#000" stroke-width="0.9"/>
<line x1="1188.7" y1="570" x2="1345.6" y2="570" stroke="#000" stroke-width="1"/>
<polygon points="1188.7,570 1200.2,568.25 1200.2,571.75" fill="#000"/>
<polygon points="1345.6,570 1334.1,571.75 1334.1,568.25" fill="#000"/>
<text x="1267.9" y="562.6" font-family="Liberation Sans" font-size="17" text-anchor="middle" fill="#000" stroke="#000" stroke-width="0.3">ø Q1</text>
<line x1="1136.5" y1="440" x2="1136.5" y2="608" stroke="#000" stroke-width="0.9"/>
<line x1="1398.4" y1="440" x2="1398.4" y2="608" stroke="#000" stroke-width="0.9"/>
<line x1="1136.5" y1="600.5" x2="1398.4" y2="600.5" stroke="#000" stroke-width="1"/>
<polygon points="1136.5,600.5 1148,598.75 1148,602.25" fill="#000"/>
<polygon points="1398.4,600.5 1386.9,602.25 1386.9,598.75" fill="#000"/>
<text x="1267" y="592.5" font-family="Liberation Sans" font-size="17" text-anchor="middle" fill="#000" stroke="#000" stroke-width="0.3">ø Q</text>
<path d="M1116.3,383.7 A151,151 0 0 1 1209.51,244.19" stroke="#000" stroke-width="0.9" fill="none"/>
<polygon points="1116.3,383.7 1114.55,372.2 1118.05,372.2" fill="#000"/>
<polygon points="1127.79,325.91 1130.58,314.62 1133.81,315.96" fill="#000"/>
<polygon points="1127.79,325.91 1125.01,337.21 1121.77,335.87" fill="#000"/>
<polygon points="1209.51,244.19 1199.56,250.21 1198.22,246.98" fill="#000"/>
<line x1="1138.88" y1="330.51" x2="1117.63" y2="321.71" stroke="#000" stroke-width="0.9"/>
<line x1="1217.17" y1="262.67" x2="1205.31" y2="234.03" stroke="#000" stroke-width="0.9"/>
<text x="1114.5" y="351" font-family="Liberation Sans" font-size="19" text-anchor="middle" fill="#000" stroke="#000" stroke-width="0.3" transform="rotate(-80 1114.5 351)" xml:space="preserve">α /2</text>
<text x="1151" y="277" font-family="Liberation Sans" font-size="20" text-anchor="middle" fill="#000" stroke="#000" stroke-width="0.3" transform="rotate(-62 1151 277)">α</text>
<line x1="1217.21" y1="262.76" x2="1266" y2="214.9" stroke="#000" stroke-width="0.8"/>
<text x="1241" y="226" font-family="Liberation Sans" font-size="17" text-anchor="middle" fill="#000" stroke="#000" stroke-width="0.3" transform="rotate(-44 1241 226)">ø11n.N</text>
<line x1="1223.6" y1="441.6" x2="1327.6" y2="454.4" stroke="#000" stroke-width="0.8"/>
<polygon points="1303,451.32 1291.37,451.65 1291.8,448.18" fill="#000"/>
<polygon points="1310.2,452.22 1321.83,451.89 1321.4,455.36" fill="#000"/>
<text x="1224" y="437" font-family="Liberation Sans" font-size="16.5" text-anchor="start" fill="#000" stroke="#000" stroke-width="0.3" textLength="67" lengthAdjust="spacingAndGlyphs" transform="rotate(5 1224 437)" xml:space="preserve">ø S1n.N1</text>
<line x1="1295.2" y1="432" x2="1301.6" y2="443.6" stroke="#000" stroke-width="0.8"/>
<path d="M1330.26,385.9 A63,63 0 0 1 1301.61,436.54" stroke="#000" stroke-width="0.9" fill="none"/>
<polygon points="1330.26,385.9 1331.67,397.45 1328.17,397.34" fill="#000"/>
<polygon points="1301.61,436.54 1310.34,428.85 1312.23,431.79" fill="#000"/>
<text x="1318" y="413" font-family="Liberation Sans" font-size="19" text-anchor="middle" fill="#000" stroke="#000" stroke-width="0.3" transform="rotate(-60 1318 413)" xml:space="preserve">α 1</text>
<polyline points="1136.4,173.8 1166,173.8 1209.2,215.5" stroke="#000" stroke-width="0.9" fill="none"/>
<circle cx="1116.8" cy="173.8" r="19.6" stroke="#000" stroke-width="1" fill="#fff"/>
<text x="1110.8" y="173.8" font-family="Liberation Sans" font-size="17" text-anchor="middle" fill="#000" stroke="#000" stroke-width="0.3" transform="rotate(90 1110.8 173.8)">3</text>
<g transform="translate(752,51) scale(1,1)"><text x="0" y="0" font-family="Liberation Sans" font-size="31.5" text-anchor="middle" fill="#000" stroke="#000" stroke-width="0.3" textLength="509" lengthAdjust="spacing" xml:space="preserve">SINGLE BEARING DIMENSIONS</text></g>
</svg></body></html>
